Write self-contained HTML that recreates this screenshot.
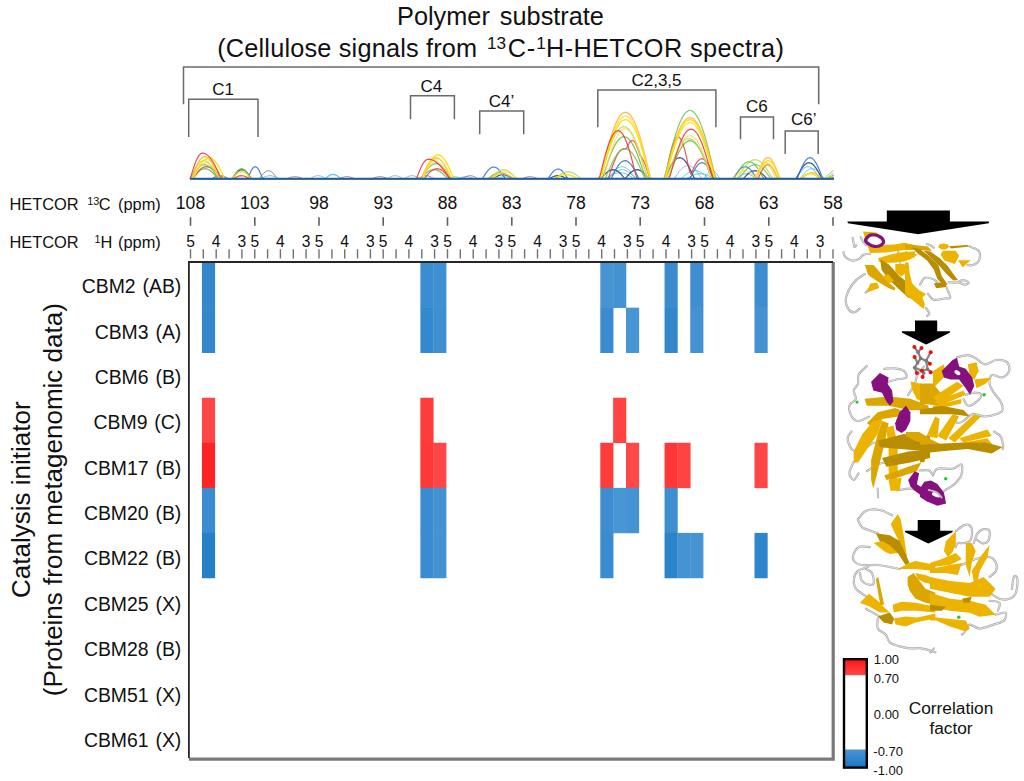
<!DOCTYPE html>
<html><head><meta charset="utf-8"><style>
html,body{margin:0;padding:0;background:#fff;overflow:hidden;}
svg{display:block}
text{font-family:'Liberation Sans',sans-serif;fill:#111}
</style></head><body>
<svg width="1024" height="781" viewBox="0 0 1024 781">
<rect width="1024" height="781" fill="#fff"/>
<text x="500.5" y="24.6" font-size="25.3" text-anchor="middle" word-spacing="3">Polymer substrate</text>
<text x="217.2" y="56.6" font-size="25.3" textLength="260" lengthAdjust="spacing">(Cellulose signals from</text>
<text x="487" y="49" font-size="17.2" textLength="19" lengthAdjust="spacing">13</text>
<text x="507.8" y="56.6" font-size="25.3" textLength="27.5" lengthAdjust="spacing">C-</text>
<text x="536.2" y="49" font-size="17.2">1</text>
<text x="546" y="56.6" font-size="25.3" textLength="238" lengthAdjust="spacing">H-HETCOR spectra)</text>
<path d="M183.5 104.2 V67 H818.7 V104.2" fill="none" stroke="#6a6a6a" stroke-width="1.5"/>
<path d="M188.7 137 V99.3 H258 V137" fill="none" stroke="#6a6a6a" stroke-width="1.5"/>
<path d="M410.5 119.2 V95.7 H454.4 V119.2" fill="none" stroke="#6a6a6a" stroke-width="1.5"/>
<path d="M479.7 134.3 V111 H523.7 V134.3" fill="none" stroke="#6a6a6a" stroke-width="1.5"/>
<path d="M597.8 127.3 V90 H715.9 V127.3" fill="none" stroke="#6a6a6a" stroke-width="1.5"/>
<path d="M740.5 139.2 V117.1 H773.5 V139.2" fill="none" stroke="#6a6a6a" stroke-width="1.5"/>
<path d="M785.2 154 V131.1 H818.2 V154" fill="none" stroke="#6a6a6a" stroke-width="1.5"/>
<text x="223.2" y="95" font-size="17" text-anchor="middle">C1</text>
<text x="431.4" y="91.5" font-size="17" text-anchor="middle">C4</text>
<text x="501.6" y="106.5" font-size="17" text-anchor="middle">C4’</text>
<text x="656.5" y="85.9" font-size="17" text-anchor="middle">C2,3,5</text>
<text x="756.8" y="112" font-size="17" text-anchor="middle">C6</text>
<text x="803.8" y="124.8" font-size="17" text-anchor="middle">C6’</text>
<text x="9.5" y="210" font-size="16.4">HETCOR</text>
<text x="87.2" y="205.2" font-size="10.8">13</text>
<text x="98.8" y="210" font-size="16.4">C</text>
<text x="118" y="210" font-size="16.4">(ppm)</text>
<text x="9.5" y="248" font-size="16.4">HETCOR</text>
<text x="94.6" y="243.2" font-size="10.8">1</text>
<text x="100.6" y="248" font-size="16.4">H</text>
<text x="118" y="248" font-size="16.4">(ppm)</text>
<text x="190.5" y="208.6" font-size="17.6" text-anchor="middle">108</text>
<line x1="190.5" y1="217.3" x2="190.5" y2="225.8" stroke="#606060" stroke-width="1.6"/>
<text x="254.8" y="208.6" font-size="17.6" text-anchor="middle">103</text>
<line x1="254.8" y1="217.3" x2="254.8" y2="225.8" stroke="#606060" stroke-width="1.6"/>
<text x="319.0" y="208.6" font-size="17.6" text-anchor="middle">98</text>
<line x1="319.0" y1="217.3" x2="319.0" y2="225.8" stroke="#606060" stroke-width="1.6"/>
<text x="383.2" y="208.6" font-size="17.6" text-anchor="middle">93</text>
<line x1="383.2" y1="217.3" x2="383.2" y2="225.8" stroke="#606060" stroke-width="1.6"/>
<text x="447.5" y="208.6" font-size="17.6" text-anchor="middle">88</text>
<line x1="447.5" y1="217.3" x2="447.5" y2="225.8" stroke="#606060" stroke-width="1.6"/>
<text x="511.8" y="208.6" font-size="17.6" text-anchor="middle">83</text>
<line x1="511.8" y1="217.3" x2="511.8" y2="225.8" stroke="#606060" stroke-width="1.6"/>
<text x="576.0" y="208.6" font-size="17.6" text-anchor="middle">78</text>
<line x1="576.0" y1="217.3" x2="576.0" y2="225.8" stroke="#606060" stroke-width="1.6"/>
<text x="640.2" y="208.6" font-size="17.6" text-anchor="middle">73</text>
<line x1="640.2" y1="217.3" x2="640.2" y2="225.8" stroke="#606060" stroke-width="1.6"/>
<text x="704.5" y="208.6" font-size="17.6" text-anchor="middle">68</text>
<line x1="704.5" y1="217.3" x2="704.5" y2="225.8" stroke="#606060" stroke-width="1.6"/>
<text x="768.8" y="208.6" font-size="17.6" text-anchor="middle">63</text>
<line x1="768.8" y1="217.3" x2="768.8" y2="225.8" stroke="#606060" stroke-width="1.6"/>
<text x="833.0" y="208.6" font-size="17.6" text-anchor="middle">58</text>
<line x1="833.0" y1="217.3" x2="833.0" y2="225.8" stroke="#606060" stroke-width="1.6"/>
<line x1="190.5" y1="249.2" x2="190.5" y2="258.5" stroke="#707070" stroke-width="1.4"/>
<text x="190.5" y="247" font-size="15.6" text-anchor="middle">5</text>
<line x1="203.3" y1="249.2" x2="203.3" y2="258.5" stroke="#707070" stroke-width="1.4"/>
<line x1="216.2" y1="249.2" x2="216.2" y2="258.5" stroke="#707070" stroke-width="1.4"/>
<text x="216.2" y="247" font-size="15.6" text-anchor="middle">4</text>
<line x1="229.1" y1="249.2" x2="229.1" y2="258.5" stroke="#707070" stroke-width="1.4"/>
<line x1="241.9" y1="249.2" x2="241.9" y2="258.5" stroke="#707070" stroke-width="1.4"/>
<text x="241.9" y="247" font-size="15.6" text-anchor="middle">3</text>
<line x1="254.8" y1="249.2" x2="254.8" y2="258.5" stroke="#707070" stroke-width="1.4"/>
<text x="254.8" y="247" font-size="15.6" text-anchor="middle">5</text>
<line x1="267.6" y1="249.2" x2="267.6" y2="258.5" stroke="#707070" stroke-width="1.4"/>
<line x1="280.4" y1="249.2" x2="280.4" y2="258.5" stroke="#707070" stroke-width="1.4"/>
<text x="280.4" y="247" font-size="15.6" text-anchor="middle">4</text>
<line x1="293.3" y1="249.2" x2="293.3" y2="258.5" stroke="#707070" stroke-width="1.4"/>
<line x1="306.1" y1="249.2" x2="306.1" y2="258.5" stroke="#707070" stroke-width="1.4"/>
<text x="306.1" y="247" font-size="15.6" text-anchor="middle">3</text>
<line x1="319.0" y1="249.2" x2="319.0" y2="258.5" stroke="#707070" stroke-width="1.4"/>
<text x="319.0" y="247" font-size="15.6" text-anchor="middle">5</text>
<line x1="331.9" y1="249.2" x2="331.9" y2="258.5" stroke="#707070" stroke-width="1.4"/>
<line x1="344.7" y1="249.2" x2="344.7" y2="258.5" stroke="#707070" stroke-width="1.4"/>
<text x="344.7" y="247" font-size="15.6" text-anchor="middle">4</text>
<line x1="357.5" y1="249.2" x2="357.5" y2="258.5" stroke="#707070" stroke-width="1.4"/>
<line x1="370.4" y1="249.2" x2="370.4" y2="258.5" stroke="#707070" stroke-width="1.4"/>
<text x="370.4" y="247" font-size="15.6" text-anchor="middle">3</text>
<line x1="383.2" y1="249.2" x2="383.2" y2="258.5" stroke="#707070" stroke-width="1.4"/>
<text x="383.2" y="247" font-size="15.6" text-anchor="middle">5</text>
<line x1="396.1" y1="249.2" x2="396.1" y2="258.5" stroke="#707070" stroke-width="1.4"/>
<line x1="408.9" y1="249.2" x2="408.9" y2="258.5" stroke="#707070" stroke-width="1.4"/>
<text x="408.9" y="247" font-size="15.6" text-anchor="middle">4</text>
<line x1="421.8" y1="249.2" x2="421.8" y2="258.5" stroke="#707070" stroke-width="1.4"/>
<line x1="434.6" y1="249.2" x2="434.6" y2="258.5" stroke="#707070" stroke-width="1.4"/>
<text x="434.6" y="247" font-size="15.6" text-anchor="middle">3</text>
<line x1="447.5" y1="249.2" x2="447.5" y2="258.5" stroke="#707070" stroke-width="1.4"/>
<text x="447.5" y="247" font-size="15.6" text-anchor="middle">5</text>
<line x1="460.3" y1="249.2" x2="460.3" y2="258.5" stroke="#707070" stroke-width="1.4"/>
<line x1="473.2" y1="249.2" x2="473.2" y2="258.5" stroke="#707070" stroke-width="1.4"/>
<text x="473.2" y="247" font-size="15.6" text-anchor="middle">4</text>
<line x1="486.1" y1="249.2" x2="486.1" y2="258.5" stroke="#707070" stroke-width="1.4"/>
<line x1="498.9" y1="249.2" x2="498.9" y2="258.5" stroke="#707070" stroke-width="1.4"/>
<text x="498.9" y="247" font-size="15.6" text-anchor="middle">3</text>
<line x1="511.8" y1="249.2" x2="511.8" y2="258.5" stroke="#707070" stroke-width="1.4"/>
<text x="511.8" y="247" font-size="15.6" text-anchor="middle">5</text>
<line x1="524.6" y1="249.2" x2="524.6" y2="258.5" stroke="#707070" stroke-width="1.4"/>
<line x1="537.5" y1="249.2" x2="537.5" y2="258.5" stroke="#707070" stroke-width="1.4"/>
<text x="537.5" y="247" font-size="15.6" text-anchor="middle">4</text>
<line x1="550.3" y1="249.2" x2="550.3" y2="258.5" stroke="#707070" stroke-width="1.4"/>
<line x1="563.1" y1="249.2" x2="563.1" y2="258.5" stroke="#707070" stroke-width="1.4"/>
<text x="563.1" y="247" font-size="15.6" text-anchor="middle">3</text>
<line x1="576.0" y1="249.2" x2="576.0" y2="258.5" stroke="#707070" stroke-width="1.4"/>
<text x="576.0" y="247" font-size="15.6" text-anchor="middle">5</text>
<line x1="588.8" y1="249.2" x2="588.8" y2="258.5" stroke="#707070" stroke-width="1.4"/>
<line x1="601.7" y1="249.2" x2="601.7" y2="258.5" stroke="#707070" stroke-width="1.4"/>
<text x="601.7" y="247" font-size="15.6" text-anchor="middle">4</text>
<line x1="614.5" y1="249.2" x2="614.5" y2="258.5" stroke="#707070" stroke-width="1.4"/>
<line x1="627.4" y1="249.2" x2="627.4" y2="258.5" stroke="#707070" stroke-width="1.4"/>
<text x="627.4" y="247" font-size="15.6" text-anchor="middle">3</text>
<line x1="640.2" y1="249.2" x2="640.2" y2="258.5" stroke="#707070" stroke-width="1.4"/>
<text x="640.2" y="247" font-size="15.6" text-anchor="middle">5</text>
<line x1="653.1" y1="249.2" x2="653.1" y2="258.5" stroke="#707070" stroke-width="1.4"/>
<line x1="666.0" y1="249.2" x2="666.0" y2="258.5" stroke="#707070" stroke-width="1.4"/>
<text x="666.0" y="247" font-size="15.6" text-anchor="middle">4</text>
<line x1="678.8" y1="249.2" x2="678.8" y2="258.5" stroke="#707070" stroke-width="1.4"/>
<line x1="691.6" y1="249.2" x2="691.6" y2="258.5" stroke="#707070" stroke-width="1.4"/>
<text x="691.6" y="247" font-size="15.6" text-anchor="middle">3</text>
<line x1="704.5" y1="249.2" x2="704.5" y2="258.5" stroke="#707070" stroke-width="1.4"/>
<text x="704.5" y="247" font-size="15.6" text-anchor="middle">5</text>
<line x1="717.4" y1="249.2" x2="717.4" y2="258.5" stroke="#707070" stroke-width="1.4"/>
<line x1="730.2" y1="249.2" x2="730.2" y2="258.5" stroke="#707070" stroke-width="1.4"/>
<text x="730.2" y="247" font-size="15.6" text-anchor="middle">4</text>
<line x1="743.0" y1="249.2" x2="743.0" y2="258.5" stroke="#707070" stroke-width="1.4"/>
<line x1="755.9" y1="249.2" x2="755.9" y2="258.5" stroke="#707070" stroke-width="1.4"/>
<text x="755.9" y="247" font-size="15.6" text-anchor="middle">3</text>
<line x1="768.8" y1="249.2" x2="768.8" y2="258.5" stroke="#707070" stroke-width="1.4"/>
<text x="768.8" y="247" font-size="15.6" text-anchor="middle">5</text>
<line x1="781.6" y1="249.2" x2="781.6" y2="258.5" stroke="#707070" stroke-width="1.4"/>
<line x1="794.4" y1="249.2" x2="794.4" y2="258.5" stroke="#707070" stroke-width="1.4"/>
<text x="794.4" y="247" font-size="15.6" text-anchor="middle">4</text>
<line x1="807.3" y1="249.2" x2="807.3" y2="258.5" stroke="#707070" stroke-width="1.4"/>
<line x1="820.1" y1="249.2" x2="820.1" y2="258.5" stroke="#707070" stroke-width="1.4"/>
<text x="820.1" y="247" font-size="15.6" text-anchor="middle">3</text>
<line x1="833.0" y1="249.2" x2="833.0" y2="258.5" stroke="#707070" stroke-width="1.4"/>
<rect x="201.95" y="262.60" width="13.15" height="45.35" fill="#3587cc"/>
<rect x="420.40" y="262.60" width="13.15" height="45.35" fill="#3b8cd0"/>
<rect x="433.25" y="262.60" width="13.15" height="45.35" fill="#3f90d2"/>
<rect x="600.30" y="262.60" width="13.15" height="45.35" fill="#4894d3"/>
<rect x="613.15" y="262.60" width="13.15" height="45.35" fill="#4592d2"/>
<rect x="664.55" y="262.60" width="13.15" height="45.35" fill="#3a8ccf"/>
<rect x="690.25" y="262.60" width="13.15" height="45.35" fill="#3f8fd0"/>
<rect x="754.50" y="262.60" width="13.15" height="45.35" fill="#3d8ed0"/>
<rect x="201.95" y="307.65" width="13.15" height="45.35" fill="#3587cc"/>
<rect x="420.40" y="307.65" width="13.15" height="45.35" fill="#3488cd"/>
<rect x="433.25" y="307.65" width="13.15" height="45.35" fill="#3d8fd2"/>
<rect x="600.30" y="307.65" width="13.15" height="45.35" fill="#3a8bd0"/>
<rect x="626.00" y="307.65" width="13.15" height="45.35" fill="#4795d3"/>
<rect x="664.55" y="307.65" width="13.15" height="45.35" fill="#3388cc"/>
<rect x="690.25" y="307.65" width="13.15" height="45.35" fill="#4592d2"/>
<rect x="754.50" y="307.65" width="13.15" height="45.35" fill="#4492d2"/>
<rect x="201.95" y="397.75" width="13.15" height="45.35" fill="#ff4646"/>
<rect x="420.40" y="397.75" width="13.15" height="45.35" fill="#ff3c3c"/>
<rect x="613.15" y="397.75" width="13.15" height="45.35" fill="#ff4242"/>
<rect x="201.95" y="442.80" width="13.15" height="45.35" fill="#ff2424"/>
<rect x="420.40" y="442.80" width="13.15" height="45.35" fill="#ff3838"/>
<rect x="433.25" y="442.80" width="13.15" height="45.35" fill="#ff4646"/>
<rect x="600.30" y="442.80" width="13.15" height="45.35" fill="#ff3c3c"/>
<rect x="626.00" y="442.80" width="13.15" height="45.35" fill="#ff4848"/>
<rect x="664.55" y="442.80" width="13.15" height="45.35" fill="#ff3636"/>
<rect x="677.40" y="442.80" width="13.15" height="45.35" fill="#ff4242"/>
<rect x="754.50" y="442.80" width="13.15" height="45.35" fill="#ff4646"/>
<rect x="201.95" y="487.85" width="13.15" height="45.35" fill="#3a8bd0"/>
<rect x="420.40" y="487.85" width="13.15" height="45.35" fill="#3a8bd0"/>
<rect x="433.25" y="487.85" width="13.15" height="45.35" fill="#4592d2"/>
<rect x="600.30" y="487.85" width="13.15" height="45.35" fill="#3d8dd0"/>
<rect x="613.15" y="487.85" width="13.15" height="45.35" fill="#4896d4"/>
<rect x="626.00" y="487.85" width="13.15" height="45.35" fill="#4593d3"/>
<rect x="664.55" y="487.85" width="13.15" height="45.35" fill="#3e8ed0"/>
<rect x="201.95" y="532.90" width="13.15" height="45.35" fill="#2680c8"/>
<rect x="420.40" y="532.90" width="13.15" height="45.35" fill="#3a8bd0"/>
<rect x="433.25" y="532.90" width="13.15" height="45.35" fill="#4592d2"/>
<rect x="600.30" y="532.90" width="13.15" height="45.35" fill="#3a8bd0"/>
<rect x="664.55" y="532.90" width="13.15" height="45.35" fill="#2a84cb"/>
<rect x="677.40" y="532.90" width="13.15" height="45.35" fill="#4593d3"/>
<rect x="690.25" y="532.90" width="13.15" height="45.35" fill="#4794d3"/>
<rect x="754.50" y="532.90" width="13.15" height="45.35" fill="#2e85cb"/>
<path d="M833.2 262 V759.2 H188.9" fill="none" stroke="#7a7a7a" stroke-width="3.2"/>
<path d="M188.9 758 V262 H833" fill="none" stroke="#262626" stroke-width="1.8"/>
<text x="181.3" y="292.7" font-size="19.4" text-anchor="end" word-spacing="1.5">CBM2 (AB)</text>
<text x="181.3" y="338.8" font-size="19.4" text-anchor="end" word-spacing="1.5">CBM3 (A)</text>
<text x="181.3" y="384" font-size="19.4" text-anchor="end" word-spacing="1.5">CBM6 (B)</text>
<text x="181.3" y="428.9" font-size="19.4" text-anchor="end" word-spacing="1.5">CBM9 (C)</text>
<text x="181.3" y="474.5" font-size="19.4" text-anchor="end" word-spacing="1.5">CBM17 (B)</text>
<text x="181.3" y="519.5" font-size="19.4" text-anchor="end" word-spacing="1.5">CBM20 (B)</text>
<text x="181.3" y="564.8" font-size="19.4" text-anchor="end" word-spacing="1.5">CBM22 (B)</text>
<text x="181.3" y="610.8" font-size="19.4" text-anchor="end" word-spacing="1.5">CBM25 (X)</text>
<text x="181.3" y="656.1" font-size="19.4" text-anchor="end" word-spacing="1.5">CBM28 (B)</text>
<text x="181.3" y="701.8" font-size="19.4" text-anchor="end" word-spacing="1.5">CBM51 (X)</text>
<text x="181.3" y="747.2" font-size="19.4" text-anchor="end" word-spacing="1.5">CBM61 (X)</text>
<text transform="translate(30,499.7) rotate(-90)" font-size="26" text-anchor="middle">Catalysis initiator</text>
<text transform="translate(61.5,499.7) rotate(-90)" font-size="26" text-anchor="middle">(Proteins from metagenomic data)</text>
<defs><linearGradient id="gr" x1="0" y1="0" x2="0" y2="1"><stop offset="0" stop-color="#ff1414"/><stop offset="1" stop-color="#ff4848"/></linearGradient><linearGradient id="gb" x1="0" y1="0" x2="0" y2="1"><stop offset="0" stop-color="#4a94d2"/><stop offset="1" stop-color="#1a76c6"/></linearGradient></defs>
<rect x="844" y="659.2" width="22.8" height="108.4" fill="#fff"/>
<rect x="844" y="659.2" width="22.8" height="16" fill="url(#gr)"/>
<rect x="844" y="749.5" width="22.8" height="18" fill="url(#gb)"/>
<rect x="844" y="659.2" width="22.8" height="108.4" fill="none" stroke="#000" stroke-width="2.4"/>
<text x="873.8" y="664.3" font-size="13" fill="#333">1.00</text>
<text x="873.8" y="683.2" font-size="13" fill="#333">0.70</text>
<text x="873.8" y="718.6" font-size="13" fill="#333">0.00</text>
<text x="873.3" y="756" font-size="13" fill="#333">-0.70</text>
<text x="873.3" y="774.5" font-size="13" fill="#333">-1.00</text>
<text x="951" y="713.9" font-size="17.3" text-anchor="middle">Correlation</text>
<text x="951" y="733.8" font-size="17.3" text-anchor="middle">factor</text>
<path d="M190.0 178.7 L191.5 178.7 L193.0 178.7 L194.5 178.7 L196.0 178.7 L197.5 178.7 L199.0 178.7 L200.5 178.7 L202.0 178.7 L203.5 178.7 L205.0 178.7 L206.5 178.7 L208.0 178.7 L209.5 178.7 L211.0 178.7 L212.5 178.7 L214.0 178.7 L215.5 178.7 L217.0 178.7 L218.5 178.7 L220.0 178.7 L221.5 178.7 L223.0 178.7 L224.5 178.7 L226.0 178.7 L227.5 178.7 L229.0 178.7 L230.5 178.7 L232.0 178.7 L233.5 178.7 L235.0 178.7 L236.5 178.7 L238.0 178.7 L239.5 178.7 L241.0 178.7 L242.5 178.7 L244.0 178.7 L245.5 178.7 L247.0 178.7 L248.5 178.7 L250.0 178.7 L251.5 178.7 L253.0 178.7 L254.5 178.7 L256.0 178.7 L257.5 178.7 L259.0 178.7 L260.5 178.7 L262.0 178.7 L263.5 178.7 L265.0 178.7 L266.5 178.7 L268.0 178.7 L269.5 178.7 L271.0 178.7 L272.5 178.7 L274.0 178.7 L275.5 178.7 L277.0 178.7 L278.5 178.7 L280.0 178.7 L281.5 178.7 L283.0 178.7 L284.5 178.7 L286.0 178.7 L287.5 178.7 L289.0 178.7 L290.5 178.7 L292.0 178.7 L293.5 178.7 L295.0 178.7 L296.5 178.7 L298.0 178.7 L299.5 178.7 L301.0 178.7 L302.5 178.7 L304.0 178.7 L305.5 178.7 L307.0 178.7 L308.5 178.7 L310.0 178.7 L311.5 177.9 L313.0 177.0 L314.5 176.4 L316.0 175.9 L317.5 175.7 L319.0 175.8 L320.5 176.0 L322.0 176.6 L323.5 177.3 L325.0 178.2 L326.5 177.6 L328.0 176.5 L329.5 175.6 L331.0 175.0 L332.5 174.7 L334.0 174.8 L335.5 175.2 L337.0 175.9 L338.5 176.8 L340.0 178.0 L341.5 178.7 L343.0 178.7 L344.5 178.7 L346.0 178.7 L347.5 178.7 L349.0 178.7 L350.5 178.7 L352.0 178.7 L353.5 178.7 L355.0 178.7 L356.5 178.7 L358.0 178.7 L359.5 178.7 L361.0 178.7 L362.5 178.7 L364.0 178.7 L365.5 178.7 L367.0 178.7 L368.5 178.7 L370.0 178.7 L371.5 178.7 L373.0 178.7 L374.5 178.7 L376.0 178.7 L377.5 178.7 L379.0 178.7 L380.5 178.7 L382.0 178.7 L383.5 178.7 L385.0 178.7 L386.5 178.7 L388.0 178.2 L389.5 177.3 L391.0 176.6 L392.5 176.0 L394.0 175.8 L395.5 175.7 L397.0 175.9 L398.5 176.4 L400.0 177.0 L401.5 177.9 L403.0 178.7 L404.5 178.5 L406.0 177.6 L407.5 176.8 L409.0 176.2 L410.5 175.8 L412.0 175.7 L413.5 175.8 L415.0 176.2 L416.5 176.8 L418.0 177.6 L419.5 178.5 L421.0 178.7 L422.5 178.7 L424.0 178.7 L425.5 178.7 L427.0 178.7 L428.5 178.7 L430.0 178.7 L431.5 178.7 L433.0 178.7 L434.5 178.7 L436.0 178.7 L437.5 178.7 L439.0 178.7 L440.5 178.7 L442.0 178.7 L443.5 178.7 L445.0 178.7 L446.5 178.7 L448.0 178.7 L449.5 178.7 L451.0 178.7 L452.5 178.7 L454.0 178.7 L455.5 178.7 L457.0 178.7 L458.5 178.5 L460.0 178.0 L461.5 177.4 L463.0 177.0 L464.5 176.8 L466.0 176.7 L467.5 176.8 L469.0 177.0 L470.5 177.4 L472.0 178.0 L473.5 178.5 L475.0 178.7 L476.5 178.7 L478.0 178.7 L479.5 178.7 L481.0 178.7 L482.5 178.7 L484.0 178.7 L485.5 178.7 L487.0 178.7 L488.5 178.7 L490.0 178.7 L491.5 178.7 L493.0 178.7 L494.5 178.7 L496.0 178.7 L497.5 178.7 L499.0 178.7 L500.5 178.7 L502.0 178.7 L503.5 178.7 L505.0 178.7 L506.5 178.7 L508.0 178.7 L509.5 178.7 L511.0 178.7 L512.5 178.7 L514.0 178.7 L515.5 178.7 L517.0 178.7 L518.5 178.7 L520.0 178.7 L521.5 178.7 L523.0 178.7 L524.5 178.7 L526.0 178.7 L527.5 178.7 L529.0 178.7 L530.5 178.7 L532.0 178.7 L533.5 178.7 L535.0 178.7 L536.5 178.7 L538.0 178.7 L539.5 178.7 L541.0 178.7 L542.5 178.7 L544.0 178.7 L545.5 178.7 L547.0 178.7 L548.5 178.7 L550.0 178.7 L551.5 178.7 L553.0 178.7 L554.5 178.7 L556.0 178.7 L557.5 178.7 L559.0 178.7 L560.5 178.7 L562.0 178.7 L563.5 178.7 L565.0 178.7 L566.5 178.7 L568.0 178.7 L569.5 178.7 L571.0 178.7 L572.5 178.7 L574.0 178.7 L575.5 178.7 L577.0 178.7 L578.5 178.7 L580.0 178.7 L581.5 178.7 L583.0 178.7 L584.5 178.7 L586.0 178.7 L587.5 178.7 L589.0 178.7 L590.5 178.7 L592.0 178.7 L593.5 178.7 L595.0 178.7 L596.5 178.7 L598.0 178.7 L599.5 178.7 L601.0 178.7 L602.5 178.7 L604.0 178.7 L605.5 178.7 L607.0 178.7 L608.5 178.2 L610.0 176.3 L611.5 174.3 L613.0 172.4 L614.5 170.7 L616.0 169.3 L617.5 168.2 L619.0 167.4 L620.5 166.9 L622.0 166.7 L623.5 166.9 L625.0 167.4 L626.5 168.2 L628.0 169.3 L629.5 170.7 L631.0 172.4 L632.5 174.3 L634.0 176.3 L635.5 178.2 L637.0 178.7 L638.5 178.7 L640.0 178.7 L641.5 178.7 L643.0 178.7 L644.5 178.7 L646.0 178.7 L647.5 178.7 L649.0 178.7 L650.5 178.7 L652.0 178.7 L653.5 178.7 L655.0 178.7 L656.5 178.7 L658.0 178.7 L659.5 178.7 L661.0 178.7 L662.5 178.7 L664.0 178.7 L665.5 178.7 L667.0 178.7 L668.5 178.7 L670.0 178.7 L671.5 178.7 L673.0 178.7 L674.5 178.2 L676.0 176.1 L677.5 173.9 L679.0 171.8 L680.5 170.0 L682.0 168.5 L683.5 167.3 L685.0 166.4 L686.5 165.9 L688.0 165.7 L689.5 165.9 L691.0 166.4 L692.5 167.3 L694.0 168.5 L695.5 170.0 L697.0 171.8 L698.5 173.9 L700.0 176.1 L701.5 178.2 L703.0 178.7 L704.5 178.1 L706.0 175.7 L707.5 173.6 L709.0 172.0 L710.5 171.0 L712.0 170.7 L713.5 171.0 L715.0 172.0 L716.5 173.6 L718.0 175.7 L719.5 178.1 L721.0 178.7 L722.5 178.7 L724.0 178.7 L725.5 178.7 L727.0 178.7 L728.5 178.7 L730.0 178.7 L731.5 178.7 L733.0 178.7 L734.5 178.7 L736.0 178.7 L737.5 178.7 L739.0 178.7 L740.5 178.7 L742.0 178.7 L743.5 178.7 L745.0 178.7 L746.5 178.7 L748.0 178.7 L749.5 178.7 L751.0 178.7 L752.5 178.7 L754.0 178.7 L755.5 178.7 L757.0 178.7 L758.5 178.7 L760.0 178.7 L761.5 178.7 L763.0 178.7 L764.5 178.7 L766.0 178.7 L767.5 178.7 L769.0 178.7 L770.5 178.7 L772.0 178.7 L773.5 178.7 L775.0 178.7 L776.5 178.7 L778.0 178.7 L779.5 178.7 L781.0 178.7 L782.5 178.7 L784.0 178.7 L785.5 178.7 L787.0 178.7 L788.5 178.7 L790.0 178.7 L791.5 178.7 L793.0 178.7 L794.5 178.7 L796.0 178.7 L797.5 178.7 L799.0 178.7 L800.5 178.7 L802.0 178.7 L803.5 178.7 L805.0 178.7 L806.5 178.7 L808.0 178.7 L809.5 178.7 L811.0 178.7 L812.5 178.7 L814.0 178.7 L815.5 178.7 L817.0 178.7 L818.5 178.7 L820.0 178.7 L821.5 178.7 L823.0 178.7 L824.5 178.7 L826.0 178.7 L827.5 178.7 L829.0 178.7 L830.5 178.7 L832.0 178.7 L833.5 178.7" fill="none" stroke="#6cb0ec" stroke-width="1.0" stroke-opacity="0.8" stroke-linejoin="round"/>
<path d="M190.0 178.7 L191.5 178.7 L193.0 178.7 L194.5 178.7 L196.0 178.7 L197.5 178.7 L199.0 178.7 L200.5 178.7 L202.0 178.7 L203.5 178.7 L205.0 178.7 L206.5 178.7 L208.0 178.7 L209.5 178.7 L211.0 178.7 L212.5 178.7 L214.0 178.7 L215.5 178.7 L217.0 178.7 L218.5 178.7 L220.0 178.7 L221.5 178.7 L223.0 178.7 L224.5 178.7 L226.0 178.7 L227.5 178.7 L229.0 178.7 L230.5 178.7 L232.0 178.7 L233.5 178.7 L235.0 178.7 L236.5 178.7 L238.0 178.7 L239.5 178.7 L241.0 178.7 L242.5 178.7 L244.0 178.7 L245.5 178.7 L247.0 178.7 L248.5 178.7 L250.0 178.7 L251.5 178.7 L253.0 178.7 L254.5 178.7 L256.0 178.7 L257.5 178.7 L259.0 178.7 L260.5 177.3 L262.0 175.3 L263.5 173.5 L265.0 172.0 L266.5 171.1 L268.0 170.7 L269.5 170.8 L271.0 171.5 L272.5 172.6 L274.0 174.3 L275.5 176.2 L277.0 178.3 L278.5 178.7 L280.0 178.7 L281.5 178.7 L283.0 178.7 L284.5 178.7 L286.0 178.7 L287.5 178.5 L289.0 178.0 L290.5 177.4 L292.0 177.0 L293.5 176.8 L295.0 176.7 L296.5 176.8 L298.0 177.0 L299.5 177.4 L301.0 178.0 L302.5 178.5 L304.0 178.7 L305.5 178.7 L307.0 178.7 L308.5 178.7 L310.0 178.7 L311.5 178.7 L313.0 178.7 L314.5 178.7 L316.0 178.7 L317.5 178.7 L319.0 178.7 L320.5 178.7 L322.0 178.7 L323.5 178.7 L325.0 178.7 L326.5 178.7 L328.0 178.7 L329.5 178.7 L331.0 178.7 L332.5 178.7 L334.0 178.7 L335.5 178.7 L337.0 178.7 L338.5 178.7 L340.0 178.3 L341.5 177.8 L343.0 177.3 L344.5 176.9 L346.0 176.7 L347.5 176.7 L349.0 176.8 L350.5 177.2 L352.0 177.6 L353.5 178.2 L355.0 178.7 L356.5 178.7 L358.0 178.7 L359.5 178.7 L361.0 178.7 L362.5 178.7 L364.0 178.7 L365.5 178.7 L367.0 178.7 L368.5 178.7 L370.0 178.7 L371.5 178.7 L373.0 178.3 L374.5 177.8 L376.0 177.3 L377.5 176.9 L379.0 176.7 L380.5 176.7 L382.0 176.8 L383.5 177.2 L385.0 177.6 L386.5 178.2 L388.0 178.7 L389.5 178.7 L391.0 178.7 L392.5 178.7 L394.0 178.7 L395.5 178.7 L397.0 178.7 L398.5 178.7 L400.0 178.7 L401.5 178.7 L403.0 178.7 L404.5 178.7 L406.0 178.7 L407.5 178.7 L409.0 178.7 L410.5 178.7 L412.0 178.7 L413.5 178.7 L415.0 178.7 L416.5 178.7 L418.0 178.7 L419.5 177.9 L421.0 177.0 L422.5 176.4 L424.0 175.9 L425.5 175.7 L427.0 175.8 L428.5 176.0 L430.0 176.6 L431.5 177.3 L433.0 178.2 L434.5 178.7 L436.0 178.7 L437.5 178.7 L439.0 178.7 L440.5 178.7 L442.0 178.7 L443.5 178.7 L445.0 178.7 L446.5 178.7 L448.0 178.7 L449.5 178.7 L451.0 178.7 L452.5 178.7 L454.0 178.7 L455.5 178.7 L457.0 178.7 L458.5 178.7 L460.0 178.7 L461.5 178.7 L463.0 178.2 L464.5 177.3 L466.0 176.6 L467.5 176.0 L469.0 175.8 L470.5 175.7 L472.0 175.9 L473.5 176.4 L475.0 177.0 L476.5 177.9 L478.0 178.7 L479.5 178.7 L481.0 178.7 L482.5 178.7 L484.0 178.7 L485.5 178.7 L487.0 178.7 L488.5 178.7 L490.0 178.7 L491.5 178.7 L493.0 178.7 L494.5 178.7 L496.0 178.7 L497.5 178.7 L499.0 178.7 L500.5 178.7 L502.0 178.7 L503.5 178.7 L505.0 178.7 L506.5 178.7 L508.0 178.7 L509.5 178.7 L511.0 178.7 L512.5 178.7 L514.0 178.7 L515.5 178.7 L517.0 178.7 L518.5 178.7 L520.0 178.7 L521.5 178.7 L523.0 178.3 L524.5 177.8 L526.0 177.3 L527.5 176.9 L529.0 176.7 L530.5 176.7 L532.0 176.8 L533.5 177.2 L535.0 177.6 L536.5 178.2 L538.0 178.7 L539.5 178.7 L541.0 178.7 L542.5 178.7 L544.0 178.7 L545.5 178.7 L547.0 178.7 L548.5 178.7 L550.0 178.7 L551.5 178.7 L553.0 178.7 L554.5 178.7 L556.0 178.7 L557.5 178.7 L559.0 178.7 L560.5 178.7 L562.0 178.7 L563.5 178.7 L565.0 178.7 L566.5 178.7 L568.0 178.7 L569.5 178.7 L571.0 178.7 L572.5 178.7 L574.0 178.7 L575.5 178.7 L577.0 178.7 L578.5 178.7 L580.0 178.7 L581.5 178.7 L583.0 178.7 L584.5 178.7 L586.0 178.7 L587.5 178.7 L589.0 178.7 L590.5 178.7 L592.0 178.7 L593.5 178.7 L595.0 178.7 L596.5 178.7 L598.0 178.7 L599.5 178.7 L601.0 178.7 L602.5 178.7 L604.0 178.7 L605.5 178.7 L607.0 178.7 L608.5 178.7 L610.0 178.7 L611.5 178.7 L613.0 178.7 L614.5 178.7 L616.0 178.7 L617.5 178.7 L619.0 178.7 L620.5 178.7 L622.0 178.7 L623.5 178.7 L625.0 178.7 L626.5 178.7 L628.0 178.7 L629.5 178.7 L631.0 178.7 L632.5 178.7 L634.0 178.7 L635.5 178.7 L637.0 178.7 L638.5 178.7 L640.0 178.7 L641.5 178.7 L643.0 178.7 L644.5 178.7 L646.0 178.7 L647.5 178.7 L649.0 178.7 L650.5 178.7 L652.0 178.7 L653.5 178.7 L655.0 178.7 L656.5 178.7 L658.0 178.7 L659.5 178.7 L661.0 178.7 L662.5 178.7 L664.0 178.7 L665.5 178.7 L667.0 178.7 L668.5 178.7 L670.0 178.7 L671.5 178.7 L673.0 178.7 L674.5 178.7 L676.0 178.7 L677.5 178.7 L679.0 178.7 L680.5 178.7 L682.0 178.7 L683.5 178.7 L685.0 178.7 L686.5 178.7 L688.0 178.7 L689.5 178.7 L691.0 178.7 L692.5 178.7 L694.0 178.7 L695.5 178.7 L697.0 178.7 L698.5 178.7 L700.0 178.7 L701.5 178.7 L703.0 178.7 L704.5 178.7 L706.0 178.7 L707.5 178.7 L709.0 178.7 L710.5 178.7 L712.0 178.7 L713.5 178.7 L715.0 178.7 L716.5 178.7 L718.0 178.7 L719.5 178.7 L721.0 178.7 L722.5 178.7 L724.0 178.7 L725.5 178.7 L727.0 178.7 L728.5 178.7 L730.0 178.7 L731.5 178.7 L733.0 178.7 L734.5 178.7 L736.0 178.7 L737.5 178.7 L739.0 178.7 L740.5 178.7 L742.0 178.7 L743.5 178.7 L745.0 178.7 L746.5 178.7 L748.0 178.7 L749.5 178.7 L751.0 178.7 L752.5 178.7 L754.0 178.7 L755.5 178.7 L757.0 178.7 L758.5 178.7 L760.0 178.7 L761.5 178.7 L763.0 178.7 L764.5 178.7 L766.0 178.7 L767.5 178.7 L769.0 178.7 L770.5 178.7 L772.0 178.7 L773.5 178.7 L775.0 178.7 L776.5 178.7 L778.0 178.7 L779.5 178.7 L781.0 178.7 L782.5 178.7 L784.0 178.7 L785.5 178.7 L787.0 178.7 L788.5 178.7 L790.0 178.7 L791.5 178.7 L793.0 178.7 L794.5 178.7 L796.0 178.7 L797.5 178.7 L799.0 178.7 L800.5 178.7 L802.0 178.7 L803.5 178.7 L805.0 178.7 L806.5 178.7 L808.0 178.7 L809.5 178.7 L811.0 178.7 L812.5 178.7 L814.0 178.7 L815.5 178.7 L817.0 178.7 L818.5 178.7 L820.0 178.7 L821.5 178.7 L823.0 178.7 L824.5 178.7 L826.0 178.7 L827.5 178.7 L829.0 178.7 L830.5 178.7 L832.0 178.7 L833.5 178.7" fill="none" stroke="#6a5c9c" stroke-width="1.0" stroke-opacity="0.7" stroke-linejoin="round"/>
<path d="M190.0 178.7 L191.5 178.7 L193.0 178.7 L194.5 178.7 L196.0 178.7 L197.5 178.7 L199.0 178.7 L200.5 178.7 L202.0 178.7 L203.5 178.7 L205.0 178.7 L206.5 178.7 L208.0 178.7 L209.5 178.7 L211.0 178.7 L212.5 178.7 L214.0 178.7 L215.5 178.7 L217.0 178.7 L218.5 178.7 L220.0 178.7 L221.5 178.7 L223.0 178.7 L224.5 178.7 L226.0 178.7 L227.5 178.7 L229.0 178.7 L230.5 178.7 L232.0 178.7 L233.5 178.7 L235.0 178.7 L236.5 178.7 L238.0 178.7 L239.5 178.7 L241.0 178.7 L242.5 178.7 L244.0 178.7 L245.5 178.7 L247.0 178.7 L248.5 178.7 L250.0 178.7 L251.5 178.7 L253.0 178.7 L254.5 178.7 L256.0 178.7 L257.5 178.7 L259.0 178.7 L260.5 178.7 L262.0 178.2 L263.5 177.5 L265.0 176.8 L266.5 176.2 L268.0 175.9 L269.5 175.7 L271.0 175.7 L272.5 176.0 L274.0 176.4 L275.5 177.0 L277.0 177.7 L278.5 178.5 L280.0 178.7 L281.5 178.7 L283.0 178.7 L284.5 178.7 L286.0 178.7 L287.5 178.7 L289.0 178.7 L290.5 178.7 L292.0 178.7 L293.5 178.7 L295.0 178.7 L296.5 178.7 L298.0 178.7 L299.5 178.7 L301.0 178.7 L302.5 178.7 L304.0 178.7 L305.5 178.7 L307.0 178.7 L308.5 178.7 L310.0 178.7 L311.5 178.7 L313.0 178.7 L314.5 178.7 L316.0 178.7 L317.5 178.7 L319.0 178.7 L320.5 178.7 L322.0 178.7 L323.5 178.7 L325.0 178.7 L326.5 177.5 L328.0 176.2 L329.5 175.2 L331.0 174.5 L332.5 174.2 L334.0 174.3 L335.5 174.7 L337.0 175.5 L338.5 176.6 L340.0 177.9 L341.5 178.7 L343.0 178.7 L344.5 178.7 L346.0 178.7 L347.5 178.7 L349.0 178.7 L350.5 178.7 L352.0 178.7 L353.5 178.7 L355.0 178.7 L356.5 178.7 L358.0 178.7 L359.5 178.7 L361.0 178.7 L362.5 178.7 L364.0 178.7 L365.5 178.7 L367.0 178.7 L368.5 178.7 L370.0 178.7 L371.5 178.7 L373.0 178.7 L374.5 178.7 L376.0 178.7 L377.5 178.7 L379.0 178.7 L380.5 178.7 L382.0 178.7 L383.5 178.7 L385.0 178.7 L386.5 178.7 L388.0 178.7 L389.5 178.7 L391.0 178.7 L392.5 178.7 L394.0 178.7 L395.5 178.7 L397.0 178.7 L398.5 178.7 L400.0 178.7 L401.5 178.7 L403.0 178.7 L404.5 178.7 L406.0 178.7 L407.5 178.7 L409.0 178.7 L410.5 178.7 L412.0 178.7 L413.5 178.7 L415.0 178.7 L416.5 178.7 L418.0 178.7 L419.5 178.7 L421.0 178.7 L422.5 178.7 L424.0 178.7 L425.5 178.7 L427.0 178.7 L428.5 178.7 L430.0 178.7 L431.5 178.7 L433.0 178.7 L434.5 178.7 L436.0 178.7 L437.5 178.7 L439.0 178.7 L440.5 178.7 L442.0 178.7 L443.5 178.7 L445.0 178.7 L446.5 178.7 L448.0 178.7 L449.5 178.5 L451.0 177.7 L452.5 177.1 L454.0 176.8 L455.5 176.7 L457.0 177.0 L458.5 177.5 L460.0 178.2 L461.5 178.7 L463.0 178.7 L464.5 178.7 L466.0 178.7 L467.5 178.7 L469.0 178.7 L470.5 178.7 L472.0 178.7 L473.5 178.7 L475.0 178.7 L476.5 178.7 L478.0 178.7 L479.5 178.7 L481.0 178.7 L482.5 178.7 L484.0 178.7 L485.5 178.7 L487.0 178.7 L488.5 178.7 L490.0 178.7 L491.5 178.7 L493.0 178.7 L494.5 178.7 L496.0 178.7 L497.5 178.2 L499.0 177.7 L500.5 177.3 L502.0 177.0 L503.5 176.8 L505.0 176.7 L506.5 176.8 L508.0 177.0 L509.5 177.3 L511.0 177.7 L512.5 178.2 L514.0 178.7 L515.5 178.7 L517.0 178.7 L518.5 178.7 L520.0 178.7 L521.5 178.7 L523.0 178.7 L524.5 178.7 L526.0 178.7 L527.5 178.7 L529.0 178.7 L530.5 178.7 L532.0 178.7 L533.5 178.7 L535.0 178.7 L536.5 178.7 L538.0 178.7 L539.5 178.7 L541.0 178.7 L542.5 178.7 L544.0 178.7 L545.5 178.7 L547.0 178.7 L548.5 178.7 L550.0 178.7 L551.5 178.7 L553.0 178.7 L554.5 178.7 L556.0 178.7 L557.5 178.7 L559.0 178.7 L560.5 178.7 L562.0 178.7 L563.5 178.7 L565.0 178.7 L566.5 178.7 L568.0 178.7 L569.5 178.7 L571.0 178.7 L572.5 178.7 L574.0 178.7 L575.5 178.7 L577.0 178.7 L578.5 178.7 L580.0 178.7 L581.5 178.7 L583.0 178.7 L584.5 178.7 L586.0 178.7 L587.5 178.7 L589.0 178.7 L590.5 178.7 L592.0 178.7 L593.5 178.7 L595.0 178.7 L596.5 178.7 L598.0 178.7 L599.5 178.7 L601.0 178.7 L602.5 178.7 L604.0 178.7 L605.5 178.7 L607.0 178.7 L608.5 178.3 L610.0 176.9 L611.5 175.4 L613.0 174.0 L614.5 172.7 L616.0 171.6 L617.5 170.8 L619.0 170.2 L620.5 169.8 L622.0 169.7 L623.5 169.8 L625.0 170.2 L626.5 170.8 L628.0 171.6 L629.5 172.7 L631.0 174.0 L632.5 175.4 L634.0 176.9 L635.5 178.3 L637.0 178.7 L638.5 178.7 L640.0 178.7 L641.5 178.7 L643.0 178.7 L644.5 178.7 L646.0 178.7 L647.5 178.7 L649.0 178.7 L650.5 178.7 L652.0 178.7 L653.5 178.7 L655.0 178.7 L656.5 178.7 L658.0 178.7 L659.5 178.7 L661.0 178.7 L662.5 178.7 L664.0 178.7 L665.5 178.7 L667.0 178.7 L668.5 178.7 L670.0 178.7 L671.5 178.7 L673.0 178.7 L674.5 178.7 L676.0 178.7 L677.5 178.7 L679.0 178.7 L680.5 178.7 L682.0 178.0 L683.5 176.6 L685.0 175.3 L686.5 174.1 L688.0 173.0 L689.5 172.2 L691.0 171.5 L692.5 171.0 L694.0 170.7 L695.5 170.7 L697.0 170.9 L698.5 171.3 L700.0 171.9 L701.5 172.7 L703.0 173.7 L704.5 174.9 L706.0 176.2 L707.5 177.5 L709.0 178.7 L710.5 178.7 L712.0 178.7 L713.5 178.7 L715.0 178.7 L716.5 178.7 L718.0 178.7 L719.5 178.7 L721.0 178.7 L722.5 178.7 L724.0 178.7 L725.5 178.7 L727.0 178.7 L728.5 178.7 L730.0 178.7 L731.5 178.7 L733.0 178.7 L734.5 178.7 L736.0 178.7 L737.5 178.7 L739.0 178.7 L740.5 178.7 L742.0 178.7 L743.5 178.7 L745.0 178.7 L746.5 178.7 L748.0 178.7 L749.5 178.7 L751.0 178.7 L752.5 178.7 L754.0 178.7 L755.5 178.7 L757.0 178.7 L758.5 178.7 L760.0 178.7 L761.5 178.7 L763.0 178.7 L764.5 178.7 L766.0 178.7 L767.5 178.7 L769.0 178.7 L770.5 178.7 L772.0 178.7 L773.5 178.7 L775.0 178.7 L776.5 178.7 L778.0 178.7 L779.5 178.7 L781.0 178.7 L782.5 178.7 L784.0 178.7 L785.5 178.7 L787.0 178.7 L788.5 178.7 L790.0 178.7 L791.5 178.7 L793.0 178.7 L794.5 178.7 L796.0 178.7 L797.5 178.7 L799.0 178.7 L800.5 178.2 L802.0 176.3 L803.5 174.4 L805.0 172.6 L806.5 171.2 L808.0 170.0 L809.5 169.2 L811.0 168.8 L812.5 168.7 L814.0 169.0 L815.5 169.7 L817.0 170.7 L818.5 172.1 L820.0 173.8 L821.5 175.6 L823.0 177.6 L824.5 178.7 L826.0 178.7 L827.5 178.7 L829.0 178.7 L830.5 178.7 L832.0 178.7 L833.5 178.7" fill="none" stroke="#38c8dc" stroke-width="1.0" stroke-opacity="0.8" stroke-linejoin="round"/>
<path d="M190.0 178.7 L191.5 178.7 L193.0 178.7 L194.5 178.7 L196.0 178.7 L197.5 178.7 L199.0 178.7 L200.5 178.7 L202.0 178.7 L203.5 178.7 L205.0 178.7 L206.5 178.7 L208.0 178.7 L209.5 178.7 L211.0 178.7 L212.5 178.7 L214.0 178.7 L215.5 178.7 L217.0 178.7 L218.5 178.7 L220.0 178.7 L221.5 178.7 L223.0 178.7 L224.5 178.7 L226.0 178.7 L227.5 178.7 L229.0 178.7 L230.5 178.7 L232.0 178.7 L233.5 178.7 L235.0 178.7 L236.5 178.7 L238.0 178.7 L239.5 178.7 L241.0 178.7 L242.5 178.7 L244.0 178.7 L245.5 178.7 L247.0 178.7 L248.5 178.7 L250.0 178.7 L251.5 178.7 L253.0 178.7 L254.5 178.7 L256.0 178.7 L257.5 178.7 L259.0 178.7 L260.5 178.7 L262.0 178.7 L263.5 178.7 L265.0 178.7 L266.5 178.7 L268.0 178.7 L269.5 178.7 L271.0 178.7 L272.5 178.7 L274.0 178.7 L275.5 178.7 L277.0 178.7 L278.5 178.7 L280.0 178.7 L281.5 178.7 L283.0 178.7 L284.5 178.7 L286.0 178.7 L287.5 178.7 L289.0 178.7 L290.5 178.7 L292.0 178.7 L293.5 178.7 L295.0 178.7 L296.5 178.7 L298.0 178.7 L299.5 178.7 L301.0 178.7 L302.5 178.7 L304.0 178.7 L305.5 178.7 L307.0 178.7 L308.5 178.7 L310.0 178.7 L311.5 178.7 L313.0 178.7 L314.5 178.7 L316.0 178.7 L317.5 178.7 L319.0 178.7 L320.5 178.7 L322.0 178.7 L323.5 178.7 L325.0 178.7 L326.5 178.7 L328.0 178.7 L329.5 178.7 L331.0 178.7 L332.5 178.7 L334.0 178.7 L335.5 178.7 L337.0 178.7 L338.5 178.7 L340.0 178.7 L341.5 178.7 L343.0 178.7 L344.5 178.7 L346.0 178.7 L347.5 178.7 L349.0 178.7 L350.5 178.7 L352.0 178.7 L353.5 178.7 L355.0 178.7 L356.5 178.7 L358.0 178.7 L359.5 178.7 L361.0 178.7 L362.5 178.7 L364.0 178.7 L365.5 178.7 L367.0 178.7 L368.5 178.7 L370.0 178.7 L371.5 178.7 L373.0 178.7 L374.5 178.7 L376.0 178.7 L377.5 178.7 L379.0 178.7 L380.5 178.7 L382.0 178.7 L383.5 178.7 L385.0 178.7 L386.5 178.7 L388.0 178.7 L389.5 178.7 L391.0 178.7 L392.5 178.7 L394.0 178.7 L395.5 178.7 L397.0 178.7 L398.5 178.7 L400.0 178.7 L401.5 178.7 L403.0 178.7 L404.5 178.7 L406.0 178.7 L407.5 178.7 L409.0 178.7 L410.5 178.7 L412.0 178.7 L413.5 178.7 L415.0 178.7 L416.5 178.7 L418.0 178.7 L419.5 178.7 L421.0 178.7 L422.5 178.7 L424.0 178.7 L425.5 178.7 L427.0 178.7 L428.5 178.7 L430.0 178.7 L431.5 178.7 L433.0 178.7 L434.5 178.7 L436.0 178.7 L437.5 178.7 L439.0 178.7 L440.5 178.7 L442.0 178.7 L443.5 178.7 L445.0 178.7 L446.5 178.7 L448.0 178.7 L449.5 178.7 L451.0 178.7 L452.5 178.7 L454.0 178.7 L455.5 178.7 L457.0 178.7 L458.5 178.7 L460.0 178.7 L461.5 178.7 L463.0 178.7 L464.5 178.7 L466.0 178.7 L467.5 178.7 L469.0 178.7 L470.5 178.7 L472.0 178.7 L473.5 178.7 L475.0 178.7 L476.5 178.7 L478.0 178.7 L479.5 178.7 L481.0 178.7 L482.5 178.7 L484.0 178.7 L485.5 178.7 L487.0 178.7 L488.5 178.7 L490.0 178.7 L491.5 178.7 L493.0 178.7 L494.5 178.7 L496.0 178.7 L497.5 178.7 L499.0 178.7 L500.5 178.7 L502.0 178.7 L503.5 178.7 L505.0 178.7 L506.5 178.7 L508.0 178.7 L509.5 178.7 L511.0 178.7 L512.5 178.7 L514.0 178.7 L515.5 178.7 L517.0 178.7 L518.5 178.7 L520.0 178.7 L521.5 178.7 L523.0 178.7 L524.5 178.7 L526.0 178.7 L527.5 178.7 L529.0 178.7 L530.5 178.7 L532.0 178.7 L533.5 178.7 L535.0 178.7 L536.5 178.7 L538.0 178.7 L539.5 178.7 L541.0 178.7 L542.5 178.7 L544.0 178.7 L545.5 178.7 L547.0 178.7 L548.5 178.7 L550.0 178.7 L551.5 178.7 L553.0 178.7 L554.5 178.7 L556.0 178.7 L557.5 178.7 L559.0 178.7 L560.5 178.7 L562.0 178.7 L563.5 178.7 L565.0 178.7 L566.5 178.7 L568.0 178.7 L569.5 178.7 L571.0 178.7 L572.5 178.7 L574.0 178.7 L575.5 178.7 L577.0 178.7 L578.5 178.7 L580.0 178.7 L581.5 178.7 L583.0 178.7 L584.5 178.7 L586.0 178.7 L587.5 178.7 L589.0 178.7 L590.5 178.7 L592.0 178.7 L593.5 178.7 L595.0 178.7 L596.5 178.7 L598.0 178.7 L599.5 178.7 L601.0 178.7 L602.5 178.7 L604.0 178.7 L605.5 178.7 L607.0 178.1 L608.5 177.1 L610.0 176.2 L611.5 175.2 L613.0 174.5 L614.5 173.8 L616.0 173.3 L617.5 172.9 L619.0 172.7 L620.5 172.7 L622.0 172.8 L623.5 173.1 L625.0 173.6 L626.5 174.2 L628.0 175.0 L629.5 175.8 L631.0 176.8 L632.5 177.8 L634.0 178.7 L635.5 178.7 L637.0 178.7 L638.5 178.7 L640.0 178.7 L641.5 178.7 L643.0 178.7 L644.5 178.7 L646.0 178.7 L647.5 178.7 L649.0 178.7 L650.5 178.7 L652.0 178.7 L653.5 178.7 L655.0 178.7 L656.5 178.7 L658.0 178.7 L659.5 178.7 L661.0 178.7 L662.5 178.7 L664.0 178.7 L665.5 178.7 L667.0 178.7 L668.5 178.7 L670.0 178.7 L671.5 178.7 L673.0 178.7 L674.5 178.7 L676.0 178.7 L677.5 178.7 L679.0 178.7 L680.5 178.7 L682.0 178.7 L683.5 178.7 L685.0 178.7 L686.5 178.5 L688.0 177.7 L689.5 176.8 L691.0 176.1 L692.5 175.4 L694.0 174.8 L695.5 174.3 L697.0 174.0 L698.5 173.8 L700.0 173.7 L701.5 173.8 L703.0 174.0 L704.5 174.3 L706.0 174.8 L707.5 175.4 L709.0 176.1 L710.5 176.8 L712.0 177.7 L713.5 178.5 L715.0 178.7 L716.5 178.7 L718.0 178.7 L719.5 178.7 L721.0 178.7 L722.5 178.7 L724.0 178.7 L725.5 178.7 L727.0 178.7 L728.5 178.7 L730.0 178.7 L731.5 178.7 L733.0 178.7 L734.5 178.7 L736.0 178.7 L737.5 177.6 L739.0 176.5 L740.5 175.5 L742.0 174.6 L743.5 174.1 L745.0 173.8 L746.5 173.7 L748.0 173.9 L749.5 174.4 L751.0 175.2 L752.5 176.1 L754.0 177.2 L755.5 178.4 L757.0 178.7 L758.5 178.7 L760.0 178.7 L761.5 178.7 L763.0 178.7 L764.5 178.7 L766.0 178.7 L767.5 178.7 L769.0 178.7 L770.5 178.7 L772.0 178.7 L773.5 178.7 L775.0 178.7 L776.5 178.7 L778.0 178.7 L779.5 178.7 L781.0 178.7 L782.5 178.7 L784.0 178.7 L785.5 178.7 L787.0 178.7 L788.5 178.7 L790.0 178.7 L791.5 178.7 L793.0 178.7 L794.5 178.7 L796.0 178.7 L797.5 176.6 L799.0 174.3 L800.5 172.1 L802.0 170.2 L803.5 168.7 L805.0 167.6 L806.5 166.9 L808.0 166.7 L809.5 166.9 L811.0 167.6 L812.5 168.7 L814.0 170.2 L815.5 172.1 L817.0 174.3 L818.5 176.6 L820.0 178.7 L821.5 178.7 L823.0 178.7 L824.5 178.7 L826.0 178.7 L827.5 177.7 L829.0 176.5 L830.5 175.4 L832.0 174.3 L833.5 173.3" fill="none" stroke="#3cb4a0" stroke-width="1.0" stroke-opacity="0.7" stroke-linejoin="round"/>
<path d="M190.0 178.7 L191.5 178.7 L193.0 178.7 L194.5 178.7 L196.0 178.7 L197.5 178.7 L199.0 178.7 L200.5 178.7 L202.0 178.7 L203.5 178.7 L205.0 178.7 L206.5 178.7 L208.0 178.7 L209.5 178.7 L211.0 178.7 L212.5 178.7 L214.0 178.7 L215.5 178.7 L217.0 178.7 L218.5 178.7 L220.0 178.7 L221.5 178.7 L223.0 178.7 L224.5 178.7 L226.0 178.7 L227.5 178.7 L229.0 178.7 L230.5 178.7 L232.0 178.7 L233.5 177.4 L235.0 175.2 L236.5 173.2 L238.0 171.6 L239.5 170.4 L241.0 169.8 L242.5 169.7 L244.0 170.2 L245.5 171.1 L247.0 172.6 L248.5 174.5 L250.0 176.7 L251.5 178.7 L253.0 178.7 L254.5 178.7 L256.0 178.7 L257.5 178.7 L259.0 178.7 L260.5 178.7 L262.0 178.7 L263.5 178.7 L265.0 178.7 L266.5 178.7 L268.0 178.7 L269.5 178.7 L271.0 178.7 L272.5 178.7 L274.0 178.7 L275.5 178.7 L277.0 178.7 L278.5 178.7 L280.0 178.7 L281.5 178.7 L283.0 178.7 L284.5 178.7 L286.0 178.7 L287.5 178.7 L289.0 178.7 L290.5 178.7 L292.0 178.7 L293.5 178.7 L295.0 178.7 L296.5 178.7 L298.0 178.7 L299.5 178.7 L301.0 178.7 L302.5 178.7 L304.0 178.7 L305.5 178.7 L307.0 178.7 L308.5 178.7 L310.0 178.7 L311.5 178.7 L313.0 178.7 L314.5 178.7 L316.0 178.7 L317.5 178.7 L319.0 178.7 L320.5 178.7 L322.0 178.7 L323.5 178.7 L325.0 178.7 L326.5 178.7 L328.0 178.7 L329.5 178.7 L331.0 178.7 L332.5 178.7 L334.0 178.7 L335.5 178.7 L337.0 178.7 L338.5 178.7 L340.0 178.7 L341.5 178.7 L343.0 178.7 L344.5 178.7 L346.0 178.7 L347.5 178.7 L349.0 178.7 L350.5 178.7 L352.0 178.7 L353.5 178.7 L355.0 178.7 L356.5 178.7 L358.0 178.7 L359.5 178.7 L361.0 178.7 L362.5 178.7 L364.0 178.7 L365.5 178.7 L367.0 178.7 L368.5 178.7 L370.0 178.7 L371.5 178.7 L373.0 178.7 L374.5 178.7 L376.0 178.7 L377.5 178.7 L379.0 178.7 L380.5 178.7 L382.0 178.7 L383.5 178.7 L385.0 178.7 L386.5 178.7 L388.0 178.7 L389.5 178.7 L391.0 178.7 L392.5 178.7 L394.0 178.7 L395.5 178.7 L397.0 178.7 L398.5 178.7 L400.0 178.7 L401.5 178.7 L403.0 178.7 L404.5 178.7 L406.0 178.7 L407.5 178.7 L409.0 178.7 L410.5 178.7 L412.0 178.7 L413.5 178.7 L415.0 178.7 L416.5 178.7 L418.0 178.7 L419.5 178.7 L421.0 178.7 L422.5 178.7 L424.0 178.7 L425.5 178.7 L427.0 178.7 L428.5 178.7 L430.0 178.7 L431.5 178.7 L433.0 178.7 L434.5 178.7 L436.0 178.7 L437.5 178.7 L439.0 178.7 L440.5 178.7 L442.0 178.7 L443.5 178.7 L445.0 178.7 L446.5 178.7 L448.0 178.7 L449.5 178.7 L451.0 178.7 L452.5 178.7 L454.0 178.7 L455.5 178.7 L457.0 178.7 L458.5 178.7 L460.0 178.7 L461.5 178.7 L463.0 178.7 L464.5 178.7 L466.0 178.7 L467.5 178.7 L469.0 178.7 L470.5 178.7 L472.0 178.7 L473.5 178.7 L475.0 178.7 L476.5 178.7 L478.0 178.7 L479.5 178.7 L481.0 178.7 L482.5 178.7 L484.0 178.7 L485.5 178.7 L487.0 178.7 L488.5 178.7 L490.0 178.7 L491.5 178.7 L493.0 178.7 L494.5 177.8 L496.0 176.9 L497.5 176.1 L499.0 175.5 L500.5 175.0 L502.0 174.7 L503.5 174.7 L505.0 174.9 L506.5 175.3 L508.0 175.9 L509.5 176.6 L511.0 177.5 L512.5 178.5 L514.0 178.7 L515.5 178.7 L517.0 178.7 L518.5 178.7 L520.0 178.7 L521.5 178.7 L523.0 178.7 L524.5 178.7 L526.0 178.7 L527.5 178.7 L529.0 178.7 L530.5 178.7 L532.0 178.7 L533.5 178.7 L535.0 178.7 L536.5 178.7 L538.0 178.7 L539.5 178.7 L541.0 178.7 L542.5 178.7 L544.0 178.7 L545.5 178.7 L547.0 178.7 L548.5 178.7 L550.0 178.2 L551.5 177.5 L553.0 176.8 L554.5 176.2 L556.0 175.9 L557.5 175.7 L559.0 175.7 L560.5 176.0 L562.0 176.4 L563.5 177.0 L565.0 177.7 L566.5 178.5 L568.0 178.7 L569.5 178.7 L571.0 178.7 L572.5 178.7 L574.0 178.7 L575.5 178.7 L577.0 178.7 L578.5 178.7 L580.0 178.7 L581.5 178.7 L583.0 178.7 L584.5 178.7 L586.0 178.7 L587.5 178.7 L589.0 178.7 L590.5 178.7 L592.0 178.7 L593.5 178.7 L595.0 178.7 L596.5 178.7 L598.0 178.7 L599.5 178.7 L601.0 178.7 L602.5 177.1 L604.0 175.4 L605.5 173.7 L607.0 172.3 L608.5 171.2 L610.0 170.4 L611.5 169.9 L613.0 169.7 L614.5 169.9 L616.0 170.4 L617.5 171.2 L619.0 172.3 L620.5 173.7 L622.0 175.4 L623.5 177.1 L625.0 178.7 L626.5 177.1 L628.0 175.4 L629.5 173.7 L631.0 172.3 L632.5 171.2 L634.0 170.4 L635.5 169.9 L637.0 169.7 L638.5 169.9 L640.0 170.4 L641.5 171.2 L643.0 172.3 L644.5 173.7 L646.0 175.4 L647.5 177.1 L649.0 178.7 L650.5 178.7 L652.0 178.7 L653.5 178.7 L655.0 178.7 L656.5 178.7 L658.0 178.7 L659.5 178.7 L661.0 178.7 L662.5 178.7 L664.0 178.7 L665.5 177.1 L667.0 173.9 L668.5 170.6 L670.0 167.5 L671.5 164.8 L673.0 162.5 L674.5 160.6 L676.0 159.1 L677.5 158.2 L679.0 157.7 L680.5 157.8 L682.0 158.3 L683.5 159.4 L685.0 160.9 L686.5 162.9 L688.0 165.3 L689.5 168.1 L691.0 171.2 L692.5 174.5 L694.0 177.7 L695.5 178.7 L697.0 178.7 L698.5 178.7 L700.0 178.7 L701.5 178.7 L703.0 178.7 L704.5 178.7 L706.0 178.7 L707.5 178.7 L709.0 178.7 L710.5 178.7 L712.0 178.7 L713.5 178.7 L715.0 178.7 L716.5 178.7 L718.0 178.7 L719.5 178.7 L721.0 178.7 L722.5 178.7 L724.0 178.7 L725.5 178.7 L727.0 178.7 L728.5 178.7 L730.0 178.7 L731.5 178.7 L733.0 178.7 L734.5 178.7 L736.0 178.7 L737.5 178.7 L739.0 178.7 L740.5 178.7 L742.0 178.7 L743.5 178.3 L745.0 176.8 L746.5 175.2 L748.0 173.8 L749.5 172.7 L751.0 171.8 L752.5 171.1 L754.0 170.8 L755.5 170.7 L757.0 171.0 L758.5 171.5 L760.0 172.3 L761.5 173.4 L763.0 174.7 L764.5 176.2 L766.0 177.8 L767.5 178.7 L769.0 178.7 L770.5 178.7 L772.0 178.7 L773.5 178.7 L775.0 178.7 L776.5 178.7 L778.0 178.7 L779.5 178.7 L781.0 178.7 L782.5 178.7 L784.0 178.7 L785.5 178.7 L787.0 178.7 L788.5 178.7 L790.0 178.7 L791.5 178.7 L793.0 178.7 L794.5 178.7 L796.0 178.7 L797.5 176.1 L799.0 173.2 L800.5 170.5 L802.0 168.1 L803.5 166.1 L805.0 164.5 L806.5 163.4 L808.0 162.8 L809.5 162.7 L811.0 163.2 L812.5 164.1 L814.0 165.5 L815.5 167.4 L817.0 169.7 L818.5 172.3 L820.0 175.2 L821.5 178.0 L823.0 178.7 L824.5 178.7 L826.0 178.7 L827.5 178.7 L829.0 178.7 L830.5 178.7 L832.0 178.7 L833.5 178.7" fill="none" stroke="#263c8c" stroke-width="1.2" stroke-opacity="0.9" stroke-linejoin="round"/>
<path d="M190.0 178.7 L191.5 178.7 L193.0 178.7 L194.5 178.7 L196.0 178.7 L197.5 178.7 L199.0 178.7 L200.5 178.7 L202.0 178.7 L203.5 178.7 L205.0 178.7 L206.5 178.7 L208.0 178.7 L209.5 178.7 L211.0 178.7 L212.5 178.5 L214.0 177.6 L215.5 176.8 L217.0 176.2 L218.5 175.8 L220.0 175.7 L221.5 175.8 L223.0 176.2 L224.5 176.8 L226.0 177.6 L227.5 178.5 L229.0 178.7 L230.5 178.7 L232.0 178.7 L233.5 178.7 L235.0 178.7 L236.5 178.7 L238.0 178.7 L239.5 178.7 L241.0 178.7 L242.5 178.7 L244.0 178.7 L245.5 178.7 L247.0 178.7 L248.5 176.9 L250.0 173.2 L251.5 170.1 L253.0 167.9 L254.5 166.8 L256.0 166.9 L257.5 168.0 L259.0 170.3 L260.5 173.5 L262.0 177.2 L263.5 178.7 L265.0 178.7 L266.5 178.7 L268.0 178.7 L269.5 178.7 L271.0 178.7 L272.5 178.7 L274.0 178.7 L275.5 178.7 L277.0 178.7 L278.5 178.7 L280.0 178.7 L281.5 178.7 L283.0 178.7 L284.5 178.7 L286.0 178.7 L287.5 178.7 L289.0 178.7 L290.5 178.7 L292.0 178.7 L293.5 178.7 L295.0 178.7 L296.5 178.7 L298.0 178.7 L299.5 178.7 L301.0 178.7 L302.5 178.7 L304.0 178.7 L305.5 178.7 L307.0 178.7 L308.5 178.7 L310.0 178.7 L311.5 178.7 L313.0 178.7 L314.5 178.7 L316.0 178.7 L317.5 178.7 L319.0 178.7 L320.5 178.7 L322.0 178.7 L323.5 178.7 L325.0 178.7 L326.5 178.7 L328.0 178.7 L329.5 178.7 L331.0 178.7 L332.5 178.7 L334.0 178.7 L335.5 178.7 L337.0 178.7 L338.5 178.7 L340.0 178.7 L341.5 178.7 L343.0 178.7 L344.5 178.7 L346.0 178.7 L347.5 178.7 L349.0 178.7 L350.5 178.7 L352.0 178.7 L353.5 178.7 L355.0 178.7 L356.5 178.7 L358.0 178.7 L359.5 178.7 L361.0 178.7 L362.5 178.7 L364.0 178.7 L365.5 178.7 L367.0 178.7 L368.5 178.7 L370.0 178.7 L371.5 178.7 L373.0 178.7 L374.5 178.7 L376.0 178.7 L377.5 178.7 L379.0 178.7 L380.5 178.7 L382.0 178.7 L383.5 178.7 L385.0 178.7 L386.5 178.7 L388.0 178.7 L389.5 178.7 L391.0 178.7 L392.5 178.7 L394.0 178.7 L395.5 178.7 L397.0 178.7 L398.5 178.7 L400.0 178.7 L401.5 178.7 L403.0 178.7 L404.5 178.7 L406.0 178.7 L407.5 178.7 L409.0 178.7 L410.5 178.7 L412.0 178.7 L413.5 178.7 L415.0 178.7 L416.5 178.7 L418.0 178.7 L419.5 178.7 L421.0 178.7 L422.5 178.7 L424.0 178.7 L425.5 178.7 L427.0 178.7 L428.5 178.7 L430.0 178.7 L431.5 178.7 L433.0 178.7 L434.5 178.7 L436.0 178.7 L437.5 178.7 L439.0 178.7 L440.5 178.7 L442.0 178.7 L443.5 178.7 L445.0 178.7 L446.5 178.7 L448.0 178.7 L449.5 178.7 L451.0 178.7 L452.5 178.7 L454.0 178.7 L455.5 178.7 L457.0 178.7 L458.5 178.7 L460.0 178.7 L461.5 178.7 L463.0 178.7 L464.5 178.7 L466.0 178.7 L467.5 178.7 L469.0 178.7 L470.5 178.7 L472.0 178.7 L473.5 178.7 L475.0 178.7 L476.5 178.7 L478.0 178.7 L479.5 178.7 L481.0 178.7 L482.5 178.4 L484.0 176.1 L485.5 173.8 L487.0 171.7 L488.5 169.9 L490.0 168.5 L491.5 167.5 L493.0 167.1 L494.5 167.1 L496.0 167.5 L497.5 168.5 L499.0 169.9 L500.5 171.7 L502.0 173.8 L503.5 176.1 L505.0 178.4 L506.5 178.7 L508.0 178.7 L509.5 178.7 L511.0 178.7 L512.5 178.7 L514.0 178.7 L515.5 178.7 L517.0 178.7 L518.5 178.7 L520.0 178.7 L521.5 178.7 L523.0 178.7 L524.5 178.7 L526.0 178.7 L527.5 178.7 L529.0 178.7 L530.5 178.7 L532.0 178.7 L533.5 178.7 L535.0 178.7 L536.5 178.7 L538.0 178.7 L539.5 178.7 L541.0 178.7 L542.5 178.7 L544.0 178.7 L545.5 178.7 L547.0 178.7 L548.5 178.1 L550.0 175.9 L551.5 173.7 L553.0 171.8 L554.5 170.4 L556.0 169.5 L557.5 169.0 L559.0 169.1 L560.5 169.7 L562.0 170.8 L563.5 172.4 L565.0 174.4 L566.5 176.6 L568.0 178.7 L569.5 178.7 L571.0 178.7 L572.5 178.7 L574.0 178.7 L575.5 178.7 L577.0 178.7 L578.5 178.7 L580.0 178.7 L581.5 178.7 L583.0 178.7 L584.5 178.7 L586.0 178.7 L587.5 178.7 L589.0 178.7 L590.5 178.7 L592.0 178.7 L593.5 178.7 L595.0 178.7 L596.5 178.7 L598.0 178.7 L599.5 178.7 L601.0 178.7 L602.5 178.7 L604.0 178.7 L605.5 178.7 L607.0 178.7 L608.5 178.7 L610.0 178.7 L611.5 178.0 L613.0 175.0 L614.5 172.0 L616.0 169.2 L617.5 166.7 L619.0 164.6 L620.5 162.9 L622.0 161.7 L623.5 160.9 L625.0 160.7 L626.5 160.9 L628.0 161.7 L629.5 162.9 L631.0 164.6 L632.5 166.7 L634.0 169.2 L635.5 172.0 L637.0 175.0 L638.5 178.0 L640.0 178.7 L641.5 178.7 L643.0 178.7 L644.5 178.7 L646.0 178.7 L647.5 178.7 L649.0 178.7 L650.5 178.7 L652.0 178.7 L653.5 178.7 L655.0 178.7 L656.5 178.7 L658.0 178.7 L659.5 178.7 L661.0 178.7 L662.5 178.7 L664.0 178.7 L665.5 178.7 L667.0 178.7 L668.5 178.7 L670.0 178.7 L671.5 178.7 L673.0 178.7 L674.5 178.7 L676.0 178.7 L677.5 178.7 L679.0 178.7 L680.5 178.7 L682.0 178.7 L683.5 178.7 L685.0 178.7 L686.5 178.7 L688.0 178.7 L689.5 178.7 L691.0 176.9 L692.5 173.8 L694.0 170.8 L695.5 168.2 L697.0 166.0 L698.5 164.3 L700.0 163.2 L701.5 162.7 L703.0 162.8 L704.5 163.5 L706.0 164.8 L707.5 166.6 L709.0 169.0 L710.5 171.8 L712.0 174.8 L713.5 177.9 L715.0 178.7 L716.5 178.7 L718.0 178.7 L719.5 178.7 L721.0 178.7 L722.5 178.7 L724.0 178.7 L725.5 178.7 L727.0 178.7 L728.5 178.7 L730.0 178.7 L731.5 178.7 L733.0 178.7 L734.5 176.6 L736.0 174.3 L737.5 172.1 L739.0 170.2 L740.5 168.7 L742.0 167.6 L743.5 166.9 L745.0 166.7 L746.5 166.9 L748.0 167.6 L749.5 168.7 L751.0 170.2 L752.5 172.1 L754.0 174.3 L755.5 176.6 L757.0 178.7 L758.5 178.7 L760.0 178.7 L761.5 178.7 L763.0 178.7 L764.5 178.7 L766.0 178.7 L767.5 178.7 L769.0 178.7 L770.5 178.7 L772.0 178.7 L773.5 178.7 L775.0 178.7 L776.5 178.7 L778.0 178.7 L779.5 178.7 L781.0 178.7 L782.5 178.7 L784.0 178.7 L785.5 178.7 L787.0 178.7 L788.5 178.7 L790.0 178.7 L791.5 178.7 L793.0 178.7 L794.5 178.7 L796.0 178.7 L797.5 177.8 L799.0 174.1 L800.5 170.3 L802.0 166.8 L803.5 163.8 L805.0 161.4 L806.5 159.5 L808.0 158.3 L809.5 157.7 L811.0 157.8 L812.5 158.6 L814.0 160.1 L815.5 162.1 L817.0 164.8 L818.5 167.9 L820.0 171.5 L821.5 175.3 L823.0 178.7 L824.5 178.7 L826.0 178.7 L827.5 178.7 L829.0 178.1 L830.5 177.1 L832.0 176.2 L833.5 175.2" fill="none" stroke="#3a74d4" stroke-width="1.2" stroke-opacity="0.9" stroke-linejoin="round"/>
<path d="M190.0 178.7 L191.5 178.7 L193.0 177.7 L194.5 175.9 L196.0 174.1 L197.5 172.5 L199.0 171.2 L200.5 170.1 L202.0 169.3 L203.5 168.9 L205.0 168.7 L206.5 168.9 L208.0 169.3 L209.5 170.1 L211.0 171.2 L212.5 172.5 L214.0 174.1 L215.5 175.9 L217.0 177.7 L218.5 178.7 L220.0 178.7 L221.5 178.7 L223.0 178.7 L224.5 178.7 L226.0 178.7 L227.5 178.7 L229.0 178.7 L230.5 178.7 L232.0 178.7 L233.5 176.4 L235.0 174.0 L236.5 171.9 L238.0 170.3 L239.5 169.2 L241.0 168.7 L242.5 168.8 L244.0 169.5 L245.5 170.8 L247.0 172.6 L248.5 174.8 L250.0 177.3 L251.5 178.7 L253.0 178.7 L254.5 178.7 L256.0 178.7 L257.5 178.7 L259.0 178.7 L260.5 178.7 L262.0 178.7 L263.5 178.7 L265.0 178.7 L266.5 178.7 L268.0 178.7 L269.5 178.7 L271.0 178.7 L272.5 178.7 L274.0 178.7 L275.5 178.7 L277.0 178.7 L278.5 178.7 L280.0 178.7 L281.5 178.7 L283.0 178.7 L284.5 178.7 L286.0 178.7 L287.5 178.7 L289.0 178.7 L290.5 178.7 L292.0 178.7 L293.5 178.7 L295.0 178.7 L296.5 178.7 L298.0 178.7 L299.5 178.7 L301.0 178.7 L302.5 178.7 L304.0 178.7 L305.5 178.7 L307.0 178.7 L308.5 178.7 L310.0 178.7 L311.5 178.7 L313.0 178.7 L314.5 178.7 L316.0 178.7 L317.5 178.7 L319.0 178.7 L320.5 178.7 L322.0 178.7 L323.5 178.7 L325.0 178.7 L326.5 178.7 L328.0 178.7 L329.5 178.7 L331.0 178.7 L332.5 178.7 L334.0 178.7 L335.5 178.7 L337.0 178.7 L338.5 178.7 L340.0 178.7 L341.5 178.7 L343.0 178.7 L344.5 178.7 L346.0 178.7 L347.5 178.7 L349.0 178.7 L350.5 178.7 L352.0 178.7 L353.5 178.7 L355.0 178.7 L356.5 178.7 L358.0 178.7 L359.5 178.7 L361.0 178.7 L362.5 178.7 L364.0 178.7 L365.5 178.7 L367.0 178.7 L368.5 178.7 L370.0 178.7 L371.5 178.7 L373.0 178.7 L374.5 178.7 L376.0 178.7 L377.5 178.7 L379.0 178.7 L380.5 178.7 L382.0 178.7 L383.5 178.7 L385.0 178.7 L386.5 178.7 L388.0 178.7 L389.5 178.7 L391.0 178.7 L392.5 178.7 L394.0 178.7 L395.5 178.7 L397.0 178.7 L398.5 178.7 L400.0 178.7 L401.5 178.7 L403.0 178.7 L404.5 178.7 L406.0 178.7 L407.5 178.7 L409.0 178.7 L410.5 178.7 L412.0 178.7 L413.5 178.7 L415.0 178.7 L416.5 178.7 L418.0 178.7 L419.5 178.7 L421.0 177.9 L422.5 176.4 L424.0 174.9 L425.5 173.5 L427.0 172.3 L428.5 171.3 L430.0 170.6 L431.5 170.0 L433.0 169.8 L434.5 169.7 L436.0 169.9 L437.5 170.4 L439.0 171.1 L440.5 172.0 L442.0 173.1 L443.5 174.4 L445.0 175.9 L446.5 177.4 L448.0 178.7 L449.5 178.7 L451.0 178.7 L452.5 178.7 L454.0 178.7 L455.5 178.7 L457.0 178.7 L458.5 178.7 L460.0 178.7 L461.5 178.7 L463.0 178.7 L464.5 178.7 L466.0 178.7 L467.5 178.7 L469.0 178.7 L470.5 178.7 L472.0 178.7 L473.5 178.7 L475.0 178.7 L476.5 178.7 L478.0 178.7 L479.5 178.7 L481.0 178.7 L482.5 178.7 L484.0 178.7 L485.5 178.7 L487.0 178.7 L488.5 178.4 L490.0 177.3 L491.5 176.1 L493.0 175.1 L494.5 174.2 L496.0 173.5 L497.5 173.0 L499.0 172.7 L500.5 172.7 L502.0 172.9 L503.5 173.3 L505.0 173.9 L506.5 174.7 L508.0 175.7 L509.5 176.9 L511.0 178.0 L512.5 178.7 L514.0 178.7 L515.5 178.7 L517.0 178.7 L518.5 178.7 L520.0 178.7 L521.5 178.7 L523.0 178.7 L524.5 178.7 L526.0 178.7 L527.5 178.7 L529.0 178.7 L530.5 178.7 L532.0 178.7 L533.5 178.7 L535.0 178.7 L536.5 178.7 L538.0 178.7 L539.5 178.7 L541.0 178.7 L542.5 178.7 L544.0 178.7 L545.5 178.7 L547.0 178.7 L548.5 178.7 L550.0 178.7 L551.5 178.7 L553.0 178.7 L554.5 178.7 L556.0 178.7 L557.5 178.7 L559.0 178.7 L560.5 178.7 L562.0 178.7 L563.5 178.7 L565.0 178.7 L566.5 178.7 L568.0 178.7 L569.5 178.7 L571.0 178.7 L572.5 178.7 L574.0 178.7 L575.5 178.7 L577.0 178.7 L578.5 178.7 L580.0 178.7 L581.5 178.7 L583.0 178.7 L584.5 178.7 L586.0 178.7 L587.5 178.7 L589.0 178.7 L590.5 178.7 L592.0 178.7 L593.5 178.7 L595.0 178.7 L596.5 178.7 L598.0 178.7 L599.5 178.7 L601.0 178.7 L602.5 177.7 L604.0 173.6 L605.5 169.1 L607.0 164.6 L608.5 160.3 L610.0 156.2 L611.5 152.4 L613.0 149.0 L614.5 145.9 L616.0 143.3 L617.5 141.1 L619.0 139.3 L620.5 138.0 L622.0 137.1 L623.5 136.7 L625.0 136.8 L626.5 137.3 L628.0 138.4 L629.5 139.8 L631.0 141.7 L632.5 144.1 L634.0 146.9 L635.5 150.1 L637.0 153.6 L638.5 157.5 L640.0 161.7 L641.5 166.1 L643.0 170.6 L644.5 175.0 L646.0 178.7 L647.5 178.7 L649.0 178.7 L650.5 178.7 L652.0 178.7 L653.5 178.7 L655.0 178.7 L656.5 178.7 L658.0 178.7 L659.5 178.7 L661.0 178.7 L662.5 178.7 L664.0 178.7 L665.5 178.7 L667.0 178.7 L668.5 177.8 L670.0 174.1 L671.5 170.0 L673.0 165.9 L674.5 162.0 L676.0 158.3 L677.5 154.9 L679.0 151.8 L680.5 149.0 L682.0 146.6 L683.5 144.6 L685.0 143.0 L686.5 141.9 L688.0 141.1 L689.5 140.7 L691.0 140.8 L692.5 141.3 L694.0 142.2 L695.5 143.5 L697.0 145.3 L698.5 147.4 L700.0 149.9 L701.5 152.8 L703.0 156.0 L704.5 159.5 L706.0 163.3 L707.5 167.3 L709.0 171.4 L710.5 175.4 L712.0 178.7 L713.5 178.7 L715.0 178.7 L716.5 178.7 L718.0 178.7 L719.5 178.7 L721.0 178.7 L722.5 178.7 L724.0 178.7 L725.5 178.7 L727.0 178.7 L728.5 178.7 L730.0 178.7 L731.5 178.7 L733.0 178.7 L734.5 178.1 L736.0 175.5 L737.5 172.8 L739.0 170.3 L740.5 168.0 L742.0 166.0 L743.5 164.4 L745.0 163.1 L746.5 162.3 L748.0 161.8 L749.5 161.7 L751.0 162.1 L752.5 162.8 L754.0 163.9 L755.5 165.5 L757.0 167.3 L758.5 169.5 L760.0 172.0 L761.5 174.6 L763.0 177.2 L764.5 178.7 L766.0 178.7 L767.5 178.7 L769.0 178.7 L770.5 178.7 L772.0 178.7 L773.5 178.7 L775.0 178.7 L776.5 178.7 L778.0 178.7 L779.5 178.7 L781.0 178.7 L782.5 178.7 L784.0 178.7 L785.5 178.7 L787.0 178.7 L788.5 178.7 L790.0 178.7 L791.5 178.7 L793.0 178.7 L794.5 178.7 L796.0 178.7 L797.5 178.7 L799.0 178.7 L800.5 178.7 L802.0 178.7 L803.5 178.7 L805.0 178.7 L806.5 178.7 L808.0 178.7 L809.5 178.7 L811.0 178.7 L812.5 178.7 L814.0 178.7 L815.5 178.7 L817.0 178.7 L818.5 178.7 L820.0 178.7 L821.5 178.7 L823.0 178.7 L824.5 178.7 L826.0 178.7 L827.5 178.7 L829.0 178.7 L830.5 178.5 L832.0 177.7 L833.5 177.0" fill="none" stroke="#68be48" stroke-width="1.2" stroke-opacity="0.9" stroke-linejoin="round"/>
<path d="M190.0 178.7 L191.5 178.7 L193.0 178.7 L194.5 176.8 L196.0 174.6 L197.5 172.6 L199.0 170.7 L200.5 169.2 L202.0 168.1 L203.5 167.2 L205.0 166.8 L206.5 166.7 L208.0 166.9 L209.5 167.3 L211.0 167.9 L212.5 168.8 L214.0 169.8 L215.5 171.0 L217.0 172.4 L218.5 174.0 L220.0 175.6 L221.5 177.3 L223.0 178.7 L224.5 178.7 L226.0 178.7 L227.5 178.7 L229.0 178.7 L230.5 178.7 L232.0 178.7 L233.5 178.7 L235.0 177.9 L236.5 177.0 L238.0 176.4 L239.5 175.9 L241.0 175.7 L242.5 175.8 L244.0 176.0 L245.5 176.6 L247.0 177.3 L248.5 178.2 L250.0 178.7 L251.5 178.7 L253.0 178.7 L254.5 178.7 L256.0 178.7 L257.5 178.7 L259.0 178.7 L260.5 178.7 L262.0 178.7 L263.5 178.7 L265.0 178.7 L266.5 178.7 L268.0 178.7 L269.5 178.7 L271.0 178.7 L272.5 178.7 L274.0 178.7 L275.5 178.7 L277.0 178.7 L278.5 178.7 L280.0 178.7 L281.5 178.7 L283.0 178.7 L284.5 178.7 L286.0 178.7 L287.5 178.7 L289.0 178.7 L290.5 178.7 L292.0 178.7 L293.5 178.7 L295.0 178.7 L296.5 178.7 L298.0 178.7 L299.5 178.7 L301.0 178.7 L302.5 178.7 L304.0 178.7 L305.5 178.7 L307.0 178.7 L308.5 178.7 L310.0 178.7 L311.5 178.7 L313.0 178.7 L314.5 178.7 L316.0 178.7 L317.5 178.7 L319.0 178.7 L320.5 178.7 L322.0 178.7 L323.5 178.7 L325.0 178.7 L326.5 178.7 L328.0 178.7 L329.5 178.7 L331.0 178.7 L332.5 178.7 L334.0 178.7 L335.5 178.7 L337.0 178.7 L338.5 178.7 L340.0 178.7 L341.5 178.7 L343.0 178.7 L344.5 178.7 L346.0 178.7 L347.5 178.7 L349.0 178.7 L350.5 178.7 L352.0 178.7 L353.5 178.7 L355.0 178.7 L356.5 178.7 L358.0 178.7 L359.5 178.7 L361.0 178.7 L362.5 178.7 L364.0 178.7 L365.5 178.7 L367.0 178.7 L368.5 178.7 L370.0 178.7 L371.5 178.7 L373.0 178.7 L374.5 178.7 L376.0 178.7 L377.5 178.7 L379.0 178.7 L380.5 178.7 L382.0 178.7 L383.5 178.7 L385.0 178.7 L386.5 178.7 L388.0 178.7 L389.5 178.7 L391.0 178.7 L392.5 178.7 L394.0 178.7 L395.5 178.7 L397.0 178.7 L398.5 178.7 L400.0 178.7 L401.5 178.7 L403.0 178.7 L404.5 178.7 L406.0 178.7 L407.5 178.7 L409.0 178.7 L410.5 178.7 L412.0 178.7 L413.5 178.7 L415.0 178.7 L416.5 178.7 L418.0 178.7 L419.5 178.7 L421.0 178.7 L422.5 178.7 L424.0 178.7 L425.5 177.1 L427.0 175.3 L428.5 173.6 L430.0 172.1 L431.5 170.8 L433.0 169.8 L434.5 169.1 L436.0 168.8 L437.5 168.7 L439.0 169.0 L440.5 169.6 L442.0 170.4 L443.5 171.6 L445.0 173.1 L446.5 174.7 L448.0 176.5 L449.5 178.3 L451.0 178.7 L452.5 178.7 L454.0 178.7 L455.5 178.7 L457.0 178.7 L458.5 178.7 L460.0 178.7 L461.5 178.7 L463.0 178.7 L464.5 178.7 L466.0 178.7 L467.5 178.7 L469.0 178.7 L470.5 178.7 L472.0 178.7 L473.5 178.7 L475.0 178.7 L476.5 178.7 L478.0 178.7 L479.5 178.7 L481.0 178.7 L482.5 178.7 L484.0 178.7 L485.5 178.7 L487.0 178.7 L488.5 178.7 L490.0 178.7 L491.5 178.7 L493.0 178.7 L494.5 178.7 L496.0 178.7 L497.5 178.7 L499.0 178.7 L500.5 178.7 L502.0 178.7 L503.5 178.7 L505.0 178.7 L506.5 178.7 L508.0 178.7 L509.5 178.7 L511.0 178.7 L512.5 178.7 L514.0 178.7 L515.5 178.7 L517.0 178.7 L518.5 178.7 L520.0 178.7 L521.5 178.7 L523.0 178.7 L524.5 178.7 L526.0 178.7 L527.5 178.7 L529.0 178.7 L530.5 178.7 L532.0 178.7 L533.5 178.7 L535.0 178.7 L536.5 178.7 L538.0 178.7 L539.5 178.7 L541.0 178.7 L542.5 178.7 L544.0 178.7 L545.5 178.7 L547.0 178.7 L548.5 178.7 L550.0 178.7 L551.5 178.7 L553.0 178.7 L554.5 178.7 L556.0 178.7 L557.5 178.7 L559.0 178.7 L560.5 178.7 L562.0 178.7 L563.5 178.7 L565.0 178.7 L566.5 178.7 L568.0 178.7 L569.5 178.7 L571.0 178.7 L572.5 178.7 L574.0 178.7 L575.5 178.7 L577.0 178.7 L578.5 178.7 L580.0 178.7 L581.5 178.7 L583.0 178.7 L584.5 178.7 L586.0 178.7 L587.5 178.7 L589.0 178.7 L590.5 178.7 L592.0 178.7 L593.5 178.7 L595.0 178.7 L596.5 178.7 L598.0 178.7 L599.5 178.7 L601.0 178.7 L602.5 178.7 L604.0 178.7 L605.5 178.7 L607.0 178.7 L608.5 177.6 L610.0 173.4 L611.5 169.0 L613.0 164.8 L614.5 160.9 L616.0 157.5 L617.5 154.5 L619.0 152.2 L620.5 150.4 L622.0 149.3 L623.5 148.7 L625.0 148.8 L626.5 148.4 L628.0 145.2 L629.5 142.5 L631.0 140.9 L632.5 140.5 L634.0 141.3 L635.5 143.4 L637.0 146.7 L638.5 151.0 L640.0 155.5 L641.5 157.1 L643.0 159.6 L644.5 162.9 L646.0 166.8 L647.5 171.3 L649.0 176.0 L650.5 178.7 L652.0 178.7 L653.5 178.7 L655.0 178.7 L656.5 178.7 L658.0 178.7 L659.5 178.7 L661.0 178.7 L662.5 178.7 L664.0 178.7 L665.5 176.8 L667.0 169.4 L668.5 161.9 L670.0 155.0 L671.5 149.0 L673.0 144.0 L674.5 140.3 L676.0 137.9 L677.5 136.8 L679.0 137.0 L680.5 138.6 L682.0 141.4 L683.5 145.6 L685.0 150.9 L686.5 157.2 L688.0 164.4 L689.5 171.1 L691.0 174.3 L692.5 170.7 L694.0 167.4 L695.5 164.5 L697.0 162.2 L698.5 160.4 L700.0 159.3 L701.5 158.7 L703.0 158.8 L704.5 159.6 L706.0 161.0 L707.5 162.9 L709.0 165.4 L710.5 168.5 L712.0 171.9 L713.5 175.5 L715.0 178.7 L716.5 178.7 L718.0 178.7 L719.5 178.7 L721.0 178.7 L722.5 178.7 L724.0 178.7 L725.5 178.7 L727.0 178.7 L728.5 178.7 L730.0 178.7 L731.5 178.7 L733.0 178.7 L734.5 178.7 L736.0 178.7 L737.5 178.7 L739.0 178.7 L740.5 178.7 L742.0 178.7 L743.5 178.7 L745.0 178.7 L746.5 178.7 L748.0 178.7 L749.5 178.7 L751.0 178.7 L752.5 178.7 L754.0 178.7 L755.5 178.7 L757.0 178.7 L758.5 177.8 L760.0 174.6 L761.5 171.5 L763.0 168.8 L764.5 166.7 L766.0 165.4 L767.5 164.7 L769.0 164.9 L770.5 165.7 L772.0 167.3 L773.5 169.6 L775.0 172.5 L776.5 175.7 L778.0 178.7 L779.5 178.7 L781.0 178.7 L782.5 178.7 L784.0 178.7 L785.5 178.7 L787.0 178.7 L788.5 178.7 L790.0 178.7 L791.5 178.7 L793.0 178.7 L794.5 178.7 L796.0 178.7 L797.5 178.7 L799.0 178.7 L800.5 178.7 L802.0 178.7 L803.5 178.7 L805.0 178.7 L806.5 178.7 L808.0 178.7 L809.5 178.7 L811.0 178.7 L812.5 178.7 L814.0 178.7 L815.5 178.7 L817.0 178.7 L818.5 178.7 L820.0 178.7 L821.5 178.7 L823.0 178.7 L824.5 178.7 L826.0 178.7 L827.5 178.7 L829.0 178.7 L830.5 178.7 L832.0 178.7 L833.5 178.7" fill="none" stroke="#e83a3a" stroke-width="1.2" stroke-opacity="0.85" stroke-linejoin="round"/>
<path d="M190.0 178.7 L191.5 176.0 L193.0 173.0 L194.5 170.1 L196.0 167.5 L197.5 165.2 L199.0 163.4 L200.5 162.0 L202.0 161.1 L203.5 160.7 L205.0 160.8 L206.5 161.4 L208.0 162.4 L209.5 164.0 L211.0 166.0 L212.5 168.3 L214.0 171.1 L215.5 174.0 L217.0 177.0 L218.5 178.7 L220.0 178.7 L221.5 178.7 L223.0 178.7 L224.5 178.7 L226.0 178.7 L227.5 178.7 L229.0 178.7 L230.5 178.7 L232.0 178.7 L233.5 178.7 L235.0 178.7 L236.5 178.7 L238.0 178.7 L239.5 178.7 L241.0 178.7 L242.5 178.7 L244.0 178.7 L245.5 178.7 L247.0 178.7 L248.5 178.7 L250.0 178.7 L251.5 178.7 L253.0 178.7 L254.5 178.7 L256.0 178.7 L257.5 178.7 L259.0 178.7 L260.5 178.7 L262.0 178.7 L263.5 178.7 L265.0 178.7 L266.5 178.7 L268.0 178.7 L269.5 178.7 L271.0 178.7 L272.5 178.7 L274.0 178.7 L275.5 178.7 L277.0 178.7 L278.5 178.7 L280.0 178.7 L281.5 178.7 L283.0 178.7 L284.5 178.7 L286.0 178.7 L287.5 178.7 L289.0 178.7 L290.5 178.7 L292.0 178.7 L293.5 178.7 L295.0 178.7 L296.5 178.7 L298.0 178.7 L299.5 178.7 L301.0 178.7 L302.5 178.7 L304.0 178.7 L305.5 178.7 L307.0 178.7 L308.5 178.7 L310.0 178.7 L311.5 178.7 L313.0 178.7 L314.5 178.7 L316.0 178.7 L317.5 178.7 L319.0 178.7 L320.5 178.7 L322.0 178.7 L323.5 178.7 L325.0 178.7 L326.5 178.7 L328.0 178.7 L329.5 178.7 L331.0 178.7 L332.5 178.7 L334.0 178.7 L335.5 178.7 L337.0 178.7 L338.5 178.7 L340.0 178.7 L341.5 178.7 L343.0 178.7 L344.5 178.7 L346.0 178.7 L347.5 178.7 L349.0 178.7 L350.5 178.7 L352.0 178.7 L353.5 178.7 L355.0 178.7 L356.5 178.7 L358.0 178.7 L359.5 178.7 L361.0 178.7 L362.5 178.7 L364.0 178.7 L365.5 178.7 L367.0 178.7 L368.5 178.7 L370.0 178.7 L371.5 178.7 L373.0 178.7 L374.5 178.7 L376.0 178.7 L377.5 178.7 L379.0 178.7 L380.5 178.7 L382.0 178.7 L383.5 178.7 L385.0 178.7 L386.5 178.7 L388.0 178.7 L389.5 178.7 L391.0 178.7 L392.5 178.7 L394.0 178.7 L395.5 178.7 L397.0 178.7 L398.5 178.7 L400.0 178.7 L401.5 178.7 L403.0 178.7 L404.5 178.7 L406.0 178.7 L407.5 178.7 L409.0 178.7 L410.5 178.7 L412.0 178.7 L413.5 178.7 L415.0 178.7 L416.5 178.7 L418.0 178.7 L419.5 178.7 L421.0 178.7 L422.5 178.7 L424.0 178.7 L425.5 178.7 L427.0 178.7 L428.5 178.7 L430.0 178.7 L431.5 178.7 L433.0 178.7 L434.5 178.7 L436.0 178.7 L437.5 178.7 L439.0 178.7 L440.5 178.7 L442.0 178.7 L443.5 178.7 L445.0 178.7 L446.5 178.7 L448.0 178.7 L449.5 178.7 L451.0 178.7 L452.5 178.7 L454.0 178.7 L455.5 178.7 L457.0 178.7 L458.5 178.7 L460.0 178.7 L461.5 178.7 L463.0 178.7 L464.5 178.7 L466.0 178.7 L467.5 178.7 L469.0 178.7 L470.5 178.7 L472.0 178.7 L473.5 178.7 L475.0 178.7 L476.5 178.7 L478.0 178.7 L479.5 178.7 L481.0 178.7 L482.5 178.7 L484.0 178.7 L485.5 178.7 L487.0 178.7 L488.5 178.7 L490.0 178.7 L491.5 177.8 L493.0 176.2 L494.5 174.6 L496.0 173.2 L497.5 171.9 L499.0 171.0 L500.5 170.3 L502.0 169.8 L503.5 169.7 L505.0 169.8 L506.5 170.3 L508.0 171.0 L509.5 171.9 L511.0 173.2 L512.5 174.6 L514.0 176.2 L515.5 177.8 L517.0 178.7 L518.5 178.7 L520.0 178.7 L521.5 178.7 L523.0 178.7 L524.5 178.7 L526.0 178.7 L527.5 178.7 L529.0 178.7 L530.5 178.7 L532.0 178.7 L533.5 178.7 L535.0 178.7 L536.5 178.7 L538.0 178.7 L539.5 178.7 L541.0 178.7 L542.5 178.7 L544.0 178.7 L545.5 178.7 L547.0 178.7 L548.5 178.7 L550.0 178.7 L551.5 178.7 L553.0 178.7 L554.5 178.7 L556.0 178.0 L557.5 176.7 L559.0 175.5 L560.5 174.4 L562.0 173.4 L563.5 172.7 L565.0 172.1 L566.5 171.8 L568.0 171.7 L569.5 171.8 L571.0 172.1 L572.5 172.7 L574.0 173.4 L575.5 174.4 L577.0 175.5 L578.5 176.7 L580.0 178.0 L581.5 178.7 L583.0 178.7 L584.5 178.7 L586.0 178.7 L587.5 178.7 L589.0 178.7 L590.5 178.7 L592.0 178.7 L593.5 178.7 L595.0 178.7 L596.5 178.7 L598.0 178.7 L599.5 178.7 L601.0 176.1 L602.5 171.3 L604.0 166.2 L605.5 161.1 L607.0 156.2 L608.5 151.5 L610.0 147.1 L611.5 143.1 L613.0 139.5 L614.5 136.3 L616.0 133.6 L617.5 131.2 L619.0 129.4 L620.5 128.0 L622.0 127.1 L623.5 126.7 L625.0 126.8 L626.5 127.4 L628.0 128.4 L629.5 130.0 L631.0 132.0 L632.5 134.4 L634.0 137.3 L635.5 140.7 L637.0 144.4 L638.5 148.5 L640.0 153.0 L641.5 157.8 L643.0 162.8 L644.5 167.9 L646.0 172.9 L647.5 177.6 L649.0 178.7 L650.5 178.7 L652.0 178.7 L653.5 178.7 L655.0 178.7 L656.5 178.7 L658.0 178.7 L659.5 178.7 L661.0 178.7 L662.5 178.7 L664.0 178.7 L665.5 178.7 L667.0 176.6 L668.5 172.7 L670.0 168.6 L671.5 164.5 L673.0 160.6 L674.5 156.9 L676.0 153.5 L677.5 150.4 L679.0 147.6 L680.5 145.2 L682.0 143.1 L683.5 141.4 L685.0 140.1 L686.5 139.3 L688.0 138.8 L689.5 138.7 L691.0 139.1 L692.5 139.8 L694.0 141.0 L695.5 142.5 L697.0 144.4 L698.5 146.7 L700.0 149.4 L701.5 152.4 L703.0 155.7 L704.5 159.4 L706.0 163.2 L707.5 167.2 L709.0 171.3 L710.5 175.4 L712.0 178.7 L713.5 178.7 L715.0 178.7 L716.5 178.7 L718.0 178.7 L719.5 178.7 L721.0 178.7 L722.5 178.7 L724.0 178.7 L725.5 178.7 L727.0 178.7 L728.5 178.7 L730.0 178.7 L731.5 178.7 L733.0 178.7 L734.5 178.7 L736.0 178.7 L737.5 178.1 L739.0 175.8 L740.5 173.3 L742.0 170.9 L743.5 168.6 L745.0 166.5 L746.5 164.7 L748.0 163.1 L749.5 161.8 L751.0 160.8 L752.5 160.1 L754.0 159.8 L755.5 159.7 L757.0 160.0 L758.5 160.6 L760.0 161.4 L761.5 162.6 L763.0 164.1 L764.5 165.9 L766.0 167.9 L767.5 170.1 L769.0 172.5 L770.5 175.0 L772.0 177.4 L773.5 178.7 L775.0 178.7 L776.5 178.7 L778.0 178.7 L779.5 178.7 L781.0 178.7 L782.5 178.7 L784.0 178.7 L785.5 178.7 L787.0 178.7 L788.5 178.7 L790.0 178.7 L791.5 178.7 L793.0 178.7 L794.5 178.7 L796.0 178.7 L797.5 178.7 L799.0 178.7 L800.5 178.7 L802.0 178.7 L803.5 178.7 L805.0 178.7 L806.5 178.7 L808.0 178.7 L809.5 178.7 L811.0 178.7 L812.5 178.7 L814.0 178.7 L815.5 178.7 L817.0 178.7 L818.5 178.7 L820.0 178.7 L821.5 178.7 L823.0 178.7 L824.5 178.3 L826.0 176.9 L827.5 175.5 L829.0 174.1 L830.5 172.8 L832.0 171.6 L833.5 170.6" fill="none" stroke="#b0dc58" stroke-width="1.2" stroke-opacity="0.85" stroke-linejoin="round"/>
<path d="M190.0 178.7 L191.5 177.4 L193.0 175.1 L194.5 172.8 L196.0 170.6 L197.5 168.8 L199.0 167.3 L200.5 166.1 L202.0 165.2 L203.5 164.8 L205.0 164.7 L206.5 165.0 L208.0 165.7 L209.5 166.8 L211.0 168.2 L212.5 170.0 L214.0 172.0 L215.5 174.3 L217.0 176.6 L218.5 178.7 L220.0 178.7 L221.5 178.7 L223.0 178.7 L224.5 178.7 L226.0 178.7 L227.5 178.7 L229.0 178.7 L230.5 178.7 L232.0 178.7 L233.5 178.7 L235.0 178.7 L236.5 178.7 L238.0 178.7 L239.5 178.7 L241.0 178.7 L242.5 178.7 L244.0 178.7 L245.5 178.7 L247.0 178.7 L248.5 178.7 L250.0 178.7 L251.5 178.7 L253.0 178.7 L254.5 178.7 L256.0 178.7 L257.5 178.7 L259.0 178.7 L260.5 178.7 L262.0 178.7 L263.5 178.7 L265.0 178.7 L266.5 178.7 L268.0 178.7 L269.5 178.7 L271.0 178.7 L272.5 178.7 L274.0 178.7 L275.5 178.7 L277.0 178.7 L278.5 178.7 L280.0 178.7 L281.5 178.7 L283.0 178.7 L284.5 178.7 L286.0 178.7 L287.5 178.7 L289.0 178.7 L290.5 178.7 L292.0 178.7 L293.5 178.7 L295.0 178.7 L296.5 178.7 L298.0 178.7 L299.5 178.7 L301.0 178.7 L302.5 178.7 L304.0 178.7 L305.5 178.7 L307.0 178.7 L308.5 178.7 L310.0 178.7 L311.5 178.7 L313.0 178.7 L314.5 178.7 L316.0 178.7 L317.5 178.7 L319.0 178.7 L320.5 178.7 L322.0 178.7 L323.5 178.7 L325.0 178.7 L326.5 178.7 L328.0 178.7 L329.5 178.7 L331.0 178.7 L332.5 178.7 L334.0 178.7 L335.5 178.7 L337.0 178.7 L338.5 178.7 L340.0 178.7 L341.5 178.7 L343.0 178.7 L344.5 178.7 L346.0 178.7 L347.5 178.7 L349.0 178.7 L350.5 178.7 L352.0 178.7 L353.5 178.7 L355.0 178.7 L356.5 178.7 L358.0 178.7 L359.5 178.7 L361.0 178.7 L362.5 178.7 L364.0 178.7 L365.5 178.7 L367.0 178.7 L368.5 178.7 L370.0 178.7 L371.5 178.7 L373.0 178.7 L374.5 178.7 L376.0 178.7 L377.5 178.7 L379.0 178.7 L380.5 178.7 L382.0 178.7 L383.5 178.7 L385.0 178.7 L386.5 178.7 L388.0 178.7 L389.5 178.7 L391.0 178.7 L392.5 178.7 L394.0 178.7 L395.5 178.7 L397.0 178.7 L398.5 178.7 L400.0 178.7 L401.5 178.7 L403.0 178.7 L404.5 178.7 L406.0 178.7 L407.5 178.7 L409.0 178.7 L410.5 178.7 L412.0 178.7 L413.5 178.7 L415.0 178.7 L416.5 178.7 L418.0 178.7 L419.5 178.7 L421.0 178.7 L422.5 176.7 L424.0 174.3 L425.5 172.0 L427.0 169.9 L428.5 168.1 L430.0 166.5 L431.5 165.3 L433.0 164.4 L434.5 163.9 L436.0 163.7 L437.5 163.9 L439.0 164.4 L440.5 165.3 L442.0 166.5 L443.5 168.1 L445.0 169.9 L446.5 172.0 L448.0 174.3 L449.5 176.7 L451.0 178.7 L452.5 178.7 L454.0 178.7 L455.5 178.7 L457.0 178.7 L458.5 178.7 L460.0 178.7 L461.5 178.7 L463.0 178.7 L464.5 178.7 L466.0 178.7 L467.5 178.7 L469.0 178.7 L470.5 178.7 L472.0 178.7 L473.5 178.7 L475.0 178.7 L476.5 178.7 L478.0 178.7 L479.5 178.7 L481.0 178.7 L482.5 178.7 L484.0 178.7 L485.5 178.7 L487.0 178.7 L488.5 178.7 L490.0 178.7 L491.5 178.7 L493.0 178.7 L494.5 178.7 L496.0 178.7 L497.5 178.7 L499.0 178.7 L500.5 178.7 L502.0 178.7 L503.5 178.7 L505.0 178.7 L506.5 178.7 L508.0 178.7 L509.5 178.7 L511.0 178.7 L512.5 178.7 L514.0 178.7 L515.5 178.7 L517.0 178.7 L518.5 178.7 L520.0 178.7 L521.5 178.7 L523.0 178.7 L524.5 178.7 L526.0 178.7 L527.5 178.7 L529.0 178.7 L530.5 178.7 L532.0 178.7 L533.5 178.7 L535.0 178.7 L536.5 178.7 L538.0 178.7 L539.5 178.7 L541.0 178.7 L542.5 178.7 L544.0 178.7 L545.5 178.7 L547.0 178.7 L548.5 178.7 L550.0 178.7 L551.5 178.7 L553.0 178.7 L554.5 178.7 L556.0 178.7 L557.5 178.7 L559.0 178.7 L560.5 178.7 L562.0 178.7 L563.5 178.7 L565.0 178.7 L566.5 178.7 L568.0 178.7 L569.5 178.7 L571.0 178.7 L572.5 178.7 L574.0 178.7 L575.5 178.7 L577.0 178.7 L578.5 178.7 L580.0 178.7 L581.5 178.7 L583.0 178.7 L584.5 178.7 L586.0 178.7 L587.5 178.7 L589.0 178.7 L590.5 178.7 L592.0 178.7 L593.5 178.7 L595.0 178.7 L596.5 178.7 L598.0 178.7 L599.5 178.7 L601.0 178.7 L602.5 178.7 L604.0 178.7 L605.5 177.9 L607.0 174.6 L608.5 171.1 L610.0 167.6 L611.5 164.2 L613.0 161.1 L614.5 158.3 L616.0 155.8 L617.5 153.7 L619.0 151.9 L620.5 150.5 L622.0 149.5 L623.5 148.9 L625.0 148.7 L626.5 148.9 L628.0 149.5 L629.5 150.5 L631.0 151.9 L632.5 153.7 L634.0 155.8 L635.5 158.3 L637.0 161.1 L638.5 164.2 L640.0 167.6 L641.5 171.1 L643.0 174.6 L644.5 177.9 L646.0 178.7 L647.5 178.7 L649.0 178.7 L650.5 178.7 L652.0 178.7 L653.5 178.7 L655.0 178.7 L656.5 178.7 L658.0 178.7 L659.5 178.7 L661.0 178.7 L662.5 178.7 L664.0 178.7 L665.5 173.8 L667.0 167.8 L668.5 161.5 L670.0 155.4 L671.5 149.4 L673.0 143.7 L674.5 138.4 L676.0 133.4 L677.5 128.9 L679.0 124.8 L680.5 121.2 L682.0 118.1 L683.5 115.5 L685.0 113.4 L686.5 111.9 L688.0 110.9 L689.5 110.4 L691.0 110.5 L692.5 111.2 L694.0 112.3 L695.5 114.1 L697.0 116.3 L698.5 119.1 L700.0 122.3 L701.5 126.1 L703.0 130.3 L704.5 135.0 L706.0 140.1 L707.5 145.6 L709.0 151.4 L710.5 157.4 L712.0 163.6 L713.5 169.8 L715.0 175.6 L716.5 178.7 L718.0 178.7 L719.5 178.7 L721.0 178.7 L722.5 178.7 L724.0 178.7 L725.5 178.7 L727.0 178.7 L728.5 178.7 L730.0 178.7 L731.5 178.7 L733.0 178.7 L734.5 178.7 L736.0 178.7 L737.5 178.7 L739.0 178.7 L740.5 176.9 L742.0 174.9 L743.5 172.8 L745.0 171.0 L746.5 169.3 L748.0 167.9 L749.5 166.7 L751.0 165.7 L752.5 165.1 L754.0 164.8 L755.5 164.7 L757.0 165.0 L758.5 165.5 L760.0 166.3 L761.5 167.4 L763.0 168.8 L764.5 170.4 L766.0 172.2 L767.5 174.2 L769.0 176.2 L770.5 178.2 L772.0 178.7 L773.5 178.7 L775.0 178.7 L776.5 178.7 L778.0 178.7 L779.5 178.7 L781.0 178.7 L782.5 178.7 L784.0 178.7 L785.5 178.7 L787.0 178.7 L788.5 178.7 L790.0 178.7 L791.5 178.7 L793.0 178.7 L794.5 178.7 L796.0 178.7 L797.5 178.7 L799.0 178.7 L800.5 178.7 L802.0 178.7 L803.5 178.7 L805.0 178.7 L806.5 178.7 L808.0 178.7 L809.5 178.7 L811.0 178.7 L812.5 178.7 L814.0 178.7 L815.5 178.7 L817.0 178.7 L818.5 178.7 L820.0 178.7 L821.5 178.7 L823.0 178.7 L824.5 178.7 L826.0 178.7 L827.5 178.7 L829.0 178.7 L830.5 178.7 L832.0 178.7 L833.5 178.7" fill="none" stroke="#68be48" stroke-width="1.2" stroke-opacity="0.8" stroke-linejoin="round"/>
<path d="M190.0 178.7 L191.5 177.8 L193.0 174.2 L194.5 170.5 L196.0 167.1 L197.5 164.0 L199.0 161.5 L200.5 159.4 L202.0 157.9 L203.5 157.0 L205.0 156.7 L206.5 157.0 L208.0 157.9 L209.5 159.4 L211.0 161.5 L212.5 164.0 L214.0 167.1 L215.5 170.5 L217.0 174.2 L218.5 177.8 L220.0 178.7 L221.5 178.7 L223.0 178.7 L224.5 178.7 L226.0 178.7 L227.5 178.7 L229.0 178.7 L230.5 178.7 L232.0 178.7 L233.5 178.7 L235.0 178.7 L236.5 178.7 L238.0 178.7 L239.5 178.7 L241.0 178.7 L242.5 178.7 L244.0 178.7 L245.5 178.7 L247.0 178.7 L248.5 178.7 L250.0 178.7 L251.5 178.7 L253.0 178.7 L254.5 178.7 L256.0 178.7 L257.5 178.7 L259.0 178.7 L260.5 178.7 L262.0 178.7 L263.5 178.7 L265.0 178.7 L266.5 178.7 L268.0 178.7 L269.5 178.7 L271.0 178.7 L272.5 178.7 L274.0 178.7 L275.5 178.7 L277.0 178.7 L278.5 178.7 L280.0 178.7 L281.5 178.7 L283.0 178.7 L284.5 178.7 L286.0 178.7 L287.5 178.7 L289.0 178.7 L290.5 178.7 L292.0 178.7 L293.5 178.7 L295.0 178.7 L296.5 178.7 L298.0 178.7 L299.5 178.7 L301.0 178.7 L302.5 178.7 L304.0 178.7 L305.5 178.7 L307.0 178.7 L308.5 178.7 L310.0 178.7 L311.5 178.7 L313.0 178.7 L314.5 178.7 L316.0 178.7 L317.5 178.7 L319.0 178.7 L320.5 178.7 L322.0 178.7 L323.5 178.7 L325.0 178.7 L326.5 178.7 L328.0 178.7 L329.5 178.7 L331.0 178.7 L332.5 178.7 L334.0 178.7 L335.5 178.7 L337.0 178.7 L338.5 178.7 L340.0 178.7 L341.5 178.7 L343.0 178.7 L344.5 178.7 L346.0 178.7 L347.5 178.7 L349.0 178.7 L350.5 178.7 L352.0 178.7 L353.5 178.7 L355.0 178.7 L356.5 178.7 L358.0 178.7 L359.5 178.7 L361.0 178.7 L362.5 178.7 L364.0 178.7 L365.5 178.7 L367.0 178.7 L368.5 178.7 L370.0 178.7 L371.5 178.7 L373.0 178.7 L374.5 178.7 L376.0 178.7 L377.5 178.7 L379.0 178.7 L380.5 178.7 L382.0 178.7 L383.5 178.7 L385.0 178.7 L386.5 178.7 L388.0 178.7 L389.5 178.7 L391.0 178.7 L392.5 178.7 L394.0 178.7 L395.5 178.7 L397.0 178.7 L398.5 178.7 L400.0 178.7 L401.5 178.7 L403.0 178.7 L404.5 178.7 L406.0 178.7 L407.5 178.7 L409.0 178.7 L410.5 178.7 L412.0 178.7 L413.5 178.7 L415.0 178.7 L416.5 178.7 L418.0 178.7 L419.5 178.7 L421.0 178.7 L422.5 175.8 L424.0 172.5 L425.5 169.3 L427.0 166.4 L428.5 163.8 L430.0 161.7 L431.5 159.9 L433.0 158.7 L434.5 158.0 L436.0 157.7 L437.5 158.0 L439.0 158.7 L440.5 159.9 L442.0 161.7 L443.5 163.8 L445.0 166.4 L446.5 169.3 L448.0 172.5 L449.5 175.8 L451.0 178.7 L452.5 178.7 L454.0 178.7 L455.5 178.7 L457.0 178.7 L458.5 178.7 L460.0 178.7 L461.5 178.7 L463.0 178.7 L464.5 178.7 L466.0 178.7 L467.5 178.7 L469.0 178.7 L470.5 178.7 L472.0 178.7 L473.5 178.7 L475.0 178.7 L476.5 178.7 L478.0 178.7 L479.5 178.7 L481.0 178.7 L482.5 178.7 L484.0 178.7 L485.5 178.7 L487.0 178.7 L488.5 178.7 L490.0 178.7 L491.5 177.8 L493.0 176.8 L494.5 175.9 L496.0 175.2 L497.5 174.5 L499.0 174.1 L500.5 173.8 L502.0 173.7 L503.5 173.8 L505.0 174.1 L506.5 174.5 L508.0 175.2 L509.5 175.9 L511.0 176.8 L512.5 177.8 L514.0 178.7 L515.5 178.7 L517.0 178.7 L518.5 178.7 L520.0 178.7 L521.5 178.7 L523.0 178.7 L524.5 178.7 L526.0 178.7 L527.5 178.7 L529.0 178.7 L530.5 178.7 L532.0 178.7 L533.5 178.7 L535.0 178.7 L536.5 178.7 L538.0 178.7 L539.5 178.7 L541.0 178.7 L542.5 178.7 L544.0 178.7 L545.5 178.7 L547.0 178.7 L548.5 178.7 L550.0 178.7 L551.5 178.7 L553.0 178.7 L554.5 178.7 L556.0 178.7 L557.5 178.7 L559.0 178.7 L560.5 178.7 L562.0 178.7 L563.5 178.7 L565.0 178.7 L566.5 178.7 L568.0 178.7 L569.5 178.7 L571.0 178.7 L572.5 178.7 L574.0 178.7 L575.5 178.7 L577.0 178.7 L578.5 178.7 L580.0 178.7 L581.5 178.7 L583.0 178.7 L584.5 178.7 L586.0 178.7 L587.5 178.7 L589.0 178.7 L590.5 178.7 L592.0 178.7 L593.5 178.7 L595.0 178.7 L596.5 178.7 L598.0 178.7 L599.5 178.7 L601.0 175.6 L602.5 169.9 L604.0 163.7 L605.5 157.6 L607.0 151.6 L608.5 145.9 L610.0 140.5 L611.5 135.5 L613.0 131.0 L614.5 126.8 L616.0 123.2 L617.5 120.1 L619.0 117.4 L620.5 115.4 L622.0 113.8 L623.5 112.8 L625.0 112.3 L626.5 112.4 L628.0 113.1 L629.5 114.3 L631.0 116.0 L632.5 118.3 L634.0 121.1 L635.5 124.4 L637.0 128.2 L638.5 132.4 L640.0 137.1 L641.5 142.3 L643.0 147.8 L644.5 153.6 L646.0 159.6 L647.5 165.8 L649.0 171.8 L650.5 177.4 L652.0 178.7 L653.5 178.7 L655.0 178.7 L656.5 178.7 L658.0 178.7 L659.5 178.7 L661.0 178.7 L662.5 178.7 L664.0 178.7 L665.5 174.3 L667.0 168.9 L668.5 163.4 L670.0 157.9 L671.5 152.5 L673.0 147.5 L674.5 142.7 L676.0 138.3 L677.5 134.2 L679.0 130.6 L680.5 127.3 L682.0 124.6 L683.5 122.2 L685.0 120.4 L686.5 119.0 L688.0 118.1 L689.5 117.7 L691.0 117.8 L692.5 118.4 L694.0 119.4 L695.5 121.0 L697.0 123.0 L698.5 125.4 L700.0 128.4 L701.5 131.7 L703.0 135.5 L704.5 139.7 L706.0 144.2 L707.5 149.1 L709.0 154.3 L710.5 159.7 L712.0 165.2 L713.5 170.7 L715.0 176.0 L716.5 178.7 L718.0 178.7 L719.5 178.7 L721.0 178.7 L722.5 178.7 L724.0 178.7 L725.5 178.7 L727.0 178.7 L728.5 178.7 L730.0 178.7 L731.5 178.7 L733.0 178.7 L734.5 178.7 L736.0 178.7 L737.5 178.7 L739.0 178.7 L740.5 178.7 L742.0 178.7 L743.5 178.7 L745.0 178.7 L746.5 178.7 L748.0 178.7 L749.5 178.7 L751.0 178.7 L752.5 178.7 L754.0 178.7 L755.5 178.7 L757.0 176.4 L758.5 172.3 L760.0 168.3 L761.5 164.9 L763.0 162.0 L764.5 159.8 L766.0 158.4 L767.5 157.7 L769.0 157.9 L770.5 158.8 L772.0 160.5 L773.5 162.9 L775.0 166.0 L776.5 169.6 L778.0 173.6 L779.5 177.7 L781.0 178.7 L782.5 178.7 L784.0 178.7 L785.5 178.7 L787.0 178.7 L788.5 178.7 L790.0 178.7 L791.5 178.7 L793.0 178.7 L794.5 178.7 L796.0 178.7 L797.5 178.7 L799.0 178.7 L800.5 178.7 L802.0 178.7 L803.5 177.4 L805.0 176.0 L806.5 174.8 L808.0 173.8 L809.5 173.1 L811.0 172.8 L812.5 172.7 L814.0 173.0 L815.5 173.6 L817.0 174.5 L818.5 175.6 L820.0 176.9 L821.5 178.3 L823.0 178.7 L824.5 178.7 L826.0 178.7 L827.5 178.7 L829.0 178.7 L830.5 178.7 L832.0 178.7 L833.5 178.7" fill="none" stroke="#ffb030" stroke-width="1.3" stroke-opacity="0.85" stroke-linejoin="round"/>
<path d="M190.0 178.7 L191.5 178.7 L193.0 177.1 L194.5 174.1 L196.0 171.2 L197.5 168.4 L199.0 166.0 L200.5 163.9 L202.0 162.2 L203.5 160.9 L205.0 160.1 L206.5 159.7 L208.0 159.8 L209.5 160.3 L211.0 161.3 L212.5 162.7 L214.0 164.6 L215.5 166.8 L217.0 169.3 L218.5 172.1 L220.0 175.1 L221.5 178.0 L223.0 178.7 L224.5 178.7 L226.0 178.7 L227.5 178.7 L229.0 178.7 L230.5 178.7 L232.0 178.7 L233.5 178.7 L235.0 178.7 L236.5 178.7 L238.0 178.7 L239.5 178.7 L241.0 178.7 L242.5 178.7 L244.0 178.7 L245.5 178.7 L247.0 178.7 L248.5 178.7 L250.0 178.7 L251.5 178.7 L253.0 178.7 L254.5 178.7 L256.0 178.7 L257.5 178.7 L259.0 178.7 L260.5 178.7 L262.0 178.7 L263.5 178.7 L265.0 178.7 L266.5 178.7 L268.0 178.7 L269.5 178.7 L271.0 178.7 L272.5 178.7 L274.0 178.7 L275.5 178.7 L277.0 178.7 L278.5 178.7 L280.0 178.7 L281.5 178.7 L283.0 178.7 L284.5 178.7 L286.0 178.7 L287.5 178.7 L289.0 178.7 L290.5 178.7 L292.0 178.7 L293.5 178.7 L295.0 178.7 L296.5 178.7 L298.0 178.7 L299.5 178.7 L301.0 178.7 L302.5 178.7 L304.0 178.7 L305.5 178.7 L307.0 178.7 L308.5 178.7 L310.0 178.7 L311.5 178.7 L313.0 178.7 L314.5 178.7 L316.0 178.7 L317.5 178.7 L319.0 178.7 L320.5 178.7 L322.0 178.7 L323.5 178.7 L325.0 178.7 L326.5 178.7 L328.0 178.7 L329.5 178.7 L331.0 178.7 L332.5 178.7 L334.0 178.7 L335.5 178.7 L337.0 178.7 L338.5 178.7 L340.0 178.7 L341.5 178.7 L343.0 178.7 L344.5 178.7 L346.0 178.7 L347.5 178.7 L349.0 178.7 L350.5 178.7 L352.0 178.7 L353.5 178.7 L355.0 178.7 L356.5 178.7 L358.0 178.7 L359.5 178.7 L361.0 178.7 L362.5 178.7 L364.0 178.7 L365.5 178.7 L367.0 178.7 L368.5 178.7 L370.0 178.7 L371.5 178.7 L373.0 178.7 L374.5 178.7 L376.0 178.7 L377.5 178.7 L379.0 178.7 L380.5 178.7 L382.0 178.7 L383.5 178.7 L385.0 178.7 L386.5 178.7 L388.0 178.7 L389.5 178.7 L391.0 178.7 L392.5 178.7 L394.0 178.7 L395.5 178.7 L397.0 178.7 L398.5 178.7 L400.0 178.7 L401.5 178.7 L403.0 178.7 L404.5 178.7 L406.0 178.7 L407.5 178.7 L409.0 178.7 L410.5 178.7 L412.0 178.7 L413.5 178.7 L415.0 178.7 L416.5 178.7 L418.0 178.7 L419.5 178.7 L421.0 178.7 L422.5 177.9 L424.0 174.9 L425.5 171.8 L427.0 168.8 L428.5 166.1 L430.0 163.8 L431.5 161.9 L433.0 160.4 L434.5 159.4 L436.0 158.8 L437.5 158.7 L439.0 159.1 L440.5 160.0 L442.0 161.3 L443.5 163.1 L445.0 165.3 L446.5 167.9 L448.0 170.8 L449.5 173.9 L451.0 177.0 L452.5 178.7 L454.0 178.7 L455.5 178.7 L457.0 178.7 L458.5 178.7 L460.0 178.7 L461.5 178.7 L463.0 178.7 L464.5 178.7 L466.0 178.7 L467.5 178.7 L469.0 178.7 L470.5 178.7 L472.0 178.7 L473.5 178.7 L475.0 178.7 L476.5 178.7 L478.0 178.7 L479.5 178.7 L481.0 178.7 L482.5 178.7 L484.0 178.7 L485.5 178.7 L487.0 178.7 L488.5 178.7 L490.0 178.7 L491.5 178.7 L493.0 178.7 L494.5 177.5 L496.0 176.1 L497.5 174.8 L499.0 173.7 L500.5 172.9 L502.0 172.2 L503.5 171.8 L505.0 171.7 L506.5 171.8 L508.0 172.2 L509.5 172.9 L511.0 173.7 L512.5 174.8 L514.0 176.1 L515.5 177.5 L517.0 178.7 L518.5 178.7 L520.0 178.7 L521.5 178.7 L523.0 178.7 L524.5 178.7 L526.0 178.7 L527.5 178.7 L529.0 178.7 L530.5 178.7 L532.0 178.7 L533.5 178.7 L535.0 178.7 L536.5 178.7 L538.0 178.7 L539.5 178.7 L541.0 178.7 L542.5 178.7 L544.0 178.7 L545.5 178.7 L547.0 178.7 L548.5 178.7 L550.0 178.7 L551.5 178.7 L553.0 178.7 L554.5 178.7 L556.0 178.7 L557.5 178.7 L559.0 178.7 L560.5 178.7 L562.0 178.7 L563.5 178.7 L565.0 178.7 L566.5 178.7 L568.0 178.7 L569.5 178.7 L571.0 178.7 L572.5 178.7 L574.0 178.7 L575.5 178.7 L577.0 178.7 L578.5 178.7 L580.0 178.7 L581.5 178.7 L583.0 178.7 L584.5 178.7 L586.0 178.7 L587.5 178.7 L589.0 178.7 L590.5 178.7 L592.0 178.7 L593.5 178.7 L595.0 178.7 L596.5 178.7 L598.0 178.7 L599.5 178.7 L601.0 177.4 L602.5 172.1 L604.0 166.2 L605.5 160.3 L607.0 154.5 L608.5 149.0 L610.0 143.7 L611.5 138.8 L613.0 134.4 L614.5 130.3 L616.0 126.8 L617.5 123.7 L619.0 121.1 L620.5 119.1 L622.0 117.6 L623.5 116.6 L625.0 116.1 L626.5 116.2 L628.0 116.9 L629.5 118.0 L631.0 119.7 L632.5 121.9 L634.0 124.7 L635.5 127.9 L637.0 131.6 L638.5 135.8 L640.0 140.4 L641.5 145.4 L643.0 150.8 L644.5 156.4 L646.0 162.3 L647.5 168.2 L649.0 174.0 L650.5 178.7 L652.0 178.7 L653.5 178.7 L655.0 178.7 L656.5 178.7 L658.0 178.7 L659.5 178.7 L661.0 178.7 L662.5 178.7 L664.0 178.7 L665.5 177.5 L667.0 172.8 L668.5 167.6 L670.0 162.3 L671.5 157.1 L673.0 152.1 L674.5 147.4 L676.0 143.0 L677.5 139.0 L679.0 135.4 L680.5 132.3 L682.0 129.5 L683.5 127.2 L685.0 125.4 L686.5 124.0 L688.0 123.1 L689.5 122.7 L691.0 122.8 L692.5 123.4 L694.0 124.4 L695.5 125.9 L697.0 127.9 L698.5 130.4 L700.0 133.3 L701.5 136.6 L703.0 140.3 L704.5 144.5 L706.0 148.9 L707.5 153.7 L709.0 158.8 L710.5 164.0 L712.0 169.3 L713.5 174.5 L715.0 178.7 L716.5 178.7 L718.0 178.7 L719.5 178.7 L721.0 178.7 L722.5 178.7 L724.0 178.7 L725.5 178.7 L727.0 178.7 L728.5 178.7 L730.0 178.7 L731.5 178.7 L733.0 178.7 L734.5 178.7 L736.0 178.7 L737.5 178.7 L739.0 178.7 L740.5 178.7 L742.0 178.7 L743.5 178.7 L745.0 178.7 L746.5 178.7 L748.0 178.7 L749.5 178.7 L751.0 178.7 L752.5 178.7 L754.0 178.7 L755.5 175.9 L757.0 172.8 L758.5 169.9 L760.0 167.4 L761.5 165.4 L763.0 163.9 L764.5 163.0 L766.0 162.7 L767.5 163.0 L769.0 163.9 L770.5 165.4 L772.0 167.4 L773.5 169.9 L775.0 172.8 L776.5 175.9 L778.0 178.7 L779.5 178.7 L781.0 178.7 L782.5 178.7 L784.0 178.7 L785.5 178.7 L787.0 178.7 L788.5 178.7 L790.0 178.7 L791.5 178.7 L793.0 178.7 L794.5 178.7 L796.0 178.7 L797.5 178.7 L799.0 178.7 L800.5 178.7 L802.0 178.7 L803.5 178.7 L805.0 178.7 L806.5 178.7 L808.0 178.7 L809.5 178.7 L811.0 178.7 L812.5 178.7 L814.0 178.7 L815.5 178.7 L817.0 178.7 L818.5 178.7 L820.0 178.7 L821.5 178.7 L823.0 178.7 L824.5 178.7 L826.0 178.7 L827.5 178.7 L829.0 178.7 L830.5 178.7 L832.0 178.7 L833.5 178.7" fill="none" stroke="#ffdc40" stroke-width="1.3" stroke-opacity="0.85" stroke-linejoin="round"/>
<path d="M190.0 178.7 L191.5 178.7 L193.0 178.7 L194.5 176.0 L196.0 172.9 L197.5 169.9 L199.0 167.1 L200.5 164.6 L202.0 162.4 L203.5 160.6 L205.0 159.3 L206.5 158.3 L208.0 157.8 L209.5 157.7 L211.0 158.1 L212.5 158.9 L214.0 160.1 L215.5 161.8 L217.0 163.8 L218.5 166.2 L220.0 169.0 L221.5 171.9 L223.0 175.0 L224.5 178.0 L226.0 178.7 L227.5 178.7 L229.0 178.7 L230.5 178.7 L232.0 178.7 L233.5 177.1 L235.0 175.4 L236.5 174.0 L238.0 172.8 L239.5 172.1 L241.0 171.7 L242.5 171.8 L244.0 172.3 L245.5 173.2 L247.0 174.4 L248.5 176.0 L250.0 177.7 L251.5 178.7 L253.0 178.7 L254.5 178.7 L256.0 178.7 L257.5 178.7 L259.0 178.7 L260.5 178.7 L262.0 178.7 L263.5 178.7 L265.0 178.7 L266.5 178.7 L268.0 178.7 L269.5 178.7 L271.0 178.7 L272.5 178.7 L274.0 178.7 L275.5 178.7 L277.0 178.7 L278.5 178.7 L280.0 178.7 L281.5 178.7 L283.0 178.7 L284.5 178.7 L286.0 178.7 L287.5 178.7 L289.0 178.7 L290.5 178.7 L292.0 178.7 L293.5 178.7 L295.0 178.7 L296.5 178.7 L298.0 178.7 L299.5 178.7 L301.0 178.7 L302.5 178.7 L304.0 178.7 L305.5 178.7 L307.0 178.7 L308.5 178.7 L310.0 178.7 L311.5 178.7 L313.0 178.7 L314.5 178.7 L316.0 178.7 L317.5 178.7 L319.0 178.7 L320.5 178.7 L322.0 178.7 L323.5 178.7 L325.0 178.7 L326.5 178.7 L328.0 178.7 L329.5 178.7 L331.0 178.7 L332.5 178.7 L334.0 178.7 L335.5 178.7 L337.0 178.7 L338.5 178.7 L340.0 178.7 L341.5 178.7 L343.0 178.7 L344.5 178.7 L346.0 178.7 L347.5 178.7 L349.0 178.7 L350.5 178.7 L352.0 178.7 L353.5 178.7 L355.0 178.7 L356.5 178.7 L358.0 178.7 L359.5 178.7 L361.0 178.7 L362.5 178.7 L364.0 178.7 L365.5 178.7 L367.0 178.7 L368.5 178.7 L370.0 178.7 L371.5 178.7 L373.0 178.7 L374.5 178.7 L376.0 178.7 L377.5 178.7 L379.0 178.7 L380.5 178.7 L382.0 178.7 L383.5 178.7 L385.0 178.7 L386.5 178.7 L388.0 178.7 L389.5 178.7 L391.0 178.7 L392.5 178.7 L394.0 178.7 L395.5 178.7 L397.0 178.7 L398.5 178.7 L400.0 178.7 L401.5 178.7 L403.0 178.7 L404.5 178.7 L406.0 178.7 L407.5 178.7 L409.0 178.7 L410.5 178.7 L412.0 178.7 L413.5 178.7 L415.0 178.7 L416.5 178.7 L418.0 178.7 L419.5 178.7 L421.0 178.7 L422.5 177.9 L424.0 174.5 L425.5 171.0 L427.0 167.7 L428.5 164.6 L430.0 161.8 L431.5 159.5 L433.0 157.7 L434.5 156.3 L436.0 155.3 L437.5 154.9 L439.0 155.0 L440.5 155.6 L442.0 156.7 L443.5 158.2 L445.0 160.3 L446.5 162.7 L448.0 165.6 L449.5 168.8 L451.0 172.2 L452.5 175.7 L454.0 178.7 L455.5 178.7 L457.0 178.7 L458.5 178.7 L460.0 178.7 L461.5 178.7 L463.0 178.7 L464.5 178.7 L466.0 178.7 L467.5 178.7 L469.0 178.7 L470.5 178.7 L472.0 178.7 L473.5 178.7 L475.0 178.7 L476.5 178.7 L478.0 178.7 L479.5 178.7 L481.0 178.7 L482.5 178.7 L484.0 178.7 L485.5 178.7 L487.0 178.7 L488.5 178.7 L490.0 178.7 L491.5 178.7 L493.0 178.7 L494.5 178.7 L496.0 178.7 L497.5 178.7 L499.0 178.7 L500.5 178.7 L502.0 178.7 L503.5 178.7 L505.0 178.7 L506.5 178.7 L508.0 178.7 L509.5 178.7 L511.0 178.7 L512.5 178.7 L514.0 178.7 L515.5 178.7 L517.0 178.7 L518.5 178.7 L520.0 178.7 L521.5 178.7 L523.0 178.7 L524.5 178.7 L526.0 178.7 L527.5 178.7 L529.0 178.7 L530.5 178.7 L532.0 178.7 L533.5 178.7 L535.0 178.7 L536.5 178.7 L538.0 178.7 L539.5 178.7 L541.0 178.7 L542.5 178.7 L544.0 178.7 L545.5 178.7 L547.0 178.7 L548.5 178.7 L550.0 178.7 L551.5 178.7 L553.0 178.7 L554.5 178.5 L556.0 177.7 L557.5 177.0 L559.0 176.3 L560.5 175.7 L562.0 175.2 L563.5 174.9 L565.0 174.7 L566.5 174.7 L568.0 174.8 L569.5 175.1 L571.0 175.5 L572.5 176.1 L574.0 176.7 L575.5 177.5 L577.0 178.3 L578.5 178.7 L580.0 178.7 L581.5 178.7 L583.0 178.7 L584.5 178.7 L586.0 178.7 L587.5 178.7 L589.0 178.7 L590.5 178.7 L592.0 178.7 L593.5 178.7 L595.0 178.7 L596.5 178.7 L598.0 178.7 L599.5 178.7 L601.0 177.5 L602.5 172.5 L604.0 167.0 L605.5 161.4 L607.0 155.9 L608.5 150.7 L610.0 145.7 L611.5 141.1 L613.0 136.9 L614.5 133.1 L616.0 129.8 L617.5 126.9 L619.0 124.5 L620.5 122.5 L622.0 121.1 L623.5 120.2 L625.0 119.7 L626.5 119.8 L628.0 120.4 L629.5 121.5 L631.0 123.1 L632.5 125.2 L634.0 127.8 L635.5 130.8 L637.0 134.3 L638.5 138.3 L640.0 142.6 L641.5 147.4 L643.0 152.4 L644.5 157.7 L646.0 163.2 L647.5 168.8 L649.0 174.2 L650.5 178.7 L652.0 178.7 L653.5 178.7 L655.0 178.7 L656.5 178.7 L658.0 178.7 L659.5 178.7 L661.0 178.7 L662.5 178.7 L664.0 178.7 L665.5 177.5 L667.0 172.5 L668.5 167.0 L670.0 161.4 L671.5 155.9 L673.0 150.7 L674.5 145.7 L676.0 141.1 L677.5 136.9 L679.0 133.1 L680.5 129.8 L682.0 126.9 L683.5 124.5 L685.0 122.5 L686.5 121.1 L688.0 120.2 L689.5 119.7 L691.0 119.8 L692.5 120.4 L694.0 121.5 L695.5 123.1 L697.0 125.2 L698.5 127.8 L700.0 130.8 L701.5 134.3 L703.0 138.3 L704.5 142.6 L706.0 147.4 L707.5 152.4 L709.0 157.7 L710.5 163.2 L712.0 168.8 L713.5 174.2 L715.0 178.7 L716.5 178.7 L718.0 178.7 L719.5 178.7 L721.0 178.7 L722.5 178.7 L724.0 178.7 L725.5 178.7 L727.0 178.7 L728.5 178.7 L730.0 178.7 L731.5 178.7 L733.0 178.7 L734.5 178.7 L736.0 178.7 L737.5 178.7 L739.0 178.7 L740.5 178.7 L742.0 178.7 L743.5 178.7 L745.0 178.7 L746.5 178.7 L748.0 178.7 L749.5 178.7 L751.0 178.7 L752.5 178.7 L754.0 178.7 L755.5 178.7 L757.0 176.7 L758.5 173.2 L760.0 169.8 L761.5 166.8 L763.0 164.4 L764.5 162.5 L766.0 161.3 L767.5 160.7 L769.0 160.8 L770.5 161.6 L772.0 163.1 L773.5 165.1 L775.0 167.8 L776.5 170.9 L778.0 174.4 L779.5 177.8 L781.0 178.7 L782.5 178.7 L784.0 178.7 L785.5 178.7 L787.0 178.7 L788.5 178.7 L790.0 178.7 L791.5 178.7 L793.0 178.7 L794.5 178.7 L796.0 178.7 L797.5 178.7 L799.0 178.7 L800.5 178.4 L802.0 177.2 L803.5 176.1 L805.0 175.2 L806.5 174.4 L808.0 173.9 L809.5 173.7 L811.0 173.8 L812.5 174.1 L814.0 174.6 L815.5 175.5 L817.0 176.5 L818.5 177.6 L820.0 178.7 L821.5 178.7 L823.0 178.7 L824.5 178.7 L826.0 178.7 L827.5 178.7 L829.0 178.2 L830.5 177.4 L832.0 176.6 L833.5 175.8" fill="none" stroke="#f4e400" stroke-width="1.4" stroke-opacity="0.9" stroke-linejoin="round"/>
<path d="M190.0 178.7 L191.5 178.7 L193.0 177.2 L194.5 174.5 L196.0 171.9 L197.5 169.5 L199.0 167.4 L200.5 165.6 L202.0 164.3 L203.5 163.3 L205.0 162.8 L206.5 162.7 L208.0 163.1 L209.5 163.9 L211.0 165.1 L212.5 166.7 L214.0 168.7 L215.5 171.1 L217.0 173.6 L218.5 176.3 L220.0 178.7 L221.5 178.7 L223.0 178.7 L224.5 178.7 L226.0 178.7 L227.5 178.7 L229.0 178.7 L230.5 178.7 L232.0 178.7 L233.5 178.7 L235.0 178.7 L236.5 178.7 L238.0 178.7 L239.5 178.7 L241.0 178.7 L242.5 178.7 L244.0 178.7 L245.5 178.7 L247.0 178.7 L248.5 178.7 L250.0 178.7 L251.5 178.7 L253.0 178.7 L254.5 178.7 L256.0 178.7 L257.5 178.7 L259.0 178.7 L260.5 178.7 L262.0 178.7 L263.5 178.7 L265.0 178.7 L266.5 178.7 L268.0 178.7 L269.5 178.7 L271.0 178.7 L272.5 178.7 L274.0 178.7 L275.5 178.7 L277.0 178.7 L278.5 178.7 L280.0 178.7 L281.5 178.7 L283.0 178.7 L284.5 178.7 L286.0 178.7 L287.5 178.7 L289.0 178.7 L290.5 178.7 L292.0 178.7 L293.5 178.7 L295.0 178.7 L296.5 178.7 L298.0 178.7 L299.5 178.7 L301.0 178.7 L302.5 178.7 L304.0 178.7 L305.5 178.7 L307.0 178.7 L308.5 178.7 L310.0 178.7 L311.5 178.7 L313.0 178.7 L314.5 178.7 L316.0 178.7 L317.5 178.7 L319.0 178.7 L320.5 178.7 L322.0 178.7 L323.5 178.7 L325.0 178.7 L326.5 178.7 L328.0 178.7 L329.5 178.7 L331.0 178.7 L332.5 178.7 L334.0 178.7 L335.5 178.7 L337.0 178.7 L338.5 178.7 L340.0 178.7 L341.5 178.7 L343.0 178.7 L344.5 178.7 L346.0 178.7 L347.5 178.7 L349.0 178.7 L350.5 178.7 L352.0 178.7 L353.5 178.7 L355.0 178.7 L356.5 178.7 L358.0 178.7 L359.5 178.7 L361.0 178.7 L362.5 178.7 L364.0 178.7 L365.5 178.7 L367.0 178.7 L368.5 178.7 L370.0 178.7 L371.5 178.7 L373.0 178.7 L374.5 178.7 L376.0 178.7 L377.5 178.7 L379.0 178.7 L380.5 178.7 L382.0 178.7 L383.5 178.7 L385.0 178.7 L386.5 178.7 L388.0 178.7 L389.5 178.7 L391.0 178.7 L392.5 178.7 L394.0 178.7 L395.5 178.7 L397.0 178.7 L398.5 178.7 L400.0 178.7 L401.5 178.7 L403.0 178.7 L404.5 178.7 L406.0 178.7 L407.5 178.7 L409.0 178.7 L410.5 178.7 L412.0 178.7 L413.5 178.7 L415.0 178.7 L416.5 178.7 L418.0 178.7 L419.5 178.7 L421.0 178.7 L422.5 178.0 L424.0 175.2 L425.5 172.4 L427.0 169.7 L428.5 167.4 L430.0 165.4 L431.5 163.8 L433.0 162.6 L434.5 161.9 L436.0 161.7 L437.5 161.9 L439.0 162.6 L440.5 163.8 L442.0 165.4 L443.5 167.4 L445.0 169.7 L446.5 172.4 L448.0 175.2 L449.5 178.0 L451.0 178.7 L452.5 178.7 L454.0 178.7 L455.5 178.7 L457.0 178.7 L458.5 178.7 L460.0 178.7 L461.5 178.7 L463.0 178.7 L464.5 178.7 L466.0 178.7 L467.5 178.7 L469.0 178.7 L470.5 178.7 L472.0 178.7 L473.5 178.7 L475.0 178.7 L476.5 178.7 L478.0 178.7 L479.5 178.7 L481.0 178.7 L482.5 178.7 L484.0 178.7 L485.5 178.7 L487.0 178.7 L488.5 178.7 L490.0 178.7 L491.5 178.7 L493.0 178.7 L494.5 178.7 L496.0 178.7 L497.5 178.7 L499.0 178.7 L500.5 178.7 L502.0 178.7 L503.5 178.7 L505.0 178.7 L506.5 178.7 L508.0 178.7 L509.5 178.7 L511.0 178.7 L512.5 178.7 L514.0 178.7 L515.5 178.7 L517.0 178.7 L518.5 178.7 L520.0 178.7 L521.5 178.7 L523.0 178.7 L524.5 178.7 L526.0 178.7 L527.5 178.7 L529.0 178.7 L530.5 178.7 L532.0 178.7 L533.5 178.7 L535.0 178.7 L536.5 178.7 L538.0 178.7 L539.5 178.7 L541.0 178.7 L542.5 178.7 L544.0 178.7 L545.5 178.7 L547.0 178.7 L548.5 178.7 L550.0 178.7 L551.5 178.7 L553.0 178.7 L554.5 178.7 L556.0 178.7 L557.5 178.7 L559.0 178.7 L560.5 178.7 L562.0 178.7 L563.5 178.7 L565.0 178.7 L566.5 178.7 L568.0 178.7 L569.5 178.7 L571.0 178.7 L572.5 178.7 L574.0 178.7 L575.5 178.7 L577.0 178.7 L578.5 178.7 L580.0 178.7 L581.5 178.7 L583.0 178.7 L584.5 178.7 L586.0 178.7 L587.5 178.7 L589.0 178.7 L590.5 178.7 L592.0 178.7 L593.5 178.7 L595.0 178.7 L596.5 178.7 L598.0 178.7 L599.5 178.7 L601.0 178.7 L602.5 178.7 L604.0 176.0 L605.5 170.8 L607.0 165.5 L608.5 160.2 L610.0 155.1 L611.5 150.3 L613.0 146.0 L614.5 142.0 L616.0 138.6 L617.5 135.6 L619.0 133.1 L620.5 131.2 L622.0 129.8 L623.5 129.0 L625.0 128.7 L626.5 129.0 L628.0 129.8 L629.5 131.2 L631.0 133.1 L632.5 135.6 L634.0 138.6 L635.5 142.0 L637.0 146.0 L638.5 150.3 L640.0 155.1 L641.5 160.2 L643.0 165.5 L644.5 170.8 L646.0 176.0 L647.5 178.7 L649.0 178.7 L650.5 178.7 L652.0 178.7 L653.5 178.7 L655.0 178.7 L656.5 178.7 L658.0 178.7 L659.5 178.7 L661.0 178.7 L662.5 178.7 L664.0 178.7 L665.5 178.7 L667.0 178.7 L668.5 177.7 L670.0 173.4 L671.5 168.8 L673.0 164.3 L674.5 159.8 L676.0 155.6 L677.5 151.8 L679.0 148.3 L680.5 145.1 L682.0 142.4 L683.5 140.2 L685.0 138.4 L686.5 137.0 L688.0 136.1 L689.5 135.7 L691.0 135.8 L692.5 136.4 L694.0 137.4 L695.5 138.9 L697.0 140.9 L698.5 143.3 L700.0 146.1 L701.5 149.4 L703.0 153.0 L704.5 157.0 L706.0 161.3 L707.5 165.8 L709.0 170.4 L710.5 174.9 L712.0 178.7 L713.5 178.7 L715.0 178.7 L716.5 178.7 L718.0 178.7 L719.5 178.7 L721.0 178.7 L722.5 178.7 L724.0 178.7 L725.5 178.7 L727.0 178.7 L728.5 178.7 L730.0 178.7 L731.5 178.7 L733.0 178.7 L734.5 177.3 L736.0 175.7 L737.5 174.3 L739.0 173.0 L740.5 172.0 L742.0 171.3 L743.5 170.8 L745.0 170.7 L746.5 170.8 L748.0 171.3 L749.5 172.0 L751.0 173.0 L752.5 174.3 L754.0 175.7 L755.5 177.3 L757.0 176.8 L758.5 173.5 L760.0 170.5 L761.5 168.0 L763.0 166.2 L764.5 165.1 L766.0 164.7 L767.5 165.1 L769.0 166.2 L770.5 168.0 L772.0 170.5 L773.5 173.5 L775.0 176.8 L776.5 178.7 L778.0 178.7 L779.5 178.7 L781.0 178.7 L782.5 178.7 L784.0 178.7 L785.5 178.7 L787.0 178.7 L788.5 178.7 L790.0 178.7 L791.5 178.7 L793.0 178.7 L794.5 178.7 L796.0 178.7 L797.5 178.7 L799.0 178.7 L800.5 178.7 L802.0 178.7 L803.5 178.7 L805.0 178.7 L806.5 178.7 L808.0 178.7 L809.5 178.7 L811.0 178.7 L812.5 178.7 L814.0 178.7 L815.5 178.7 L817.0 178.7 L818.5 178.7 L820.0 178.7 L821.5 178.7 L823.0 178.7 L824.5 178.7 L826.0 178.7 L827.5 178.7 L829.0 178.7 L830.5 178.7 L832.0 178.7 L833.5 178.7" fill="none" stroke="#ffd24a" stroke-width="1.1" stroke-opacity="0.8" stroke-linejoin="round"/>
<path d="M190.0 178.7 L191.5 174.4 L193.0 169.6 L194.5 165.0 L196.0 161.1 L197.5 157.9 L199.0 155.4 L200.5 153.8 L202.0 153.0 L203.5 153.1 L205.0 153.5 L206.5 154.4 L208.0 155.6 L209.5 157.1 L211.0 159.0 L212.5 161.3 L214.0 163.8 L215.5 166.7 L217.0 169.7 L218.5 172.9 L220.0 176.0 L221.5 178.7 L223.0 178.7 L224.5 178.7 L226.0 178.7 L227.5 178.7 L229.0 178.7 L230.5 178.7 L232.0 178.7 L233.5 178.7 L235.0 178.7 L236.5 178.7 L238.0 178.7 L239.5 178.7 L241.0 178.7 L242.5 178.7 L244.0 178.7 L245.5 178.7 L247.0 178.7 L248.5 178.7 L250.0 178.7 L251.5 178.7 L253.0 178.7 L254.5 178.7 L256.0 178.7 L257.5 178.7 L259.0 178.7 L260.5 178.7 L262.0 178.7 L263.5 178.7 L265.0 178.7 L266.5 178.7 L268.0 178.7 L269.5 178.7 L271.0 178.7 L272.5 178.7 L274.0 178.7 L275.5 178.7 L277.0 178.7 L278.5 178.7 L280.0 178.7 L281.5 178.7 L283.0 178.7 L284.5 178.7 L286.0 178.7 L287.5 178.7 L289.0 178.7 L290.5 178.7 L292.0 178.7 L293.5 178.7 L295.0 178.7 L296.5 178.7 L298.0 178.7 L299.5 178.7 L301.0 178.7 L302.5 178.7 L304.0 178.7 L305.5 178.7 L307.0 178.7 L308.5 178.7 L310.0 178.7 L311.5 178.7 L313.0 178.7 L314.5 178.7 L316.0 178.7 L317.5 178.7 L319.0 178.7 L320.5 178.7 L322.0 178.7 L323.5 178.7 L325.0 178.7 L326.5 178.7 L328.0 178.7 L329.5 178.7 L331.0 178.7 L332.5 178.7 L334.0 178.7 L335.5 178.7 L337.0 178.7 L338.5 178.7 L340.0 178.7 L341.5 178.7 L343.0 178.7 L344.5 178.7 L346.0 178.7 L347.5 178.7 L349.0 178.7 L350.5 178.7 L352.0 178.7 L353.5 178.7 L355.0 178.7 L356.5 178.7 L358.0 178.7 L359.5 178.7 L361.0 178.7 L362.5 178.7 L364.0 178.7 L365.5 178.7 L367.0 178.7 L368.5 178.7 L370.0 178.7 L371.5 178.7 L373.0 178.7 L374.5 178.7 L376.0 178.7 L377.5 178.7 L379.0 178.7 L380.5 178.7 L382.0 178.7 L383.5 178.7 L385.0 178.7 L386.5 178.7 L388.0 178.7 L389.5 178.7 L391.0 178.7 L392.5 178.7 L394.0 178.7 L395.5 178.7 L397.0 178.7 L398.5 178.7 L400.0 178.7 L401.5 178.7 L403.0 178.7 L404.5 178.7 L406.0 178.7 L407.5 178.7 L409.0 178.7 L410.5 178.7 L412.0 178.7 L413.5 178.7 L415.0 178.7 L416.5 178.4 L418.0 174.8 L419.5 171.0 L421.0 167.5 L422.5 164.5 L424.0 162.2 L425.5 160.5 L427.0 159.5 L428.5 159.2 L430.0 159.3 L431.5 159.7 L433.0 160.3 L434.5 161.0 L436.0 162.0 L437.5 163.2 L439.0 164.6 L440.5 166.2 L442.0 167.9 L443.5 169.7 L445.0 171.7 L446.5 173.8 L448.0 175.9 L449.5 177.9 L451.0 178.7 L452.5 178.7 L454.0 178.7 L455.5 178.7 L457.0 178.7 L458.5 178.7 L460.0 178.7 L461.5 178.7 L463.0 178.7 L464.5 178.7 L466.0 178.7 L467.5 178.7 L469.0 178.7 L470.5 178.7 L472.0 178.7 L473.5 178.7 L475.0 178.7 L476.5 178.7 L478.0 178.7 L479.5 178.7 L481.0 178.7 L482.5 178.7 L484.0 178.7 L485.5 178.7 L487.0 178.7 L488.5 178.7 L490.0 178.7 L491.5 178.7 L493.0 178.7 L494.5 178.7 L496.0 178.7 L497.5 178.7 L499.0 178.7 L500.5 178.7 L502.0 178.7 L503.5 178.7 L505.0 178.7 L506.5 178.7 L508.0 178.7 L509.5 178.7 L511.0 178.7 L512.5 178.7 L514.0 178.7 L515.5 178.7 L517.0 178.7 L518.5 178.7 L520.0 178.7 L521.5 178.7 L523.0 178.7 L524.5 178.7 L526.0 178.7 L527.5 178.7 L529.0 178.7 L530.5 178.7 L532.0 178.7 L533.5 178.7 L535.0 178.7 L536.5 178.7 L538.0 178.7 L539.5 178.7 L541.0 178.7 L542.5 178.7 L544.0 178.7 L545.5 178.7 L547.0 178.7 L548.5 178.7 L550.0 178.7 L551.5 178.7 L553.0 178.7 L554.5 178.7 L556.0 178.7 L557.5 178.7 L559.0 178.7 L560.5 178.7 L562.0 178.7 L563.5 178.7 L565.0 178.7 L566.5 178.7 L568.0 178.7 L569.5 178.7 L571.0 178.7 L572.5 178.7 L574.0 178.7 L575.5 178.7 L577.0 178.7 L578.5 178.7 L580.0 178.7 L581.5 178.7 L583.0 178.7 L584.5 178.7 L586.0 178.7 L587.5 178.7 L589.0 178.7 L590.5 178.7 L592.0 178.7 L593.5 178.7 L595.0 178.7 L596.5 178.7 L598.0 178.7 L599.5 177.3 L601.0 171.8 L602.5 165.8 L604.0 159.9 L605.5 154.4 L607.0 149.3 L608.5 144.7 L610.0 140.7 L611.5 137.4 L613.0 134.7 L614.5 132.6 L616.0 131.3 L617.5 130.7 L619.0 130.9 L620.5 131.7 L622.0 133.2 L623.5 135.5 L625.0 138.4 L626.5 142.0 L628.0 146.2 L629.5 150.9 L631.0 156.2 L632.5 161.9 L634.0 167.8 L635.5 173.7 L637.0 178.7 L638.5 178.7 L640.0 178.7 L641.5 178.7 L643.0 178.7 L644.5 178.7 L646.0 178.7 L647.5 178.7 L649.0 178.7 L650.5 178.7 L652.0 178.7 L653.5 178.7 L655.0 178.7 L656.5 178.7 L658.0 178.7 L659.5 178.7 L661.0 178.7 L662.5 178.7 L664.0 178.7 L665.5 178.7 L667.0 178.7 L668.5 178.7 L670.0 176.0 L671.5 170.9 L673.0 165.6 L674.5 160.3 L676.0 155.3 L677.5 150.6 L679.0 146.2 L680.5 142.3 L682.0 138.9 L683.5 135.9 L685.0 133.5 L686.5 131.6 L688.0 130.2 L689.5 129.4 L691.0 129.1 L692.5 129.4 L694.0 130.2 L695.5 131.6 L697.0 133.5 L698.5 135.9 L700.0 138.9 L701.5 142.3 L703.0 146.2 L704.5 150.6 L706.0 155.3 L707.5 160.3 L709.0 165.6 L710.5 170.9 L712.0 176.0 L713.5 178.7 L715.0 178.7 L716.5 178.7 L718.0 178.7 L719.5 178.7 L721.0 178.7 L722.5 178.7 L724.0 178.7 L725.5 178.7 L727.0 178.7 L728.5 178.7 L730.0 178.7 L731.5 178.7 L733.0 178.7 L734.5 178.7 L736.0 178.7 L737.5 178.7 L739.0 178.7 L740.5 178.7 L742.0 178.7 L743.5 178.7 L745.0 178.7 L746.5 178.7 L748.0 178.7 L749.5 178.7 L751.0 178.7 L752.5 178.7 L754.0 178.7 L755.5 178.7 L757.0 178.7 L758.5 178.7 L760.0 178.7 L761.5 178.7 L763.0 178.7 L764.5 178.7 L766.0 178.7 L767.5 178.7 L769.0 178.7 L770.5 178.7 L772.0 178.7 L773.5 178.7 L775.0 178.7 L776.5 178.7 L778.0 178.7 L779.5 178.7 L781.0 178.7 L782.5 178.7 L784.0 178.7 L785.5 178.7 L787.0 178.7 L788.5 178.7 L790.0 178.7 L791.5 178.7 L793.0 178.7 L794.5 178.7 L796.0 178.7 L797.5 178.7 L799.0 178.7 L800.5 178.7 L802.0 178.7 L803.5 178.7 L805.0 178.7 L806.5 178.7 L808.0 178.7 L809.5 178.7 L811.0 178.7 L812.5 178.7 L814.0 178.7 L815.5 178.7 L817.0 178.7 L818.5 178.7 L820.0 178.7 L821.5 178.7 L823.0 178.7 L824.5 178.7 L826.0 178.7 L827.5 178.7 L829.0 178.7 L830.5 178.7 L832.0 178.7 L833.5 178.7" fill="none" stroke="#e83a3a" stroke-width="1.2" stroke-opacity="0.9" stroke-linejoin="round"/>
<line x1="190.0" y1="178.7" x2="834.0" y2="178.7" stroke="#1f5ca6" stroke-width="2"/>
<path d="M852.7 237.8 C852.8 238.7 853.3 241.4 853.6 243.0 C853.9 244.5 853.9 246.6 854.4 247.0 C854.9 247.4 856.0 245.6 856.4 245.3" fill="none" stroke="#a8a8a8" stroke-width="2.2" stroke-linecap="round" stroke-linejoin="round"/><path d="M852.7 237.8 C852.8 238.7 853.3 241.4 853.6 243.0 C853.9 244.5 853.9 246.6 854.4 247.0 C854.9 247.4 856.0 245.6 856.4 245.3" fill="none" stroke="#f0f0f0" stroke-width="0.8" stroke-linecap="round" stroke-linejoin="round"/>
<path d="M843.5 252.2 C843.7 253.0 843.8 255.4 845.2 256.8 C846.5 258.2 849.3 260.1 851.5 260.5 C853.7 260.9 856.4 260.3 858.4 259.3 C860.4 258.4 861.7 255.7 863.6 254.7 C865.6 253.8 869.1 253.8 870.2 253.6" fill="none" stroke="#a8a8a8" stroke-width="2.2" stroke-linecap="round" stroke-linejoin="round"/><path d="M843.5 252.2 C843.7 253.0 843.8 255.4 845.2 256.8 C846.5 258.2 849.3 260.1 851.5 260.5 C853.7 260.9 856.4 260.3 858.4 259.3 C860.4 258.4 861.7 255.7 863.6 254.7 C865.6 253.8 869.1 253.8 870.2 253.6" fill="none" stroke="#f0f0f0" stroke-width="0.8" stroke-linecap="round" stroke-linejoin="round"/>
<path d="M864.8 274.1 C863.3 275.1 858.7 277.6 856.1 280.1 C853.6 282.6 851.2 285.8 849.4 289.1 C847.7 292.3 846.0 296.2 845.8 299.4 C845.5 302.7 846.7 306.5 848.1 308.6 C849.4 310.8 851.9 312.3 853.8 312.3 C855.8 312.3 858.8 309.3 859.8 308.6" fill="none" stroke="#a8a8a8" stroke-width="2.2" stroke-linecap="round" stroke-linejoin="round"/><path d="M864.8 274.1 C863.3 275.1 858.7 277.6 856.1 280.1 C853.6 282.6 851.2 285.8 849.4 289.1 C847.7 292.3 846.0 296.2 845.8 299.4 C845.5 302.7 846.7 306.5 848.1 308.6 C849.4 310.8 851.9 312.3 853.8 312.3 C855.8 312.3 858.8 309.3 859.8 308.6" fill="none" stroke="#f0f0f0" stroke-width="0.8" stroke-linecap="round" stroke-linejoin="round"/>
<path d="M865.6 292.7 C866.3 292.0 869.4 288.9 870.2 288.1" fill="none" stroke="#a8a8a8" stroke-width="2.2" stroke-linecap="round" stroke-linejoin="round"/><path d="M865.6 292.7 C866.3 292.0 869.4 288.9 870.2 288.1" fill="none" stroke="#f0f0f0" stroke-width="0.8" stroke-linecap="round" stroke-linejoin="round"/>
<path d="M897.6 246.4 C897.8 248.0 898.3 253.0 898.8 255.6 C899.2 258.3 899.9 261.4 900.1 262.6" fill="none" stroke="#a8a8a8" stroke-width="2.2" stroke-linecap="round" stroke-linejoin="round"/><path d="M897.6 246.4 C897.8 248.0 898.3 253.0 898.8 255.6 C899.2 258.3 899.9 261.4 900.1 262.6" fill="none" stroke="#f0f0f0" stroke-width="0.8" stroke-linecap="round" stroke-linejoin="round"/>
<path d="M860.7 237.2 C861.1 238.0 862.1 240.5 863.0 241.8 C864.0 243.2 865.9 244.7 866.5 245.3" fill="none" stroke="#a8a8a8" stroke-width="2.2" stroke-linecap="round" stroke-linejoin="round"/><path d="M860.7 237.2 C861.1 238.0 862.1 240.5 863.0 241.8 C864.0 243.2 865.9 244.7 866.5 245.3" fill="none" stroke="#f0f0f0" stroke-width="0.8" stroke-linecap="round" stroke-linejoin="round"/>
<polygon points="863.0,231.5 876.9,232.6 879.7,236.3 870.2,236.3 867.4,240.9 864.8,237.4" fill="#ecb400"/>
<polygon points="867.6,245.9 878.0,245.3 894.1,244.4 904.5,242.7 915.0,245.3 915.0,249.9 904.5,249.9 895.3,251.3 886.1,252.4 870.2,253.1" fill="#ecb400"/>
<polygon points="878.0,258.2 889.5,254.7 899.9,252.4 915.0,251.3 915.0,257.0 904.5,261.6 893.0,262.8 881.5,262.8 878.9,261.6" fill="#ecb400"/>
<polygon points="864.8,265.1 873.6,265.1 881.7,274.3 889.8,283.5 895.5,288.1 894.4,290.4 888.4,288.1 879.2,282.4 870.2,276.6 867.9,274.3" fill="#dca600"/>
<polygon points="880.3,259.3 888.4,263.9 899.9,276.6 915.0,287.9 915.0,299.7 908.0,297.4 897.6,288.1 888.4,278.9 881.5,269.7" fill="#b88e00"/>
<polygon points="895.3,263.9 904.5,263.9 907.1,272.0 901.1,276.6 895.3,272.0" fill="#ecb400"/>
<polygon points="870.2,283.5 877.1,282.4 879.4,288.1 872.5,290.4 866.7,292.7" fill="#ecb400"/>
<polygon points="881.5,276.4 888.4,274.1 894.1,281.0 889.5,283.3" fill="#ecb400"/>
<path d="M969.6 246.4 C971.1 247.2 977.2 248.7 978.8 251.1 C980.4 253.4 979.9 257.9 979.0 260.3 C978.1 262.6 975.2 264.3 973.2 265.1 C971.3 265.9 968.4 265.1 967.5 265.1" fill="none" stroke="#a8a8a8" stroke-width="2.2" stroke-linecap="round" stroke-linejoin="round"/><path d="M969.6 246.4 C971.1 247.2 977.2 248.7 978.8 251.1 C980.4 253.4 979.9 257.9 979.0 260.3 C978.1 262.6 975.2 264.3 973.2 265.1 C971.3 265.9 968.4 265.1 967.5 265.1" fill="none" stroke="#f0f0f0" stroke-width="0.8" stroke-linecap="round" stroke-linejoin="round"/>
<path d="M920.0 284.7 C920.8 283.6 922.7 278.8 924.8 277.8 C927.0 276.8 930.8 278.2 932.9 279.0 C935.0 279.7 936.7 281.8 937.5 282.4" fill="none" stroke="#a8a8a8" stroke-width="2.2" stroke-linecap="round" stroke-linejoin="round"/><path d="M920.0 284.7 C920.8 283.6 922.7 278.8 924.8 277.8 C927.0 276.8 930.8 278.2 932.9 279.0 C935.0 279.7 936.7 281.8 937.5 282.4" fill="none" stroke="#f0f0f0" stroke-width="0.8" stroke-linecap="round" stroke-linejoin="round"/>
<path d="M948.8 282.4 C950.1 282.4 954.6 282.8 956.9 282.4 C959.2 282.0 960.7 280.1 962.6 280.1 C964.6 280.1 968.2 281.6 968.6 282.4 C969.1 283.2 966.7 284.7 965.2 284.7 C963.6 284.7 960.2 282.8 959.2 282.4" fill="none" stroke="#a8a8a8" stroke-width="2.2" stroke-linecap="round" stroke-linejoin="round"/><path d="M948.8 282.4 C950.1 282.4 954.6 282.8 956.9 282.4 C959.2 282.0 960.7 280.1 962.6 280.1 C964.6 280.1 968.2 281.6 968.6 282.4 C969.1 283.2 966.7 284.7 965.2 284.7 C963.6 284.7 960.2 282.8 959.2 282.4" fill="none" stroke="#f0f0f0" stroke-width="0.8" stroke-linecap="round" stroke-linejoin="round"/>
<path d="M928.1 293.9 C929.0 294.9 931.1 298.9 933.8 299.7 C936.5 300.5 941.5 298.9 944.2 298.5 C946.9 298.2 949.8 299.1 950.2 297.4 C950.6 295.7 947.3 289.7 946.7 288.2" fill="none" stroke="#a8a8a8" stroke-width="2.2" stroke-linecap="round" stroke-linejoin="round"/><path d="M928.1 293.9 C929.0 294.9 931.1 298.9 933.8 299.7 C936.5 300.5 941.5 298.9 944.2 298.5 C946.9 298.2 949.8 299.1 950.2 297.4 C950.6 295.7 947.3 289.7 946.7 288.2" fill="none" stroke="#f0f0f0" stroke-width="0.8" stroke-linecap="round" stroke-linejoin="round"/>
<path d="M925.7 307.8 C926.4 308.7 929.2 312.2 929.4 313.5 C929.7 314.9 927.5 315.5 927.1 315.8" fill="none" stroke="#a8a8a8" stroke-width="2.2" stroke-linecap="round" stroke-linejoin="round"/><path d="M925.7 307.8 C926.4 308.7 929.2 312.2 929.4 313.5 C929.7 314.9 927.5 315.5 927.1 315.8" fill="none" stroke="#f0f0f0" stroke-width="0.8" stroke-linecap="round" stroke-linejoin="round"/>
<path d="M926.9 244.1 C927.5 244.3 929.2 244.7 930.4 245.3 C931.5 245.9 933.2 247.2 933.8 247.6" fill="none" stroke="#a8a8a8" stroke-width="2.2" stroke-linecap="round" stroke-linejoin="round"/><path d="M926.9 244.1 C927.5 244.3 929.2 244.7 930.4 245.3 C931.5 245.9 933.2 247.2 933.8 247.6" fill="none" stroke="#f0f0f0" stroke-width="0.8" stroke-linecap="round" stroke-linejoin="round"/>
<polygon points="905.0,244.1 928.1,246.4 931.7,251.1 920.0,250.1 905.0,249.0" fill="#dca600"/>
<polygon points="948.8,246.2 967.2,245.1 969.8,246.4 951.1,248.5" fill="#b88e00"/>
<polygon points="943.0,250.8 955.7,250.8 959.2,255.7 954.8,264.0 944.2,260.5 940.7,254.5" fill="#ecb400"/>
<polygon points="958.0,260.3 970.7,260.3 962.6,267.4" fill="#ecb400"/>
<polygon points="911.9,247.6 918.8,248.2 929.2,256.2 938.4,264.9 941.9,276.4 947.7,284.5 943.0,285.6 937.3,278.7 933.8,269.5 926.9,260.3 917.7,253.4" fill="#b88e00"/>
<polygon points="923.4,250.5 930.4,251.6 939.6,258.0 947.7,266.0 953.4,274.1 958.0,280.1 953.4,280.4 946.5,274.1 939.6,266.0 931.5,258.2" fill="#b88e00"/>
<polygon points="933.8,283.3 945.3,282.2 946.7,287.0 936.1,288.2" fill="#b88e00"/>
<polygon points="905.0,262.6 908.5,262.6 909.8,274.1 912.1,283.3 919.1,290.2 926.0,293.9 922.5,297.4 924.8,304.3 923.7,308.9 916.5,303.2 909.6,297.4 905.0,293.9" fill="#ecb400"/>
<polygon points="905.0,251.1 917.7,254.5 909.6,259.4 905.0,260.5" fill="#ecb400"/>
<ellipse cx="943.6" cy="246.4" rx="5.2" ry="3" fill="#ecb400"/>
<path d="M865.9 238.9 C866.6 238.3 868.2 235.7 870.2 235.1 C872.2 234.6 875.8 234.9 878.0 235.8 C880.2 236.8 883.1 239.3 883.5 240.9 C884.0 242.5 882.1 244.4 880.6 245.3 C879.1 246.2 876.5 246.6 874.6 246.4 C872.6 246.2 870.3 245.1 868.8 244.1 C867.3 243.2 866.1 241.8 865.6 240.9 C865.1 240.0 865.9 239.3 865.9 238.9" fill="none" stroke="#86107e" stroke-width="3.2" stroke-linecap="round" stroke-linejoin="round"/>
<path d="M866.8 366.1 C865.4 367.6 860.0 372.0 858.5 374.9 C857.1 377.8 858.9 381.0 858.1 383.6 C857.3 386.2 854.1 388.0 853.7 390.5 C853.4 393.1 856.6 396.4 855.9 398.8 C855.2 401.3 850.1 402.5 849.4 405.4 C848.6 408.3 850.1 413.6 851.5 416.3 C853.0 418.9 855.2 421.0 858.1 421.0 C861.0 421.1 867.1 417.4 869.0 416.7" fill="none" stroke="#a8a8a8" stroke-width="2.2" stroke-linecap="round" stroke-linejoin="round"/><path d="M866.8 366.1 C865.4 367.6 860.0 372.0 858.5 374.9 C857.1 377.8 858.9 381.0 858.1 383.6 C857.3 386.2 854.1 388.0 853.7 390.5 C853.4 393.1 856.6 396.4 855.9 398.8 C855.2 401.3 850.1 402.5 849.4 405.4 C848.6 408.3 850.1 413.6 851.5 416.3 C853.0 418.9 855.2 421.0 858.1 421.0 C861.0 421.1 867.1 417.4 869.0 416.7" fill="none" stroke="#f0f0f0" stroke-width="0.8" stroke-linecap="round" stroke-linejoin="round"/>
<path d="M851.5 431.5 C850.9 432.7 847.6 435.6 847.6 438.5 C847.6 441.4 849.8 446.8 851.5 448.9 C853.3 451.1 855.9 451.5 858.1 451.5 C860.3 451.5 862.1 450.4 864.6 448.9 C867.1 447.5 870.1 443.8 873.3 442.8 C876.6 441.8 882.4 442.8 884.2 442.8" fill="none" stroke="#a8a8a8" stroke-width="2.2" stroke-linecap="round" stroke-linejoin="round"/><path d="M851.5 431.5 C850.9 432.7 847.6 435.6 847.6 438.5 C847.6 441.4 849.8 446.8 851.5 448.9 C853.3 451.1 855.9 451.5 858.1 451.5 C860.3 451.5 862.1 450.4 864.6 448.9 C867.1 447.5 870.1 443.8 873.3 442.8 C876.6 441.8 882.4 442.8 884.2 442.8" fill="none" stroke="#f0f0f0" stroke-width="0.8" stroke-linecap="round" stroke-linejoin="round"/>
<path d="M853.7 462.0 C853.0 463.8 849.4 469.9 849.4 472.9 C849.4 475.9 852.2 479.8 853.7 479.9 C855.2 479.9 857.7 474.4 858.5 473.3" fill="none" stroke="#a8a8a8" stroke-width="2.2" stroke-linecap="round" stroke-linejoin="round"/><path d="M853.7 462.0 C853.0 463.8 849.4 469.9 849.4 472.9 C849.4 475.9 852.2 479.8 853.7 479.9 C855.2 479.9 857.7 474.4 858.5 473.3" fill="none" stroke="#f0f0f0" stroke-width="0.8" stroke-linecap="round" stroke-linejoin="round"/>
<path d="M866.8 471.2 C868.6 470.1 874.7 466.1 877.7 464.6 C880.7 463.2 883.5 462.8 884.7 462.4" fill="none" stroke="#a8a8a8" stroke-width="2.2" stroke-linecap="round" stroke-linejoin="round"/><path d="M866.8 471.2 C868.6 470.1 874.7 466.1 877.7 464.6 C880.7 463.2 883.5 462.8 884.7 462.4" fill="none" stroke="#f0f0f0" stroke-width="0.8" stroke-linecap="round" stroke-linejoin="round"/>
<path d="M877.7 488.6 C877.8 490.0 878.0 495.8 878.1 497.3" fill="none" stroke="#a8a8a8" stroke-width="2.2" stroke-linecap="round" stroke-linejoin="round"/><path d="M877.7 488.6 C877.8 490.0 878.0 495.8 878.1 497.3" fill="none" stroke="#f0f0f0" stroke-width="0.8" stroke-linecap="round" stroke-linejoin="round"/>
<path d="M884.2 368.8 C886.0 368.7 891.8 368.0 895.1 368.3 C898.4 368.7 901.9 369.4 903.8 370.9 C905.7 372.5 907.8 376.0 906.4 377.5 C905.1 378.9 898.5 378.9 895.5 379.7 C892.6 380.4 889.7 381.5 888.6 381.8" fill="none" stroke="#a8a8a8" stroke-width="2.2" stroke-linecap="round" stroke-linejoin="round"/><path d="M884.2 368.8 C886.0 368.7 891.8 368.0 895.1 368.3 C898.4 368.7 901.9 369.4 903.8 370.9 C905.7 372.5 907.8 376.0 906.4 377.5 C905.1 378.9 898.5 378.9 895.5 379.7 C892.6 380.4 889.7 381.5 888.6 381.8" fill="none" stroke="#f0f0f0" stroke-width="0.8" stroke-linecap="round" stroke-linejoin="round"/>
<path d="M908.2 394.9 C909.3 393.1 913.2 387.3 914.7 384.0 C916.2 380.7 915.8 378.2 917.3 375.3 C918.9 372.4 922.8 368.0 923.9 366.6" fill="none" stroke="#a8a8a8" stroke-width="2.2" stroke-linecap="round" stroke-linejoin="round"/><path d="M908.2 394.9 C909.3 393.1 913.2 387.3 914.7 384.0 C916.2 380.7 915.8 378.2 917.3 375.3 C918.9 372.4 922.8 368.0 923.9 366.6" fill="none" stroke="#f0f0f0" stroke-width="0.8" stroke-linecap="round" stroke-linejoin="round"/>
<path d="M897.3 490.3 C899.5 490.0 906.7 488.5 910.4 488.6 C914.1 488.7 918.0 490.4 919.5 490.8" fill="none" stroke="#a8a8a8" stroke-width="2.2" stroke-linecap="round" stroke-linejoin="round"/><path d="M897.3 490.3 C899.5 490.0 906.7 488.5 910.4 488.6 C914.1 488.7 918.0 490.4 919.5 490.8" fill="none" stroke="#f0f0f0" stroke-width="0.8" stroke-linecap="round" stroke-linejoin="round"/>
<polygon points="910.4,381.4 930.0,385.8 930.0,403.6 916.9,399.3 912.5,390.5" fill="#ecb400"/>
<polygon points="864.6,398.8 888.6,396.6 910.4,398.8 927.8,405.4 930.0,410.2 910.4,410.2 888.6,405.8 866.8,405.8" fill="#dca600"/>
<polygon points="866.8,423.2 877.7,412.3 895.1,408.0 906.0,412.3 897.3,416.7 882.0,418.9 873.3,427.6" fill="#dca600"/>
<polygon points="853.7,451.5 862.4,434.1 873.3,421.0 882.5,418.9 877.7,434.1 866.8,449.4 858.1,462.4 853.7,462.4" fill="#ecb400"/>
<polygon points="871.1,460.3 877.7,434.1 882.0,421.0 888.6,423.2 884.2,445.0 877.7,471.2 873.3,488.6 871.1,479.9" fill="#dca600"/>
<polygon points="886.4,427.6 893.4,425.4 897.7,445.0 897.7,471.2 895.5,488.6 890.8,490.8 888.6,471.2 888.6,449.4" fill="#ecb400"/>
<polygon points="877.7,440.7 903.8,434.1 930.0,436.3 930.0,451.5 906.0,449.4 879.9,447.2" fill="#b88e00"/>
<polygon points="882.0,458.1 908.2,451.5 930.0,449.4 930.0,458.1 910.4,462.4 886.4,466.8" fill="#b88e00"/>
<polygon points="884.2,475.5 908.2,466.8 921.3,462.4 916.9,471.2 897.3,477.7 886.4,479.9" fill="#dca600"/>
<polygon points="888.6,479.9 901.6,477.7 899.5,490.8 890.8,490.8" fill="#ecb400"/>
<polygon points="906.0,431.9 919.1,431.9 930.0,438.5 930.0,445.0 914.7,440.7 906.0,436.3" fill="#dca600"/>
<polygon points="871.1,381.8 879.9,373.1 888.6,377.5 887.7,384.0 892.1,390.5 893.4,401.4 889.9,405.8 886.4,401.4 882.0,392.7 873.3,390.5" fill="#86107e"/>
<polygon points="895.1,423.2 899.5,412.3 906.0,405.8 910.4,412.3 910.4,421.0 906.0,429.8 901.6,433.0 896.2,429.8" fill="#86107e"/>
<polygon points="908.2,479.9 914.7,471.2 919.1,473.3 916.9,484.2 923.4,488.6 930.0,482.0 930.0,497.3 923.4,497.3 914.7,490.8 910.4,486.4" fill="#86107e"/>
<circle cx="857.0" cy="402.1" r="1.6" fill="#22cc22"/>
<path d="M957.0 357.4 C958.8 357.0 964.9 355.1 967.8 355.2 C970.8 355.3 971.9 356.3 974.8 357.8 C977.7 359.3 981.7 364.0 985.2 364.3 C988.8 364.7 992.5 360.4 996.1 360.0 C999.7 359.6 1004.8 360.4 1007.0 362.2 C1009.1 364.0 1009.9 368.3 1009.1 370.9 C1008.4 373.4 1005.5 376.7 1002.6 377.4 C999.7 378.1 993.9 374.1 991.7 375.2 C989.6 376.3 989.2 381.0 989.6 383.9 C989.9 386.8 992.1 389.7 993.9 392.6 C995.7 395.5 999.0 398.4 1000.4 401.3 C1001.9 404.2 1003.3 407.8 1002.6 410.0 C1001.9 412.2 999.0 413.3 996.1 414.3 C993.2 415.4 989.2 416.5 985.2 416.5 C981.2 416.5 975.8 413.6 972.2 414.3 C968.6 415.1 966.0 419.4 963.5 420.9 C960.9 422.3 958.4 424.1 957.0 423.0 C955.5 422.0 955.9 416.5 954.8 414.3 C953.7 412.2 951.2 410.7 950.4 410.0" fill="none" stroke="#a8a8a8" stroke-width="2.2" stroke-linecap="round" stroke-linejoin="round"/><path d="M957.0 357.4 C958.8 357.0 964.9 355.1 967.8 355.2 C970.8 355.3 971.9 356.3 974.8 357.8 C977.7 359.3 981.7 364.0 985.2 364.3 C988.8 364.7 992.5 360.4 996.1 360.0 C999.7 359.6 1004.8 360.4 1007.0 362.2 C1009.1 364.0 1009.9 368.3 1009.1 370.9 C1008.4 373.4 1005.5 376.7 1002.6 377.4 C999.7 378.1 993.9 374.1 991.7 375.2 C989.6 376.3 989.2 381.0 989.6 383.9 C989.9 386.8 992.1 389.7 993.9 392.6 C995.7 395.5 999.0 398.4 1000.4 401.3 C1001.9 404.2 1003.3 407.8 1002.6 410.0 C1001.9 412.2 999.0 413.3 996.1 414.3 C993.2 415.4 989.2 416.5 985.2 416.5 C981.2 416.5 975.8 413.6 972.2 414.3 C968.6 415.1 966.0 419.4 963.5 420.9 C960.9 422.3 958.4 424.1 957.0 423.0 C955.5 422.0 955.9 416.5 954.8 414.3 C953.7 412.2 951.2 410.7 950.4 410.0" fill="none" stroke="#f0f0f0" stroke-width="0.8" stroke-linecap="round" stroke-linejoin="round"/>
<path d="M965.7 394.8 C967.1 394.4 971.7 392.6 974.3 392.6 C977.0 392.6 980.9 393.3 981.3 394.8 C981.7 396.2 979.1 399.5 977.0 401.3 C974.8 403.1 970.5 406.0 968.3 405.7 C966.0 405.3 964.3 400.2 963.5 399.1" fill="none" stroke="#a8a8a8" stroke-width="2.2" stroke-linecap="round" stroke-linejoin="round"/><path d="M965.7 394.8 C967.1 394.4 971.7 392.6 974.3 392.6 C977.0 392.6 980.9 393.3 981.3 394.8 C981.7 396.2 979.1 399.5 977.0 401.3 C974.8 403.1 970.5 406.0 968.3 405.7 C966.0 405.3 964.3 400.2 963.5 399.1" fill="none" stroke="#f0f0f0" stroke-width="0.8" stroke-linecap="round" stroke-linejoin="round"/>
<path d="M993.9 431.7 C995.0 432.5 998.9 433.9 1000.4 436.1 C1002.0 438.3 1002.7 442.6 1003.0 444.8 C1003.4 447.0 1002.7 448.4 1002.6 449.1" fill="none" stroke="#a8a8a8" stroke-width="2.2" stroke-linecap="round" stroke-linejoin="round"/><path d="M993.9 431.7 C995.0 432.5 998.9 433.9 1000.4 436.1 C1002.0 438.3 1002.7 442.6 1003.0 444.8 C1003.4 447.0 1002.7 448.4 1002.6 449.1" fill="none" stroke="#f0f0f0" stroke-width="0.8" stroke-linecap="round" stroke-linejoin="round"/>
<path d="M933.0 475.2 C933.8 474.1 934.1 469.8 937.4 468.7 C940.7 467.6 948.6 469.4 952.6 468.7 C956.6 468.0 959.9 463.3 961.3 464.3 C962.8 465.4 962.4 472.0 961.3 475.2 C960.2 478.5 957.0 481.7 954.8 483.9 C952.6 486.1 950.4 486.8 948.3 488.3 C946.1 489.7 942.8 491.9 941.7 492.6" fill="none" stroke="#a8a8a8" stroke-width="2.2" stroke-linecap="round" stroke-linejoin="round"/><path d="M933.0 475.2 C933.8 474.1 934.1 469.8 937.4 468.7 C940.7 467.6 948.6 469.4 952.6 468.7 C956.6 468.0 959.9 463.3 961.3 464.3 C962.8 465.4 962.4 472.0 961.3 475.2 C960.2 478.5 957.0 481.7 954.8 483.9 C952.6 486.1 950.4 486.8 948.3 488.3 C946.1 489.7 942.8 491.9 941.7 492.6" fill="none" stroke="#f0f0f0" stroke-width="0.8" stroke-linecap="round" stroke-linejoin="round"/>
<path d="M920.0 470.4 C921.4 470.4 926.5 469.6 928.7 470.4 C930.9 471.2 932.3 474.4 933.0 475.2" fill="none" stroke="#a8a8a8" stroke-width="2.2" stroke-linecap="round" stroke-linejoin="round"/><path d="M920.0 470.4 C921.4 470.4 926.5 469.6 928.7 470.4 C930.9 471.2 932.3 474.4 933.0 475.2" fill="none" stroke="#f0f0f0" stroke-width="0.8" stroke-linecap="round" stroke-linejoin="round"/>
<polygon points="933.0,370.9 943.9,364.3 946.1,375.2 937.4,383.9 933.0,388.3" fill="#ecb400"/>
<polygon points="920.0,383.5 933.0,383.5 943.9,397.0 939.6,405.7 920.0,403.5" fill="#dca600"/>
<polygon points="933.0,397.0 957.0,381.7 963.5,386.1 939.6,403.5" fill="#ecb400"/>
<polygon points="935.2,401.3 963.5,390.4 965.7,394.8 939.6,405.7" fill="#ecb400"/>
<polygon points="933.0,405.7 961.3,399.1 961.3,403.5 933.0,410.0" fill="#ecb400"/>
<polygon points="967.8,364.3 976.5,362.2 978.7,370.9 974.3,379.6 970.0,377.4" fill="#ecb400"/>
<polygon points="974.3,379.6 991.7,377.4 985.2,383.9 976.5,388.3" fill="#ecb400"/>
<polygon points="920.0,410.0 941.7,405.7 963.5,410.0 970.0,416.5 952.6,414.3 920.0,414.3" fill="#b88e00"/>
<polygon points="926.5,436.1 935.2,416.5 939.6,418.7 937.4,438.3" fill="#ecb400"/>
<polygon points="937.4,436.1 952.6,414.3 959.1,416.5 946.1,440.4" fill="#ecb400"/>
<polygon points="948.3,438.3 974.3,414.3 980.9,416.5 954.8,442.6" fill="#ecb400"/>
<polygon points="959.1,438.3 987.4,429.6 991.7,436.1 963.5,442.6" fill="#ecb400"/>
<polygon points="963.5,442.6 987.4,438.3 996.1,449.1 983.0,444.8" fill="#ecb400"/>
<polygon points="920.0,433.9 928.7,438.3 941.7,444.8 920.0,447.0" fill="#dca600"/>
<polygon points="920.0,444.8 963.5,442.6 985.2,442.6 1002.6,447.0 991.7,453.5 967.8,449.1 941.7,451.3 920.0,453.5" fill="#b88e00"/>
<polygon points="920.0,453.5 926.5,453.5 924.3,462.2 920.0,462.2" fill="#b88e00"/>
<polygon points="941.7,370.9 952.6,360.0 957.0,357.8 959.1,366.5 965.7,368.7 972.2,377.4 974.3,386.1 970.0,394.8 965.7,388.3 959.1,379.6 950.4,379.6 943.9,377.4" fill="#86107e"/>
<polygon points="924.3,481.7 930.9,480.4 937.4,483.9 943.9,492.6 946.1,503.5 937.4,505.7 926.5,501.3 920.0,497.0 920.0,488.3" fill="#86107e"/>
<ellipse cx="936.3" cy="494.8" rx="4.5" ry="2.2" fill="#fff" transform="rotate(20 936.3 494.8)"/>
<path d="M928.7 490.0 C930.0 490.4 934.1 490.9 936.3 492.2 C938.5 493.4 940.8 496.7 941.7 497.6" fill="none" stroke="#a8a8a8" stroke-width="2.0" stroke-linecap="round" stroke-linejoin="round"/><path d="M928.7 490.0 C930.0 490.4 934.1 490.9 936.3 492.2 C938.5 493.4 940.8 496.7 941.7 497.6" fill="none" stroke="#f0f0f0" stroke-width="0.6000000000000001" stroke-linecap="round" stroke-linejoin="round"/>
<ellipse cx="957.4" cy="372.6" rx="3.2" ry="2" fill="#fff" transform="rotate(35 957.4 372.6)"/>
<circle cx="984.1" cy="394.8" r="1.7" fill="#22cc22"/>
<circle cx="945.7" cy="478.7" r="1.7" fill="#22cc22"/>
<line x1="914.4" y1="346.9" x2="918.0" y2="352.3" stroke="#858585" stroke-width="2.2"/>
<line x1="921.5" y1="348.0" x2="918.0" y2="352.3" stroke="#858585" stroke-width="2.2"/>
<line x1="918.0" y1="352.3" x2="920.7" y2="358.4" stroke="#858585" stroke-width="2.2"/>
<line x1="914.6" y1="356.9" x2="917.6" y2="363.0" stroke="#858585" stroke-width="2.2"/>
<line x1="920.7" y1="358.4" x2="926.1" y2="360.7" stroke="#858585" stroke-width="2.2"/>
<line x1="930.7" y1="352.3" x2="926.1" y2="360.7" stroke="#858585" stroke-width="2.2"/>
<line x1="926.1" y1="360.7" x2="929.9" y2="363.8" stroke="#858585" stroke-width="2.2"/>
<line x1="920.7" y1="358.4" x2="917.6" y2="363.0" stroke="#858585" stroke-width="2.2"/>
<line x1="917.6" y1="363.0" x2="914.6" y2="367.6" stroke="#858585" stroke-width="2.2"/>
<line x1="914.6" y1="367.6" x2="916.9" y2="373.0" stroke="#858585" stroke-width="2.2"/>
<line x1="914.6" y1="367.6" x2="921.9" y2="370.7" stroke="#858585" stroke-width="2.2"/>
<line x1="921.9" y1="370.7" x2="927.6" y2="369.2" stroke="#858585" stroke-width="2.2"/>
<line x1="927.6" y1="369.2" x2="926.1" y2="360.7" stroke="#858585" stroke-width="2.2"/>
<line x1="927.6" y1="369.2" x2="930.7" y2="372.2" stroke="#858585" stroke-width="2.2"/>
<line x1="923.8" y1="373.0" x2="922.6" y2="376.9" stroke="#858585" stroke-width="2.2"/>
<line x1="921.9" y1="370.7" x2="923.8" y2="373.0" stroke="#858585" stroke-width="2.2"/>
<circle cx="918.0" cy="352.3" r="1.8" fill="#7a7a7a"/>
<circle cx="920.7" cy="358.4" r="1.8" fill="#7a7a7a"/>
<circle cx="917.6" cy="363.0" r="1.8" fill="#7a7a7a"/>
<circle cx="914.6" cy="367.6" r="1.8" fill="#7a7a7a"/>
<circle cx="926.1" cy="360.7" r="1.8" fill="#7a7a7a"/>
<circle cx="927.6" cy="369.2" r="1.8" fill="#7a7a7a"/>
<circle cx="923.8" cy="373.0" r="1.8" fill="#7a7a7a"/>
<circle cx="914.4" cy="346.9" r="2.0" fill="#f00d0d"/>
<circle cx="921.5" cy="348.0" r="2.0" fill="#f00d0d"/>
<circle cx="930.7" cy="352.3" r="2.0" fill="#f00d0d"/>
<circle cx="914.6" cy="356.9" r="2.0" fill="#f00d0d"/>
<circle cx="929.9" cy="363.8" r="2.0" fill="#f00d0d"/>
<circle cx="916.9" cy="373.0" r="2.0" fill="#f00d0d"/>
<circle cx="921.9" cy="370.7" r="2.0" fill="#f00d0d"/>
<circle cx="930.7" cy="372.2" r="2.0" fill="#f00d0d"/>
<circle cx="922.6" cy="376.9" r="2.0" fill="#f00d0d"/>
<path d="M857.9 519.3 C859.3 517.9 862.2 512.5 865.9 511.0 C869.5 509.4 875.4 509.2 879.8 510.0 C884.2 510.7 890.1 514.4 892.1 515.3" fill="none" stroke="#a8a8a8" stroke-width="2.2" stroke-linecap="round" stroke-linejoin="round"/><path d="M857.9 519.3 C859.3 517.9 862.2 512.5 865.9 511.0 C869.5 509.4 875.4 509.2 879.8 510.0 C884.2 510.7 890.1 514.4 892.1 515.3" fill="none" stroke="#f0f0f0" stroke-width="0.8" stroke-linecap="round" stroke-linejoin="round"/>
<path d="M857.9 519.3 C858.6 520.6 859.6 525.3 861.9 527.2 C864.2 529.2 869.2 530.2 871.8 531.2 C874.5 532.2 876.8 532.9 877.8 533.2" fill="none" stroke="#a8a8a8" stroke-width="2.2" stroke-linecap="round" stroke-linejoin="round"/><path d="M857.9 519.3 C858.6 520.6 859.6 525.3 861.9 527.2 C864.2 529.2 869.2 530.2 871.8 531.2 C874.5 532.2 876.8 532.9 877.8 533.2" fill="none" stroke="#f0f0f0" stroke-width="0.8" stroke-linecap="round" stroke-linejoin="round"/>
<path d="M869.9 547.1 C868.2 547.0 862.6 545.7 859.9 546.7 C857.3 547.7 855.0 550.7 854.0 553.1 C853.0 555.4 852.6 559.0 854.0 561.0 C855.3 563.0 857.9 564.3 861.9 565.0 C865.9 565.6 873.2 564.6 877.8 565.0 C882.4 565.3 886.1 566.3 889.7 567.0 C893.4 567.6 898.0 568.6 899.7 569.0" fill="none" stroke="#a8a8a8" stroke-width="2.2" stroke-linecap="round" stroke-linejoin="round"/><path d="M869.9 547.1 C868.2 547.0 862.6 545.7 859.9 546.7 C857.3 547.7 855.0 550.7 854.0 553.1 C853.0 555.4 852.6 559.0 854.0 561.0 C855.3 563.0 857.9 564.3 861.9 565.0 C865.9 565.6 873.2 564.6 877.8 565.0 C882.4 565.3 886.1 566.3 889.7 567.0 C893.4 567.6 898.0 568.6 899.7 569.0" fill="none" stroke="#f0f0f0" stroke-width="0.8" stroke-linecap="round" stroke-linejoin="round"/>
<path d="M867.9 567.0 C866.2 567.6 860.3 569.0 857.9 570.9 C855.6 572.9 854.3 575.9 854.0 578.9 C853.6 581.9 854.3 586.2 856.0 588.8 C857.6 591.5 861.6 593.1 863.9 594.8 C866.2 596.4 868.9 598.1 869.9 598.7" fill="none" stroke="#a8a8a8" stroke-width="2.2" stroke-linecap="round" stroke-linejoin="round"/><path d="M867.9 567.0 C866.2 567.6 860.3 569.0 857.9 570.9 C855.6 572.9 854.3 575.9 854.0 578.9 C853.6 581.9 854.3 586.2 856.0 588.8 C857.6 591.5 861.6 593.1 863.9 594.8 C866.2 596.4 868.9 598.1 869.9 598.7" fill="none" stroke="#f0f0f0" stroke-width="0.8" stroke-linecap="round" stroke-linejoin="round"/>
<path d="M859.9 572.9 C860.3 574.2 860.3 578.9 861.9 580.9 C863.6 582.9 867.9 584.5 869.9 584.8 C871.8 585.2 873.5 584.8 873.8 582.9 C874.2 580.9 873.2 575.2 871.8 572.9 C870.5 570.6 866.9 569.6 865.9 569.0" fill="none" stroke="#a8a8a8" stroke-width="2.2" stroke-linecap="round" stroke-linejoin="round"/><path d="M859.9 572.9 C860.3 574.2 860.3 578.9 861.9 580.9 C863.6 582.9 867.9 584.5 869.9 584.8 C871.8 585.2 873.5 584.8 873.8 582.9 C874.2 580.9 873.2 575.2 871.8 572.9 C870.5 570.6 866.9 569.6 865.9 569.0" fill="none" stroke="#f0f0f0" stroke-width="0.8" stroke-linecap="round" stroke-linejoin="round"/>
<path d="M865.9 608.7 C868.2 610.0 877.5 615.3 879.8 616.6" fill="none" stroke="#a8a8a8" stroke-width="2.2" stroke-linecap="round" stroke-linejoin="round"/><path d="M865.9 608.7 C868.2 610.0 877.5 615.3 879.8 616.6" fill="none" stroke="#f0f0f0" stroke-width="0.8" stroke-linecap="round" stroke-linejoin="round"/>
<path d="M877.8 618.6 C877.8 620.3 876.5 625.9 877.8 628.5 C879.1 631.2 883.8 632.2 885.7 634.5 C887.7 636.8 887.4 640.5 889.7 642.4 C892.0 644.4 896.3 645.4 899.7 646.4 C903.0 647.4 905.9 648.1 909.6 648.4 C913.2 648.7 917.2 647.7 921.5 648.4 C925.8 649.1 933.1 651.7 935.4 652.4" fill="none" stroke="#a8a8a8" stroke-width="2.2" stroke-linecap="round" stroke-linejoin="round"/><path d="M877.8 618.6 C877.8 620.3 876.5 625.9 877.8 628.5 C879.1 631.2 883.8 632.2 885.7 634.5 C887.7 636.8 887.4 640.5 889.7 642.4 C892.0 644.4 896.3 645.4 899.7 646.4 C903.0 647.4 905.9 648.1 909.6 648.4 C913.2 648.7 917.2 647.7 921.5 648.4 C925.8 649.1 933.1 651.7 935.4 652.4" fill="none" stroke="#f0f0f0" stroke-width="0.8" stroke-linecap="round" stroke-linejoin="round"/>
<polygon points="890.7,523.9 897.7,513.9 900.6,518.9 903.6,534.8 907.6,560.6 903.6,559.0 899.7,542.7 893.7,530.8" fill="#ecb400"/>
<polygon points="875.8,533.2 889.7,535.2 899.7,541.1 909.6,563.0 905.6,565.0 897.7,553.1 885.7,551.1 881.8,545.1" fill="#b88e00"/>
<polygon points="873.8,543.1 881.8,541.1 889.7,545.1 897.7,553.1 889.7,554.1 883.8,551.1" fill="#ecb400"/>
<polygon points="897.7,569.0 909.6,563.0 915.5,561.0 935.4,565.0 935.4,570.9 915.5,569.0 909.6,569.0" fill="#ecb400"/>
<polygon points="907.6,576.9 913.6,572.9 919.5,580.9 925.5,588.8 935.4,592.8 935.4,604.7 925.5,602.7 915.5,598.7 909.6,590.8 907.6,584.8" fill="#dca600"/>
<polygon points="915.5,572.9 925.5,574.9 935.4,578.9 935.4,584.8 925.5,582.9 917.5,578.9" fill="#ecb400"/>
<polygon points="859.9,602.7 868.9,593.8 877.8,600.7 885.7,608.7 889.7,612.6 879.8,612.6 869.9,606.7" fill="#ecb400"/>
<polygon points="875.8,578.9 878.2,576.9 884.2,604.7 880.2,604.7" fill="#dca600"/>
<polygon points="892.7,604.7 901.6,601.7 915.5,602.7 935.4,606.7 935.4,612.6 915.5,610.7 901.6,610.7 893.7,612.6" fill="#ecb400"/>
<polygon points="877.8,616.6 889.7,612.6 894.1,618.6 892.1,624.6 883.8,622.6" fill="#b88e00"/>
<polygon points="893.7,618.6 905.6,616.6 917.5,617.6 935.4,613.6 935.4,618.6 915.5,622.6 905.6,626.5 895.7,624.6" fill="#ecb400"/>
<path d="M955.8 531.2 C957.2 530.2 961.5 526.3 963.8 525.3 C966.1 524.3 968.3 524.3 969.7 525.3 C971.1 526.3 972.1 528.6 972.1 531.2 C972.1 533.9 971.1 539.2 969.7 541.2 C968.3 543.1 965.8 542.8 963.8 543.1 C961.8 543.5 959.1 542.5 957.8 543.1 C956.5 543.8 956.2 546.5 955.8 547.1" fill="none" stroke="#a8a8a8" stroke-width="2.2" stroke-linecap="round" stroke-linejoin="round"/><path d="M955.8 531.2 C957.2 530.2 961.5 526.3 963.8 525.3 C966.1 524.3 968.3 524.3 969.7 525.3 C971.1 526.3 972.1 528.6 972.1 531.2 C972.1 533.9 971.1 539.2 969.7 541.2 C968.3 543.1 965.8 542.8 963.8 543.1 C961.8 543.5 959.1 542.5 957.8 543.1 C956.5 543.8 956.2 546.5 955.8 547.1" fill="none" stroke="#f0f0f0" stroke-width="0.8" stroke-linecap="round" stroke-linejoin="round"/>
<path d="M973.7 543.1 C974.4 541.5 976.0 535.5 977.7 533.2 C979.3 530.9 981.7 529.6 983.6 529.2 C985.6 528.9 988.9 529.2 989.6 531.2 C990.3 533.2 989.3 539.2 988.0 541.2 C986.8 543.1 984.0 543.5 982.1 543.1 C980.1 542.8 977.1 539.8 976.1 539.2" fill="none" stroke="#a8a8a8" stroke-width="2.2" stroke-linecap="round" stroke-linejoin="round"/><path d="M973.7 543.1 C974.4 541.5 976.0 535.5 977.7 533.2 C979.3 530.9 981.7 529.6 983.6 529.2 C985.6 528.9 988.9 529.2 989.6 531.2 C990.3 533.2 989.3 539.2 988.0 541.2 C986.8 543.1 984.0 543.5 982.1 543.1 C980.1 542.8 977.1 539.8 976.1 539.2" fill="none" stroke="#f0f0f0" stroke-width="0.8" stroke-linecap="round" stroke-linejoin="round"/>
<path d="M961.8 565.0 C964.1 564.0 971.1 560.4 975.7 559.0 C980.3 557.7 986.2 556.4 989.6 557.1 C993.0 557.7 994.9 560.7 996.0 563.0 C997.0 565.3 997.0 568.6 996.0 571.0 C994.9 573.3 990.7 575.9 989.6 576.9" fill="none" stroke="#a8a8a8" stroke-width="2.2" stroke-linecap="round" stroke-linejoin="round"/><path d="M961.8 565.0 C964.1 564.0 971.1 560.4 975.7 559.0 C980.3 557.7 986.2 556.4 989.6 557.1 C993.0 557.7 994.9 560.7 996.0 563.0 C997.0 565.3 997.0 568.6 996.0 571.0 C994.9 573.3 990.7 575.9 989.6 576.9" fill="none" stroke="#f0f0f0" stroke-width="0.8" stroke-linecap="round" stroke-linejoin="round"/>
<path d="M989.6 592.8 C991.3 593.8 996.2 597.8 999.5 598.8 C1002.9 599.8 1006.8 599.8 1009.5 598.8 C1012.2 597.8 1014.5 596.1 1015.8 592.8 C1017.2 589.5 1017.8 581.6 1017.4 578.9 C1017.1 576.3 1014.8 575.3 1013.8 576.9 C1012.9 578.6 1012.2 586.9 1011.9 588.8" fill="none" stroke="#a8a8a8" stroke-width="2.2" stroke-linecap="round" stroke-linejoin="round"/><path d="M989.6 592.8 C991.3 593.8 996.2 597.8 999.5 598.8 C1002.9 599.8 1006.8 599.8 1009.5 598.8 C1012.2 597.8 1014.5 596.1 1015.8 592.8 C1017.2 589.5 1017.8 581.6 1017.4 578.9 C1017.1 576.3 1014.8 575.3 1013.8 576.9 C1012.9 578.6 1012.2 586.9 1011.9 588.8" fill="none" stroke="#f0f0f0" stroke-width="0.8" stroke-linecap="round" stroke-linejoin="round"/>
<path d="M989.6 600.8 C991.3 601.1 998.2 601.1 999.5 602.8 C1000.9 604.4 998.2 609.4 998.0 610.7" fill="none" stroke="#a8a8a8" stroke-width="2.2" stroke-linecap="round" stroke-linejoin="round"/><path d="M989.6 600.8 C991.3 601.1 998.2 601.1 999.5 602.8 C1000.9 604.4 998.2 609.4 998.0 610.7" fill="none" stroke="#f0f0f0" stroke-width="0.8" stroke-linecap="round" stroke-linejoin="round"/>
<path d="M995.6 614.7 C997.2 614.3 1004.1 611.7 1005.5 612.7 C1006.9 613.7 1005.9 618.6 1003.9 620.6 C1001.9 622.6 997.6 623.3 993.6 624.6 C989.5 625.9 983.6 628.6 979.7 628.6 C975.7 628.6 972.3 623.9 969.7 624.6 C967.2 625.3 965.5 630.9 964.2 632.6 C962.8 634.2 962.2 634.2 961.8 634.5" fill="none" stroke="#a8a8a8" stroke-width="2.2" stroke-linecap="round" stroke-linejoin="round"/><path d="M995.6 614.7 C997.2 614.3 1004.1 611.7 1005.5 612.7 C1006.9 613.7 1005.9 618.6 1003.9 620.6 C1001.9 622.6 997.6 623.3 993.6 624.6 C989.5 625.9 983.6 628.6 979.7 628.6 C975.7 628.6 972.3 623.9 969.7 624.6 C967.2 625.3 965.5 630.9 964.2 632.6 C962.8 634.2 962.2 634.2 961.8 634.5" fill="none" stroke="#f0f0f0" stroke-width="0.8" stroke-linecap="round" stroke-linejoin="round"/>
<path d="M930.4 652.4 C931.0 651.8 933.4 649.1 934.0 648.5" fill="none" stroke="#a8a8a8" stroke-width="2.2" stroke-linecap="round" stroke-linejoin="round"/><path d="M930.4 652.4 C931.0 651.8 933.4 649.1 934.0 648.5" fill="none" stroke="#f0f0f0" stroke-width="0.8" stroke-linecap="round" stroke-linejoin="round"/>
<polygon points="945.9,541.2 955.8,531.2 955.8,545.1 951.9,553.1 947.9,557.1 943.9,551.1" fill="#ecb400"/>
<polygon points="930.0,563.0 941.9,559.0 955.8,553.1 961.8,559.0 949.9,565.0 930.0,567.0" fill="#ecb400"/>
<polygon points="930.0,569.0 949.9,565.0 961.8,563.0 957.8,574.9 945.9,573.0 930.0,573.0" fill="#ecb400"/>
<polygon points="965.8,543.1 971.7,543.1 975.7,551.1 971.7,563.0 969.7,576.9 965.8,565.0" fill="#ecb400"/>
<polygon points="971.7,571.0 981.7,555.1 989.6,545.1 987.6,557.1 979.7,571.0 977.7,580.9 973.7,580.9" fill="#ecb400"/>
<polygon points="930.0,576.9 949.9,580.9 969.7,582.9 983.6,576.9 995.6,588.8 989.6,596.8 969.7,596.8 949.9,592.8 930.0,588.8" fill="#ecb400"/>
<polygon points="930.0,592.8 949.9,598.8 969.7,600.8 985.6,604.7 995.6,614.7 979.7,616.7 969.7,612.7 949.9,610.7 930.0,606.7" fill="#ecb400"/>
<polygon points="930.0,616.7 945.9,618.6 965.8,620.6 969.7,628.6 965.8,631.6 949.9,626.6 936.0,620.6 930.0,620.6" fill="#ecb400"/>
<polygon points="961.8,598.8 971.7,596.8 969.7,602.8 963.8,602.8" fill="#b88e00"/>
<polygon points="930.0,604.7 945.9,606.7 941.9,610.7 930.0,610.7" fill="#b88e00"/>
<circle cx="958.8" cy="617.3" r="1.7" fill="#22cc22"/>
<polygon points="886.8,210.6 949.9,210.6 949.9,221.6 989.2,221.6 988.7,223.2 919.3,233.9 918.1,234.3 916.9,233.9 847.9,223.2 847.4,221.6 886.8,221.6" fill="#000"/>
<polygon points="915.0,320.4 937.2,320.4 937.2,331.2 950.2,331.2 949.7,332.7 927.3,344.0 926.1,344.4 924.9,344.0 902.2,332.7 901.7,331.2 915.0,331.2" fill="#000"/>
<polygon points="917.7,520.0 940.2,520.0 940.2,530.7 952.9,530.7 952.4,532.2 929.5,543.0 928.3,543.4 927.1,543.0 905.3,532.2 904.8,530.7 917.7,530.7" fill="#000"/>
</svg></body></html>
